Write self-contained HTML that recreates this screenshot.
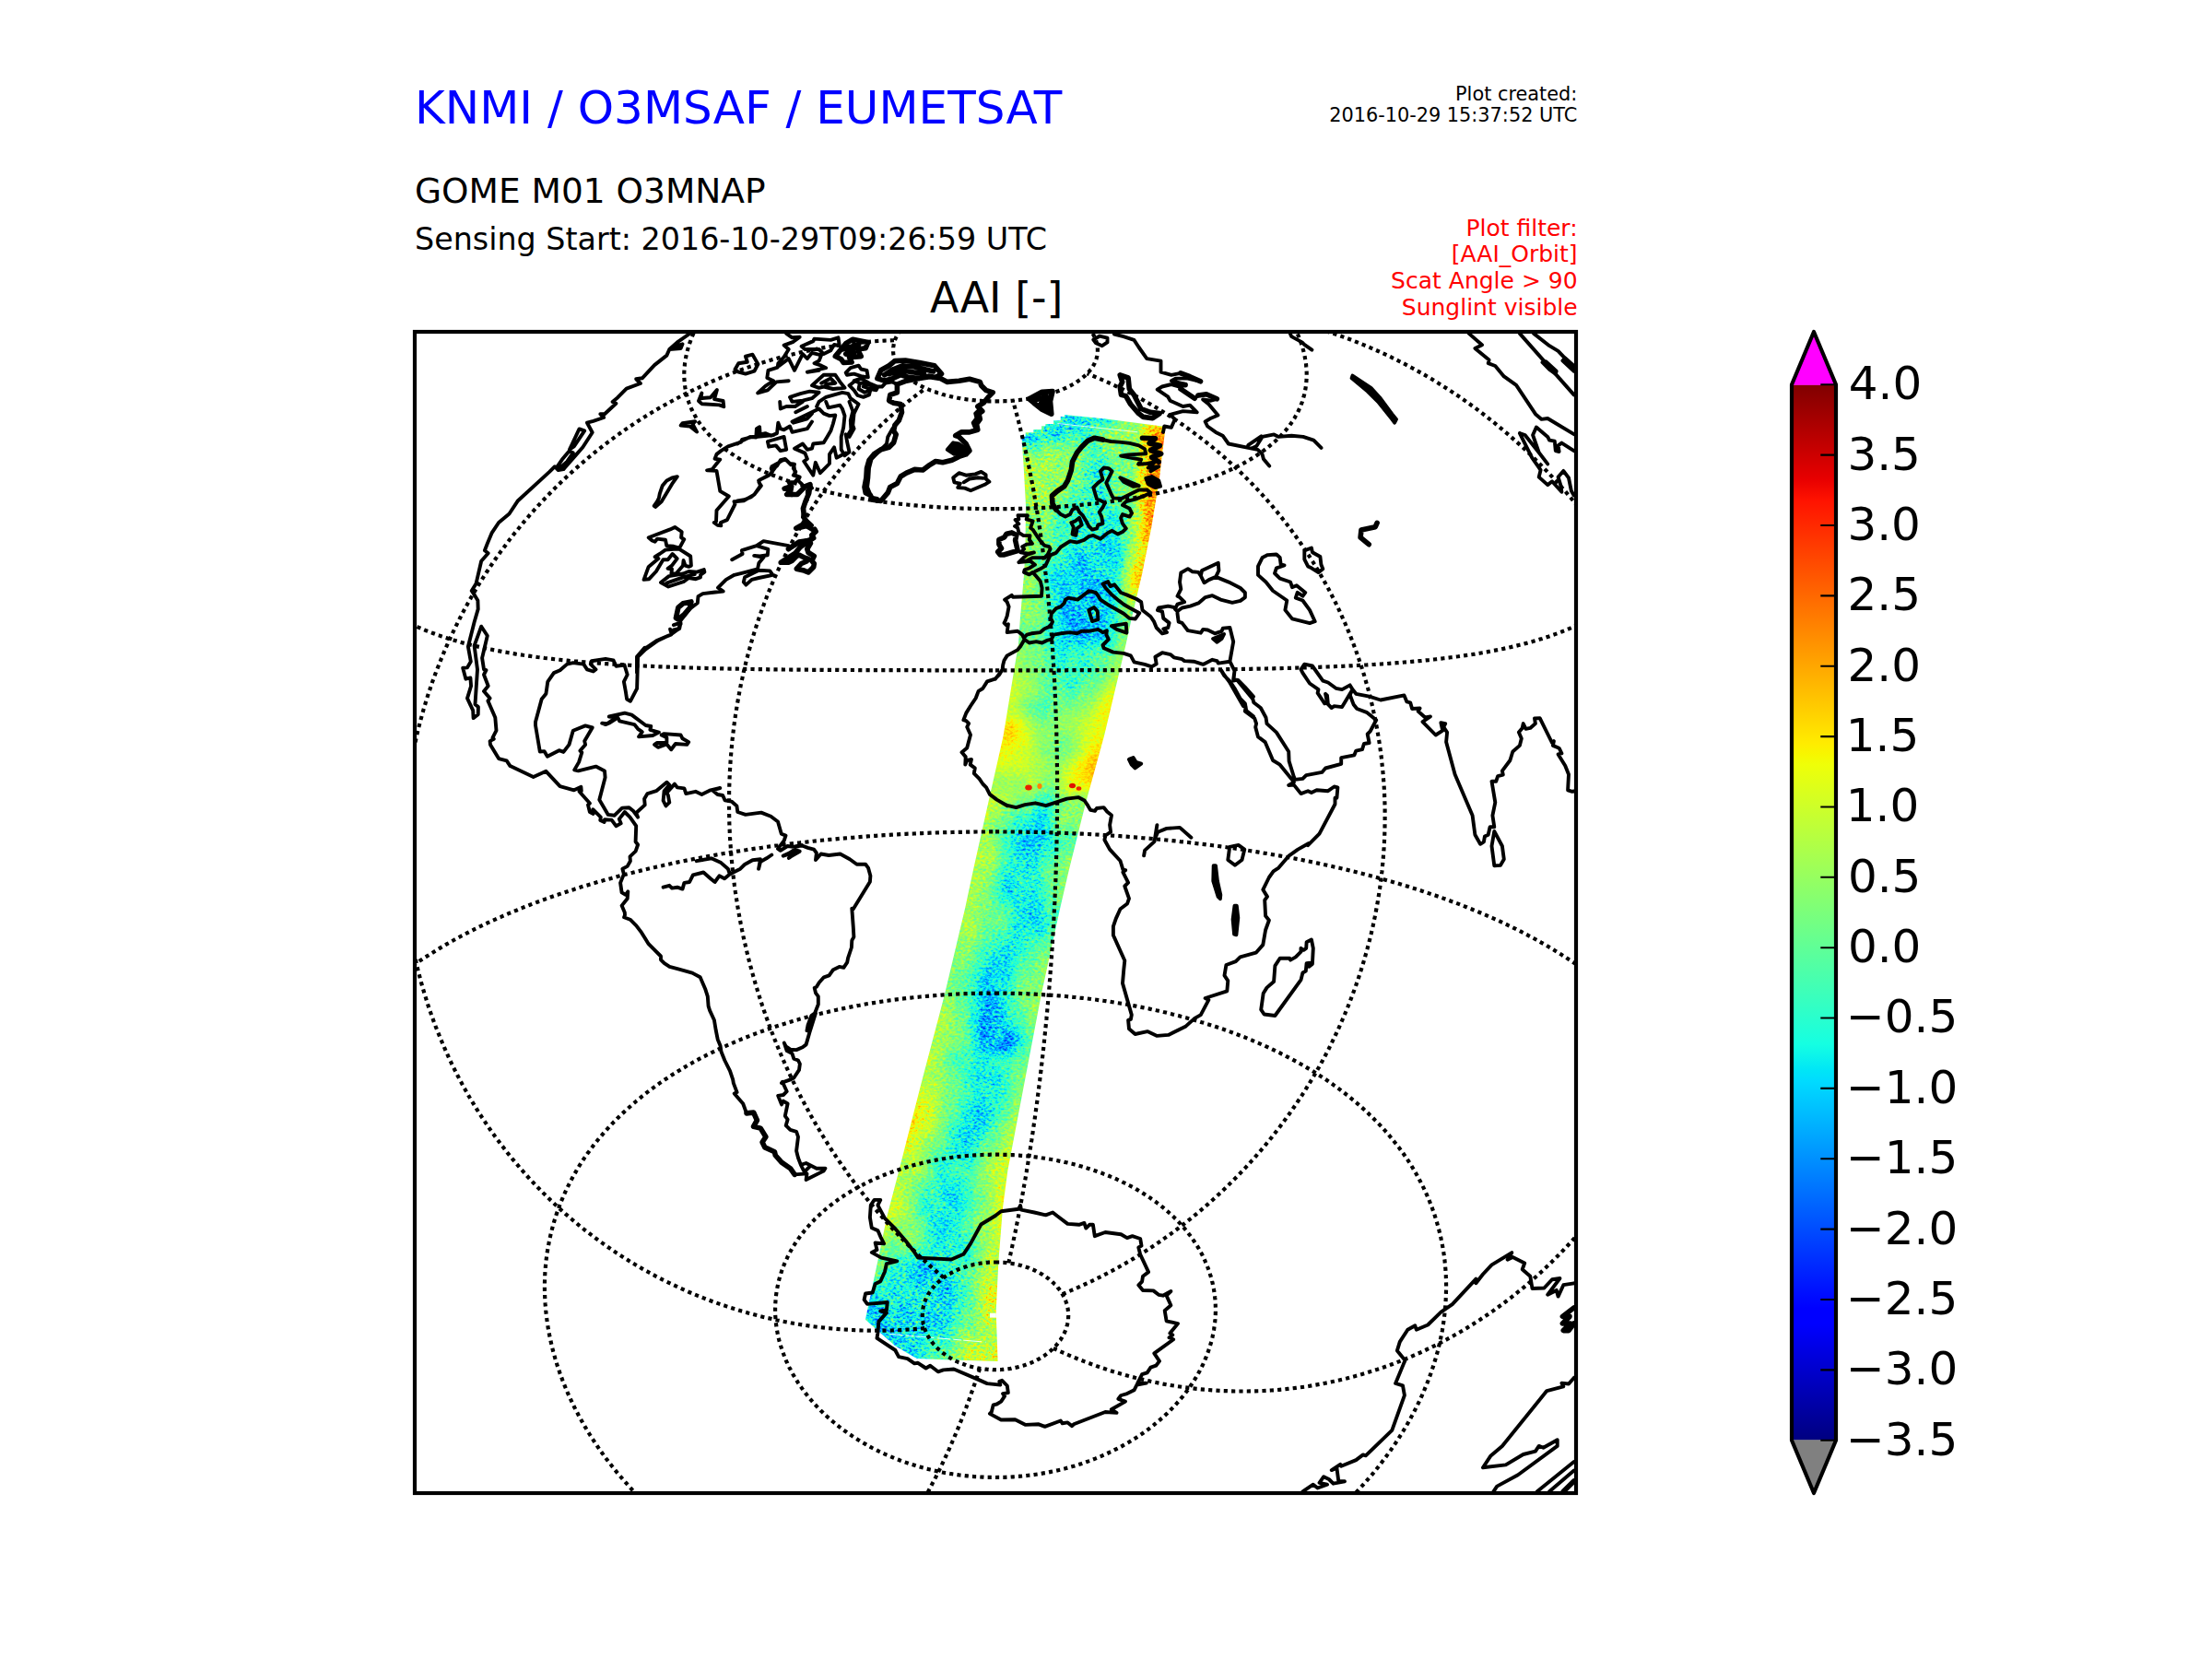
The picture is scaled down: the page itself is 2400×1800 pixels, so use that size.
<!DOCTYPE html>
<html lang="en"><head><meta charset="utf-8"><title>AAI GOME M01 O3MNAP</title>
<style>html,body{margin:0;padding:0;background:#fff}body{width:2400px;height:1800px;overflow:hidden}svg{display:block}text{font-family:"DejaVu Sans","Liberation Sans",sans-serif;fill:#000}.t5{font-size:20.83px}.t6{font-size:25px;fill:#f00}.t12{font-size:50px}.e{text-anchor:end}.g{fill:none;stroke:#000;stroke-width:4.17;stroke-dasharray:4.17 4.17}.c{fill:none;stroke:#000;stroke-width:3.9;stroke-linejoin:round;stroke-linecap:round}</style></head><body>
<svg width="2400" height="1800" viewBox="0 0 2400 1800">
<defs><clipPath id="ax"><rect x="450" y="360" width="1260" height="1260"/></clipPath>
<linearGradient id="jet" x1="0" y1="1" x2="0" y2="0"><stop offset="0" stop-color="#000080"/><stop offset="0.11" stop-color="#0000ff"/><stop offset="0.125" stop-color="#0000ff"/><stop offset="0.34" stop-color="#00dbff"/><stop offset="0.35" stop-color="#00e5f7"/><stop offset="0.375" stop-color="#15ffe2"/><stop offset="0.5" stop-color="#7bff7b"/><stop offset="0.64" stop-color="#efff08"/><stop offset="0.65" stop-color="#f7f600"/><stop offset="0.66" stop-color="#ffec00"/><stop offset="0.89" stop-color="#ff1300"/><stop offset="0.91" stop-color="#e80000"/><stop offset="1" stop-color="#800000"/></linearGradient>
</defs>
<rect width="2400" height="1800" fill="#fff"/>
<text x="450" y="133.5" class="t12" style="fill:#00f">KNMI / O3MSAF / EUMETSAT</text>
<text x="450" y="219.8" style="font-size:37.5px">GOME M01 O3MNAP</text>
<text x="450" y="270.6" style="font-size:33.33px">Sensing Start: 2016-10-29T09:26:59 UTC</text>
<text x="1711.3" y="108.5" class="t5 e">Plot created:</text>
<text x="1711.3" y="132.4" class="t5 e">2016-10-29 15:37:52 UTC</text>
<text x="1711.6" y="255.8" class="t6 e">Plot filter:</text>
<text x="1711.6" y="284.4" class="t6 e">[AAI_Orbit]</text>
<text x="1711.6" y="313.1" class="t6 e">Scat Angle &gt; 90</text>
<text x="1711.6" y="341.7" class="t6 e">Sunglint visible</text>
<text x="1081.3" y="338.8" style="font-size:45.83px;text-anchor:middle">AAI [-]</text>
<g clip-path="url(#ax)">
<defs><clipPath id="sw"><path d="M1108.4,473.6L1112.7,473.6L1112.7,469.3L1121.4,469.3L1121.4,466L1130.1,466L1130.1,462.2L1134.4,462.2L1134.4,460.1L1143.1,460.1L1143.1,456.3L1150.7,456.3L1150.7,451.9L1155.1,451.9L1155.1,450L1200,454.4L1264.6,463L1257.7,521.3L1249.3,571.9L1239.2,622.5L1227.3,673.2L1221.4,700L1215.2,726.2L1198,798.5L1178.1,870.8L1160,943.2L1150.3,985L1129.7,1079.5L1110.7,1178.9L1093.4,1270L1088,1310.6L1083.4,1368.5L1080.7,1422.7L1082.6,1477L1040,1475.8L994.8,1474.1L985,1468.5L970.9,1460L955,1446L938.9,1431.8L952.3,1368.5L962.3,1320L975.4,1270L998.6,1178.9L1024.8,1079.5L1047.2,985L1056.1,943.2L1072.3,870.8L1088.6,798.5L1100.4,726.2L1105,698.5L1106.7,673.2L1111.3,620L1112.5,590L1113,548.5L1110.6,505Z"/></clipPath><filter id="aai" filterUnits="userSpaceOnUse" x="900" y="420" width="400" height="1080" color-interpolation-filters="sRGB"><feGaussianBlur in="SourceGraphic" stdDeviation="3" result="b"/><feTurbulence type="fractalNoise" baseFrequency="0.3 0.42" numOctaves="2" seed="7" result="t"/><feColorMatrix in="t" type="matrix" values="1 0 0 0 0 1 0 0 0 0 1 0 0 0 0 0 0 0 0 1" result="nh"/><feTurbulence type="fractalNoise" baseFrequency="0.05 0.028" numOctaves="3" seed="11" result="t2"/><feColorMatrix in="t2" type="matrix" values="1 0 0 0 0 1 0 0 0 0 1 0 0 0 0 0 0 0 0 1" result="nl"/><feComposite in="nh" in2="nl" operator="arithmetic" k1="0" k2="0.72" k3="0.28" k4="0" result="n"/><feComposite in="b" in2="n" operator="arithmetic" k1="1" k2="0" k3="0" k4="0" result="p"/><feColorMatrix in="p" type="matrix" values="0 1.25 0 0 0 0 1.25 0 0 0 0 1.25 0 0 0 0 0 0 0 1" result="m1"/><feColorMatrix in="b" type="matrix" values="1 -0.625 0 0 0 1 -0.625 0 0 0 1 -0.625 0 0 0 0 0 0 0 1" result="m2"/><feComposite in="m1" in2="m2" operator="arithmetic" k1="0" k2="1" k3="1" k4="0" result="m"/><feComponentTransfer in="m"><feFuncR type="table" tableValues="0 0 0 0 0 0 0 0 0 0 0 0 0 0 0 0 0 0 0 0 0 0 0.054 0.108 0.161 0.215 0.269 0.323 0.376 0.43 0.484 0.538 0.591 0.645 0.699 0.753 0.806 0.86 0.914 0.968 1 1 1 1 1 1 1 1 1 1 1 1 1 1 0.955 0.879 0.803 0.727 0.652 0.576 0.5"/><feFuncG type="table" tableValues="0 0 0 0 0 0 0 0 0.033 0.1 0.167 0.233 0.3 0.367 0.433 0.5 0.567 0.633 0.7 0.767 0.833 0.9 0.967 1 1 1 1 1 1 1 1 1 1 1 1 1 1 1 1 0.963 0.901 0.84 0.778 0.716 0.654 0.593 0.531 0.469 0.407 0.346 0.284 0.222 0.16 0.099 0.037 0 0 0 0 0 0"/><feFuncB type="table" tableValues="0.5 0.576 0.652 0.727 0.803 0.879 0.955 1 1 1 1 1 1 1 1 1 1 1 1 1 1 0.968 0.914 0.86 0.806 0.753 0.699 0.645 0.591 0.538 0.484 0.43 0.376 0.323 0.269 0.215 0.161 0.108 0.054 0 0 0 0 0 0 0 0 0 0 0 0 0 0 0 0 0 0 0 0 0 0"/><feFuncA type="linear" slope="0" intercept="1"/></feComponentTransfer></filter></defs><g clip-path="url(#sw)"><g filter="url(#aai)"><rect x="900" y="420" width="400" height="1080" fill="#777700"/><path fill="#3a9000" d="M1075.9,1120h9.6v11h-9.6z"/><path fill="#3aa000" d="M906.8,1470h23.3v11h-23.3zM929.6,1470h13.3v11h-13.3zM942.3,1470h13.3v11h-13.3zM955.1,1470h13.3v11h-13.3z"/><path fill="#3c9000" d="M1078.1,1110h9.6v11h-9.6z"/><path fill="#3ca000" d="M909.2,1460h23.1v11h-23.1zM931.7,1460h13.1v11h-13.1z"/><path fill="#3d9000" d="M1069.2,1110h9.6v11h-9.6z"/><path fill="#3da000" d="M944.3,1460h13.1v11h-13.1z"/><path fill="#3ea000" d="M956.8,1460h13.1v11h-13.1z"/><path fill="#3f9000" d="M1180.2,650h10.9v11h-10.9zM1178.5,660h10.8v11h-10.8z"/><path fill="#3fa000" d="M911.6,1450h22.9v11h-22.9zM933.9,1450h12.9v11h-12.9z"/><path fill="#408000" d="M1168.3,660h10.8v11h-10.8z"/><path fill="#418000" d="M1169.9,650h10.9v11h-10.9zM1071.5,1100h9.5v11h-9.5zM1066.9,1120h9.6v11h-9.6z"/><path fill="#438000" d="M1181.9,640h11v11h-11zM1084.9,1120h9.6v11h-9.6z"/><path fill="#43a000" d="M946.2,1450h12.9v11h-12.9z"/><path fill="#448000" d="M1176.8,670h10.6v11h-10.6zM1080.3,1100h9.5v11h-9.5zM1073.7,1130h9.7v11h-9.7z"/><path fill="#44b000" d="M1082.5,440h24v11h-24zM1105.9,440h14v11h-14zM1119.3,440h14v11h-14zM1132.8,440h14v11h-14zM1146.2,440h14v11h-14zM1159.6,440h14v11h-14zM1083.5,450h23.8v11h-23.8zM1106.8,450h13.8v11h-13.8zM1084.6,460h23.7v11h-23.7zM1107.7,460h13.7v11h-13.7z"/><path fill="#458000" d="M1171.5,640h11v11h-11zM1166.7,670h10.6v11h-10.6z"/><path fill="#45a000" d="M967.8,1470h13.3v11h-13.3z"/><path fill="#46a000" d="M914,1440h22.7v11h-22.7zM936.1,1440h12.7v11h-12.7zM958.5,1450h12.9v11h-12.9z"/><path fill="#47a000" d="M1120,450h13.8v11h-13.8z"/><path fill="#488000" d="M1082.8,1130h9.7v11h-9.7z"/><path fill="#48a000" d="M969.3,1460h13.1v11h-13.1z"/><path fill="#499000" d="M948.2,1440h12.7v11h-12.7z"/><path fill="#4a8000" d="M1158.2,660h10.8v11h-10.8z"/><path fill="#4aa000" d="M1133.3,450h13.8v11h-13.8z"/><path fill="#4b8000" d="M1190.5,650h10.9v11h-10.9zM1188.6,660h10.8v11h-10.8zM1062.6,1100h9.5v11h-9.5z"/><path fill="#4c8000" d="M1173.1,630h11.1v11h-11.1zM1183.7,630h11.1v11h-11.1zM1159.6,650h10.9v11h-10.9zM1156.7,670h10.6v11h-10.6zM1073.7,1090h9.4v11h-9.4zM1064.6,1130h9.7v11h-9.7z"/><path fill="#4ca000" d="M1146.5,450h13.8v11h-13.8zM1120.7,460h13.7v11h-13.7z"/><path fill="#4d8000" d="M1186.8,670h10.6v11h-10.6zM1060.2,1110h9.6v11h-9.6z"/><path fill="#4d9000" d="M960.3,1440h12.7v11h-12.7z"/><path fill="#4da000" d="M1173,440h14v11h-14zM1159.8,450h13.8v11h-13.8z"/><path fill="#4e8000" d="M1192.3,640h11v11h-11zM1091.9,1130h9.7v11h-9.7z"/><path fill="#4e9000" d="M970.9,1450h12.9v11h-12.9z"/><path fill="#4f8000" d="M1161.1,640h11v11h-11zM1175.2,680h10.5v11h-10.5zM1094,1120h9.6v11h-9.6z"/><path fill="#4f9000" d="M1003.1,1390h11.9v11h-11.9z"/><path fill="#507000" d="M1087.1,1110h9.6v11h-9.6z"/><path fill="#508000" d="M1165.3,680h10.5v11h-10.5zM1064.9,1090h9.4v11h-9.4z"/><path fill="#509000" d="M1004.6,1380h11.7v11h-11.7zM1014.4,1390h11.9v11h-11.9zM1001.7,1400h12v11h-12zM987.2,1420h12.3v11h-12.3zM916.3,1430h22.5v11h-22.5zM938.2,1430h12.5v11h-12.5z"/><path fill="#519000" d="M1015.7,1380h11.7v11h-11.7zM988.7,1410h12.1v11h-12.1zM1000.2,1410h12.1v11h-12.1zM998.9,1420h12.3v11h-12.3zM950.1,1430h12.5v11h-12.5z"/><path fill="#527000" d="M1162.6,630h11.1v11h-11.1zM1155.4,680h10.5v11h-10.5zM1185.1,680h10.5v11h-10.5zM1117.1,900h9.3v11h-9.3zM1114.7,910h9.3v11h-9.3zM1082.6,1090h9.4v11h-9.4z"/><path fill="#528000" d="M1174.7,620h11.2v11h-11.2zM1185.4,620h11.2v11h-11.2z"/><path fill="#529000" d="M990.3,1400h12v11h-12zM962,1430h12.5v11h-12.5zM973.9,1430h12.5v11h-12.5zM985.9,1430h12.5v11h-12.5zM972.4,1440h12.7v11h-12.7z"/><path fill="#537000" d="M1056.2,1210h10.1v11h-10.1z"/><path fill="#539000" d="M991.8,1390h11.9v11h-11.9zM980.5,1470h13.3v11h-13.3z"/><path fill="#547000" d="M1194.2,630h11.1v11h-11.1zM1108.4,900h9.3v11h-9.3zM1106,910h9.3v11h-9.3zM1067.2,1080h9.4v11h-9.4zM1076,1080h9.4v11h-9.4zM1054,1220h10.2v11h-10.2z"/><path fill="#548000" d="M993.4,1380h11.7v11h-11.7z"/><path fill="#549000" d="M1013.1,1400h12v11h-12zM981.9,1460h13.1v11h-13.1z"/><path fill="#54a000" d="M1085.6,470h23.5v11h-23.5zM1108.5,470h13.5v11h-13.5z"/><path fill="#557000" d="M1164.1,620h11.2v11h-11.2zM1057.9,1120h9.6v11h-9.6zM1058.3,1200h10.1v11h-10.1zM1044.4,1220h10.2v11h-10.2z"/><path fill="#558000" d="M1176.1,610h11.4v11h-11.4zM1186.9,610h11.4v11h-11.4zM1006,1370h11.6v11h-11.6z"/><path fill="#559000" d="M975.5,1420h12.3v11h-12.3zM997.8,1430h12.5v11h-12.5z"/><path fill="#55a000" d="M1133.8,460h13.7v11h-13.7z"/><path fill="#567000" d="M1123.4,910h9.3v11h-9.3z"/><path fill="#569000" d="M1173,450h13.8v11h-13.8zM1011.8,1410h12.1v11h-12.1zM1010.6,1420h12.3v11h-12.3zM984.5,1440h12.7v11h-12.7z"/><path fill="#577000" d="M1148,660h10.8v11h-10.8zM1146.7,670h10.6v11h-10.6zM1196.8,670h10.6v11h-10.6zM1125.8,900h9.3v11h-9.3zM1042.2,1230h10.2v11h-10.2z"/><path fill="#578000" d="M995,1370h11.6v11h-11.6zM1017,1370h11.6v11h-11.6z"/><path fill="#579000" d="M918.7,1420h22.3v11h-22.3zM940.4,1420h12.3v11h-12.3zM983.2,1450h12.9v11h-12.9z"/><path fill="#587000" d="M1165.3,610h11.4v11h-11.4zM1196,620h11.2v11h-11.2zM1152.1,630h11.1v11h-11.1zM1149.4,650h10.9v11h-10.9zM1198.8,660h10.8v11h-10.8zM1145.5,680h10.5v11h-10.5zM1195,680h10.5v11h-10.5zM1056.1,1090h9.4v11h-9.4zM1046.6,1210h10.1v11h-10.1z"/><path fill="#588000" d="M1177.3,600h11.5v11h-11.5zM1188.2,600h11.5v11h-11.5z"/><path fill="#589000" d="M952.1,1420h12.3v11h-12.3zM963.8,1420h12.3v11h-12.3z"/><path fill="#597000" d="M1150.7,640h11v11h-11zM1200.7,650h10.9v11h-10.9zM1119.5,890h9.4v11h-9.4zM1112.4,920h9.3v11h-9.3zM1096.8,950h9.2v11h-9.2zM1103.2,960h9.2v11h-9.2zM1122.3,990h9.2v11h-9.2zM1120.1,1000h9.2v11h-9.2zM1069.5,1070h9.3v11h-9.3zM1078.3,1070h9.3v11h-9.3zM1058.4,1080h9.4v11h-9.4zM1053.7,1100h9.5v11h-9.5zM1051.8,1230h10.2v11h-10.2z"/><path fill="#598000" d="M1178.5,590h11.6v11h-11.6zM1026.8,1380h11.7v11h-11.7zM1025.7,1390h11.9v11h-11.9z"/><path fill="#599000" d="M977.1,1410h12.1v11h-12.1z"/><path fill="#5a7000" d="M1197.6,610h11.4v11h-11.4zM1153.4,620h11.2v11h-11.2zM1154.1,690h10.4v11h-10.4zM1163.9,690h10.4v11h-10.4zM1099.6,900h9.3v11h-9.3zM1099,940h9.3v11h-9.3zM1105.4,950h9.2v11h-9.2zM1094.6,960h9.2v11h-9.2z"/><path fill="#5a8000" d="M1189.5,590h11.6v11h-11.6zM920.9,1410h22.1v11h-22.1zM942.5,1410h12.1v11h-12.1zM1009.7,1430h12.5v11h-12.5z"/><path fill="#5b7000" d="M1202.7,640h11v11h-11zM1173.6,690h10.4v11h-10.4zM1183.4,690h10.4v11h-10.4zM1110.7,890h9.4v11h-9.4zM1097.3,910h9.3v11h-9.3zM1103.7,920h9.3v11h-9.3zM1107.6,940h9.3v11h-9.3zM1109.6,970h9.2v11h-9.2zM1113.7,990h9.2v11h-9.2zM1111.4,1000h9.2v11h-9.2zM1074.1,1050h9.3v11h-9.3zM1082.8,1050h9.3v11h-9.3zM1071.8,1060h9.3v11h-9.3zM1080.5,1060h9.3v11h-9.3zM1084.8,1080h9.4v11h-9.4zM1089.2,1100h9.5v11h-9.5zM1060.5,1190h10v11h-10zM1007.5,1360h11.5v11h-11.5z"/><path fill="#5b8000" d="M1166.4,600h11.5v11h-11.5z"/><path fill="#5b9000" d="M1146.9,460h13.7v11h-13.7z"/><path fill="#5c7000" d="M1121.1,920h9.3v11h-9.3zM1110,930h9.3v11h-9.3zM1111.8,960h9.2v11h-9.2zM1101,970h9.2v11h-9.2zM1124.5,980h9.2v11h-9.2zM1109.2,1010h9.2v11h-9.2zM1087.4,1030h9.3v11h-9.3zM1076.4,1040h9.3v11h-9.3zM1085.1,1040h9.3v11h-9.3zM1055.6,1130h9.7v11h-9.7zM1071.5,1140h9.7v11h-9.7zM1048.8,1200h10.1v11h-10.1zM1018.3,1360h11.5v11h-11.5z"/><path fill="#5c8000" d="M1179.6,580h11.8v11h-11.8zM978.8,1400h12v11h-12zM996.6,1440h12.7v11h-12.7z"/><path fill="#5d7000" d="M1199.1,600h11.5v11h-11.5zM1154.6,610h11.4v11h-11.4zM1144.3,690h10.4v11h-10.4zM1101.3,930h9.3v11h-9.3zM1115.9,980h9.2v11h-9.2zM1117.8,1010h9.2v11h-9.2zM1060.8,1070h9.3v11h-9.3zM1062.4,1140h9.7v11h-9.7zM1064.9,1170h9.9v11h-9.9zM1062.7,1180h10v11h-10zM1027.5,1300h10.8v11h-10.8zM1025.6,1310h10.9v11h-10.9z"/><path fill="#5d8000" d="M1190.8,580h11.8v11h-11.8zM1167.5,590h11.6v11h-11.6zM1024.5,1400h12v11h-12zM954,1410h12.1v11h-12.1z"/><path fill="#5d9000" d="M1186.4,440h14v11h-14zM1121.4,470h13.5v11h-13.5z"/><path fill="#5e7000" d="M1128.2,890h9.4v11h-9.4zM1088.1,950h9.2v11h-9.2zM1107.3,980h9.2v11h-9.2zM1100.6,1010h9.2v11h-9.2zM1089.6,1020h9.3v11h-9.3zM1098.3,1020h9.3v11h-9.3zM1078.7,1030h9.3v11h-9.3zM1067.8,1200h10.1v11h-10.1zM1040,1240h10.3v11h-10.3zM996.6,1360h11.5v11h-11.5z"/><path fill="#5e8000" d="M1028,1370h11.6v11h-11.6zM980.6,1390h11.9v11h-11.9zM923.2,1400h22v11h-22zM944.6,1400h12v11h-12zM1022.3,1420h12.3v11h-12.3z"/><path fill="#5f7000" d="M1200.6,590h11.6v11h-11.6zM1204.7,630h11.1v11h-11.1zM1193.2,690h10.4v11h-10.4zM1132.2,910h9.3v11h-9.3zM1118.7,930h9.3v11h-9.3zM1114.1,950h9.2v11h-9.2zM1118.2,970h9.2v11h-9.2zM1105.1,990h9.2v11h-9.2zM1102.8,1000h9.2v11h-9.2zM1096,1030h9.3v11h-9.3zM1065.4,1050h9.3v11h-9.3zM1063.1,1060h9.3v11h-9.3zM1051.3,1110h9.6v11h-9.6zM1080.6,1140h9.7v11h-9.7zM1067.1,1160h9.9v11h-9.9zM1074.2,1170h9.9v11h-9.9zM1065.7,1210h10.1v11h-10.1zM1019.4,1290h10.7v11h-10.7zM1029.5,1290h10.7v11h-10.7zM1017.3,1300h10.8v11h-10.8zM1015.3,1310h10.9v11h-10.9zM1024.1,1320h11.1v11h-11.1zM1019.8,1350h11.4v11h-11.4zM1030.6,1350h11.4v11h-11.4zM984,1370h11.6v11h-11.6z"/><path fill="#5f8000" d="M1180.7,570h11.9v11h-11.9zM1168.4,580h11.8v11h-11.8zM982.3,1380h11.7v11h-11.7zM965.6,1410h12.1v11h-12.1zM1023.3,1410h12.1v11h-12.1z"/><path fill="#606000" d="M1121.8,880h9.4v11h-9.4zM1116.3,940h9.3v11h-9.3zM1092.4,970h9.2v11h-9.2zM1107,1020h9.3v11h-9.3zM1067.7,1040h9.3v11h-9.3zM1051.1,1190h10v11h-10z"/><path fill="#607000" d="M1155.5,600h11.5v11h-11.5zM1090.3,940h9.3v11h-9.3zM1086,960h9.2v11h-9.2zM1087,1070h9.3v11h-9.3zM1032.5,1230h10.2v11h-10.2zM1022.6,1330h11.2v11h-11.2zM1021.2,1340h11.3v11h-11.3zM1031.9,1340h11.3v11h-11.3zM1029.2,1360h11.5v11h-11.5z"/><path fill="#608000" d="M1192,570h11.9v11h-11.9zM995.5,1450h12.9v11h-12.9zM994.4,1460h13.1v11h-13.1z"/><path fill="#609000" d="M1160,460h13.7v11h-13.7z"/><path fill="#616000" d="M1101.9,890h9.4v11h-9.4zM1081,1020h9.3v11h-9.3zM1093.8,1040h9.3v11h-9.3zM1076.3,1160h9.9v11h-9.9zM1055.5,1170h9.9v11h-9.9zM1072,1180h10v11h-10zM1069.9,1190h10v11h-10zM1049.7,1240h10.3v11h-10.3zM1021.4,1280h10.6v11h-10.6zM1031.4,1280h10.6v11h-10.6zM1013.6,1320h11.1v11h-11.1z"/><path fill="#617000" d="M1156.4,590h11.6v11h-11.6zM1142.8,620h11.2v11h-11.2zM1141.6,630h11.1v11h-11.1z"/><path fill="#618000" d="M956,1400h12v11h-12zM993.3,1470h13.3v11h-13.3z"/><path fill="#626000" d="M1091.9,1010h9.2v11h-9.2zM1091.5,1050h9.3v11h-9.3zM1089.3,1060h9.3v11h-9.3zM1057.8,1160h9.9v11h-9.9zM1053.3,1180h10v11h-10zM1034.8,1220h10.2v11h-10.2zM1063.6,1220h10.2v11h-10.2zM1037.7,1250h10.4v11h-10.4zM1033.2,1330h11.2v11h-11.2z"/><path fill="#627000" d="M1206.7,620h11.2v11h-11.2z"/><path fill="#628000" d="M1181.6,560h12.1v11h-12.1zM1169.3,570h11.9v11h-11.9zM1021.6,1430h12.5v11h-12.5zM1008.8,1440h12.7v11h-12.7z"/><path fill="#636000" d="M1140.3,640h11v11h-11zM1152.4,700h10.3v11h-10.3zM1134.6,900h9.3v11h-9.3zM1095,920h9.3v11h-9.3zM1120.4,960h9.2v11h-9.2zM1070,1030h9.3v11h-9.3zM1049.7,1080h9.4v11h-9.4zM1100.9,1130h9.7v11h-9.7zM1053.2,1140h9.7v11h-9.7zM1089.8,1140h9.7v11h-9.7zM1083.5,1170h9.9v11h-9.9zM1030.3,1240h10.3v11h-10.3zM1033.4,1270h10.5v11h-10.5zM1037.7,1300h10.8v11h-10.8zM1036,1310h10.9v11h-10.9zM1034.5,1320h11.1v11h-11.1z"/><path fill="#637000" d="M1202,580h11.8v11h-11.8zM1208.4,610h11.4v11h-11.4z"/><path fill="#638000" d="M1193.1,560h12.1v11h-12.1zM925.4,1390h21.9v11h-21.9zM946.7,1390h11.9v11h-11.9z"/><path fill="#646000" d="M1113.1,880h9.4v11h-9.4zM1130.6,880h9.4v11h-9.4zM1129.8,920h9.3v11h-9.3zM1126.8,970h9.2v11h-9.2zM1098.8,980h9.2v11h-9.2zM1130.9,990h9.2v11h-9.2zM1094.2,1000h9.2v11h-9.2zM1115.6,1020h9.3v11h-9.3zM1091.4,1090h9.4v11h-9.4zM1096,1110h9.6v11h-9.6zM1103,1120h9.6v11h-9.6zM1069.3,1150h9.8v11h-9.8zM1035.5,1260h10.4v11h-10.4zM1023.5,1270h10.5v11h-10.5zM1009.3,1290h10.7v11h-10.7zM1007.1,1300h10.8v11h-10.8zM1012.1,1330h11.2v11h-11.2z"/><path fill="#647000" d="M1157.3,580h11.8v11h-11.8zM1009,1350h11.4v11h-11.4z"/><path fill="#648000" d="M1182.5,550h12.2v11h-12.2zM967.4,1400h12v11h-12z"/><path fill="#649000" d="M1186.3,450h13.8v11h-13.8z"/><path fill="#656000" d="M1139.1,650h10.9v11h-10.9zM1135.6,680h10.5v11h-10.5zM1142.7,700h10.3v11h-10.3zM1162.1,700h10.3v11h-10.3zM1092.6,930h9.3v11h-9.3zM1052.1,1070h9.3v11h-9.3zM1060.1,1150h9.8v11h-9.8zM1085.6,1160h9.9v11h-9.9zM1028,1250h10.4v11h-10.4zM1025.7,1260h10.4v11h-10.4zM1039.6,1290h10.7v11h-10.7zM1005,1310h10.9v11h-10.9z"/><path fill="#657000" d="M1143.8,610h11.4v11h-11.4z"/><path fill="#658000" d="M1194.1,550h12.2v11h-12.2zM958,1390h11.9v11h-11.9z"/><path fill="#666000" d="M1096.5,990h9.2v11h-9.2zM1104.7,1030h9.3v11h-9.3zM1047.2,1090h9.4v11h-9.4zM1047.5,1250h10.4v11h-10.4zM1011.4,1280h10.6v11h-10.6z"/><path fill="#667000" d="M1210,600h11.5v11h-11.5zM985.7,1360h11.5v11h-11.5z"/><path fill="#668000" d="M1183.3,540h12.3v11h-12.3zM1170.2,560h12.1v11h-12.1z"/><path fill="#669000" d="M1134.3,470h13.5v11h-13.5z"/><path fill="#676000" d="M1137.9,660h10.8v11h-10.8zM1136.7,670h10.6v11h-10.6zM1134.6,690h10.4v11h-10.4zM1171.8,700h10.3v11h-10.3zM1124.2,870h9.4v11h-9.4zM1133,870h9.4v11h-9.4zM1090.9,900h9.3v11h-9.3zM1083.8,970h9.2v11h-9.2zM1133.1,980h9.2v11h-9.2zM1128.7,1000h9.2v11h-9.2zM1083.3,1010h9.2v11h-9.2zM1072.3,1020h9.3v11h-9.3zM1054.4,1060h9.3v11h-9.3zM1048.9,1120h9.6v11h-9.6zM1050.9,1150h9.8v11h-9.8zM1078.5,1150h9.8v11h-9.8zM1081.4,1180h10v11h-10zM1061.5,1230h10.2v11h-10.2zM1041.4,1280h10.6v11h-10.6zM1010.5,1340h11.3v11h-11.3z"/><path fill="#677000" d="M1158,570h11.9v11h-11.9zM1145.4,590h11.6v11h-11.6zM1144.6,600h11.5v11h-11.5z"/><path fill="#678000" d="M1183.8,530h12.5v11h-12.5zM969.3,1390h11.9v11h-11.9z"/><path fill="#686000" d="M1181.5,700h10.3v11h-10.3zM1127.3,930h9.3v11h-9.3zM1056.7,1050h9.3v11h-9.3zM1048.6,1160h9.9v11h-9.9zM1079.4,1190h10v11h-10zM1077.3,1200h10.1v11h-10.1zM1045.3,1260h10.4v11h-10.4zM1043.3,1270h10.5v11h-10.5zM1003.1,1320h11.1v11h-11.1zM1041.3,1350h11.4v11h-11.4z"/><path fill="#687000" d="M1203.3,570h11.9v11h-11.9zM973,1370h11.6v11h-11.6z"/><path fill="#688000" d="M1173,460h13.7v11h-13.7zM1195,540h12.3v11h-12.3zM1007.8,1450h12.9v11h-12.9z"/><path fill="#696000" d="M1206.8,670h10.6v11h-10.6zM1150.4,710h10.2v11h-10.2zM1158,720h10.2v11h-10.2zM1167.6,720h10.2v11h-10.2zM1156,730h10.1v11h-10.1zM1140.9,910h9.3v11h-9.3zM1044.1,1140h9.7v11h-9.7zM1037.1,1210h10.1v11h-10.1zM1013.6,1270h10.5v11h-10.5zM1042.6,1340h11.3v11h-11.3z"/><path fill="#697000" d="M1211.6,590h11.6v11h-11.6zM971.1,1380h11.7v11h-11.7z"/><path fill="#698000" d="M1184.4,520h12.7v11h-12.7zM1170.9,550h12.2v11h-12.2zM1020.9,1440h12.7v11h-12.7z"/><path fill="#6a6000" d="M1132.2,620h11.2v11h-11.2zM1131,630h11.1v11h-11.1zM1160.1,710h10.2v11h-10.2zM1148.5,720h10.2v11h-10.2zM1165.5,730h10.1v11h-10.1zM1104.3,880h9.4v11h-9.4zM1088.6,910h9.3v11h-9.3zM1122.7,950h9.2v11h-9.2zM1059,1040h9.3v11h-9.3zM1046.5,1130h9.7v11h-9.7zM1041.7,1150h9.8v11h-9.8zM1046.2,1170h9.9v11h-9.9zM998.2,1350h11.4v11h-11.4z"/><path fill="#6a7000" d="M1146.1,580h11.8v11h-11.8z"/><path fill="#6a8000" d="M1184.8,510h12.9v11h-12.9zM1171.5,540h12.3v11h-12.3z"/><path fill="#6b6000" d="M1208.9,660h10.8v11h-10.8zM1191.1,700h10.3v11h-10.3zM1140.8,710h10.2v11h-10.2zM1177.2,720h10.2v11h-10.2zM1125,940h9.3v11h-9.3zM1079.5,950h9.2v11h-9.2zM1085.6,1000h9.2v11h-9.2zM1126.5,1010h9.2v11h-9.2zM1093.5,1080h9.4v11h-9.4zM1087.7,1150h9.8v11h-9.8zM1075.2,1210h10.1v11h-10.1zM1022.9,1230h10.2v11h-10.2zM1020.6,1240h10.3v11h-10.3zM1018.2,1250h10.4v11h-10.4zM1015.9,1260h10.4v11h-10.4zM1001.5,1330h11.2v11h-11.2zM1040.1,1360h11.5v11h-11.5z"/><path fill="#6b7000" d="M1158.7,560h12.1v11h-12.1zM1204.6,560h12.1v11h-12.1zM960,1380h11.7v11h-11.7z"/><path fill="#6b8000" d="M1199.8,440h14v11h-14zM1147.2,470h13.5v11h-13.5zM1197.1,510h12.9v11h-12.9zM1171.9,530h12.5v11h-12.5zM1195.8,530h12.5v11h-12.5z"/><path fill="#6c6000" d="M1169.7,710h10.2v11h-10.2zM1146.5,730h10.1v11h-10.1zM1154,740h10v11h-10zM1093.2,890h9.4v11h-9.4zM1138.5,920h9.3v11h-9.3zM1077.3,960h9.2v11h-9.2zM1129.1,960h9.2v11h-9.2zM1090.2,980h9.2v11h-9.2zM1044.8,1100h9.5v11h-9.5z"/><path fill="#6c7000" d="M1038,1380h11.7v11h-11.7z"/><path fill="#6c8000" d="M1185.1,500h13v11h-13zM1196.5,520h12.7v11h-12.7z"/><path fill="#6d6000" d="M1133,610h11.4v11h-11.4zM1129.9,640h11v11h-11zM1133,700h10.3v11h-10.3zM1115.4,870h9.4v11h-9.4zM1137,890h9.4v11h-9.4zM1074.6,1010h9.2v11h-9.2zM1061.4,1030h9.3v11h-9.3zM1098.9,1140h9.7v11h-9.7zM1039.4,1200h10.1v11h-10.1z"/><path fill="#6d7000" d="M1213.2,580h11.8v11h-11.8zM1039,1370h11.6v11h-11.6zM927.7,1380h21.7v11h-21.7zM948.8,1380h11.7v11h-11.7zM1037,1390h11.9v11h-11.9zM1034,1420h12.3v11h-12.3zM1006.9,1460h13.1v11h-13.1z"/><path fill="#6d8000" d="M1197.6,500h13v11h-13zM1172.3,520h12.7v11h-12.7z"/><path fill="#6e6000" d="M1133.7,600h11.5v11h-11.5zM1204.9,680h10.5v11h-10.5zM1179.3,710h10.2v11h-10.2zM1138.9,720h10.2v11h-10.2zM1175.1,730h10.1v11h-10.1zM1144.6,740h10v11h-10zM1163.5,740h10v11h-10zM1143.3,900h9.3v11h-9.3zM1081.7,940h9.3v11h-9.3zM1113.4,1030h9.3v11h-9.3zM1043.3,1070h9.3v11h-9.3zM1043.9,1180h10v11h-10zM1025.2,1220h10.2v11h-10.2zM999.2,1290h10.7v11h-10.7zM996.9,1300h10.8v11h-10.8zM974.8,1360h11.5v11h-11.5z"/><path fill="#6e7000" d="M1205.7,550h12.2v11h-12.2zM1146.7,570h11.9v11h-11.9zM1134.4,590h11.6v11h-11.6zM1033.5,1430h12.5v11h-12.5z"/><path fill="#6f6000" d="M1186.8,720h10.2v11h-10.2zM1135.5,860h9.4v11h-9.4zM1087.9,990h9.2v11h-9.2zM1139.5,990h9.2v11h-9.2zM1148.1,990h19.2v11h-19.2zM1102.5,1040h9.3v11h-9.3zM1045.7,1060h9.3v11h-9.3zM1040.9,1080h9.4v11h-9.4zM1034.9,1140h9.7v11h-9.7zM1039.3,1160h9.9v11h-9.9zM1041.6,1190h10v11h-10zM1059.4,1240h10.3v11h-10.3zM1043.8,1330h11.2v11h-11.2zM999.9,1340h11.3v11h-11.3z"/><path fill="#6f7000" d="M1159.3,550h12.2v11h-12.2zM1035.9,1400h12v11h-12zM1034.9,1410h12.1v11h-12.1zM1006,1470h13.3v11h-13.3z"/><path fill="#6f8000" d="M1160.1,470h13.5v11h-13.5z"/><path fill="#705000" d="M1048,1050h9.3v11h-9.3zM1095.7,1070h9.3v11h-9.3z"/><path fill="#706000" d="M1126.7,860h9.4v11h-9.4zM1135.4,970h9.2v11h-9.2zM1073.2,1220h10.2v11h-10.2zM1001.5,1280h10.6v11h-10.6zM994.6,1310h10.9v11h-10.9z"/><path fill="#708000" d="M1199.5,450h13.8v11h-13.8zM1185.4,490h13.2v11h-13.2zM1198,490h13.2v11h-13.2z"/><path fill="#715000" d="M1128.8,650h10.9v11h-10.9zM1125.7,680h10.5v11h-10.5zM1124.8,690h10.4v11h-10.4zM1189,710h10.2v11h-10.2zM1137,730h10.1v11h-10.1zM1142.6,750h10v11h-10zM1152,750h10v11h-10zM1141.8,870h9.4v11h-9.4zM1149.6,910h9.3v11h-9.3zM1136,930h9.3v11h-9.3zM1063.7,1020h9.3v11h-9.3zM1124.3,1020h9.3v11h-9.3zM1098.1,1100h9.5v11h-9.5zM1042.3,1110h9.6v11h-9.6zM1105,1110h9.6v11h-9.6zM1032.5,1150h9.8v11h-9.8z"/><path fill="#716000" d="M961.9,1370h11.6v11h-11.6z"/><path fill="#717000" d="M1159.8,540h12.3v11h-12.3zM1134.9,580h11.8v11h-11.8zM1020.2,1450h12.9v11h-12.9z"/><path fill="#718000" d="M1172.5,510h12.9v11h-12.9z"/><path fill="#725000" d="M1211,650h10.9v11h-10.9zM1131.2,710h10.2v11h-10.2zM1131.4,760h9.9v11h-9.9zM1139.4,880h9.4v11h-9.4zM1075.2,970h9.2v11h-9.2zM1141.7,980h9.2v11h-9.2zM1150.3,980h19.2v11h-19.2zM1096.9,1150h9.8v11h-9.8zM1094.8,1160h9.9v11h-9.9zM1045,1320h11.1v11h-11.1z"/><path fill="#726000" d="M1052.1,1350h11.4v11h-11.4z"/><path fill="#727000" d="M1160,530h12.5v11h-12.5zM1206.8,540h12.3v11h-12.3zM1214.7,570h11.9v11h-11.9z"/><path fill="#728000" d="M1186.1,460h13.7v11h-13.7z"/><path fill="#735000" d="M1203,690h10.4v11h-10.4zM1135.1,740h10v11h-10zM1140.7,760h9.9v11h-9.9zM1095.5,880h9.4v11h-9.4zM1082.1,900h9.3v11h-9.3zM1077,1000h9.2v11h-9.2zM1050.4,1040h9.3v11h-9.3zM1100.2,1050h9.3v11h-9.3zM1098,1060h9.3v11h-9.3zM1092.8,1170h9.9v11h-9.9zM1057.2,1250h10.4v11h-10.4zM1047.9,1300h10.8v11h-10.8zM1046.3,1310h10.9v11h-10.9zM1053.2,1340h11.3v11h-11.3z"/><path fill="#736000" d="M987.4,1350h11.4v11h-11.4z"/><path fill="#737000" d="M1147.2,560h12.1v11h-12.1zM1033,1440h12.7v11h-12.7z"/><path fill="#738000" d="M1173,470h13.5v11h-13.5zM1185.7,480h13.3v11h-13.3z"/><path fill="#745000" d="M1184.6,730h10.1v11h-10.1zM1133.2,750h10v11h-10zM1152.1,900h9.3v11h-9.3zM1086.3,920h9.3v11h-9.3zM1131.3,950h9.2v11h-9.2zM1081.6,980h9.2v11h-9.2zM1137.3,1000h9.2v11h-9.2zM1145.9,1000h19.2v11h-19.2zM1038.4,1090h9.4v11h-9.4zM1037.4,1130h9.7v11h-9.7zM1036.9,1170h9.9v11h-9.9zM1049.7,1290h10.7v11h-10.7zM992.7,1320h11.1v11h-11.1z"/><path fill="#748000" d="M1172.7,500h13v11h-13z"/><path fill="#755000" d="M1127.7,660h10.8v11h-10.8zM1126.6,670h10.6v11h-10.6zM1161.4,750h10v11h-10zM1106.6,870h9.4v11h-9.4zM1147.2,920h9.3v11h-9.3zM1084,930h9.3v11h-9.3zM1100.2,1090h9.4v11h-9.4zM1039.9,1120h9.6v11h-9.6zM1071.1,1230h10.2v11h-10.2zM1055.1,1260h10.4v11h-10.4zM1003.8,1270h10.5v11h-10.5zM1051.4,1280h10.6v11h-10.6z"/><path fill="#758000" d="M1086.5,480h23.3v11h-23.3zM1109.2,480h13.3v11h-13.3zM1160.2,520h12.7v11h-12.7z"/><path fill="#765000" d="M1123.3,700h10.3v11h-10.3zM1129.3,720h10.2v11h-10.2zM1172.9,740h10v11h-10zM1129.5,770h9.9v11h-9.9zM1133.6,940h9.3v11h-9.3zM1052.7,1030h9.3v11h-9.3zM1025.8,1140h9.7v11h-9.7zM1090.8,1180h10v11h-10zM1027.6,1210h10.1v11h-10.1zM1053.2,1270h10.5v11h-10.5z"/><path fill="#766000" d="M1135.3,570h11.9v11h-11.9zM1051,1360h11.5v11h-11.5z"/><path fill="#767000" d="M1216,560h12.1v11h-12.1z"/><path fill="#768000" d="M1198.4,480h13.3v11h-13.3z"/><path fill="#775000" d="M1122,760h9.9v11h-9.9zM1084.4,890h9.4v11h-9.4zM1137.7,960h9.2v11h-9.2zM1066,1010h9.2v11h-9.2zM1037,1060h9.3v11h-9.3zM1110,1130h9.7v11h-9.7zM1119.1,1130h19.7v11h-19.7zM1108,1140h9.7v11h-9.7zM1117.2,1140h19.7v11h-19.7zM1006.1,1260h10.4v11h-10.4zM990.9,1330h11.2v11h-11.2z"/><path fill="#776000" d="M963.9,1360h11.5v11h-11.5z"/><path fill="#777000" d="M1213.3,440h14v11h-14zM1185.9,470h13.5v11h-13.5zM1172.9,480h13.3v11h-13.3zM1147.7,550h12.2v11h-12.2z"/><path fill="#785000" d="M1121.5,620h11.2v11h-11.2zM1138.8,770h9.9v11h-9.9zM1079.8,910h9.3v11h-9.3zM1079.3,990h9.2v11h-9.2zM1122.1,1030h9.3v11h-9.3zM1039.3,1050h9.3v11h-9.3zM1034.6,1070h9.3v11h-9.3zM1023.3,1150h9.8v11h-9.8zM1088.8,1190h10v11h-10zM1086.8,1200h10.1v11h-10.1z"/><path fill="#786000" d="M1122.8,600h11.5v11h-11.5zM1122.3,610h11.4v11h-11.4z"/><path fill="#787000" d="M1121.9,480h13.3v11h-13.3zM1172.8,490h13.2v11h-13.2zM1209.4,510h12.9v11h-12.9zM1207.7,530h12.5v11h-12.5zM1019.5,1460h13.1v11h-13.1z"/><path fill="#795000" d="M1120.5,630h11.1v11h-11.1zM1115.8,680h10.5v11h-10.5zM1127.5,730h10.1v11h-10.1zM1150,760h9.9v11h-9.9zM1148.2,810h9.6v11h-9.6zM1158.3,910h9.3v11h-9.3zM1167,910h19.3v11h-19.3zM1070.9,950h9.2v11h-9.2zM1068.7,960h9.2v11h-9.2zM1135.1,1010h9.2v11h-9.2zM1143.8,1010h19.2v11h-19.2zM1107,1100h9.5v11h-9.5zM1112,1120h9.6v11h-9.6zM1121,1120h19.6v11h-19.6zM1106.1,1150h9.8v11h-9.8zM1115.3,1150h19.8v11h-19.8zM1030,1160h9.9v11h-9.9zM1034.5,1180h10v11h-10zM1010.9,1240h10.3v11h-10.3zM1008.5,1250h10.4v11h-10.4zM989.1,1290h10.7v11h-10.7zM986.6,1300h10.8v11h-10.8zM989.2,1340h11.3v11h-11.3z"/><path fill="#797000" d="M1210,500h13v11h-13zM1160.3,510h12.9v11h-12.9z"/><path fill="#7a5000" d="M1119.5,640h11v11h-11zM1115,690h10.4v11h-10.4zM1200.8,700h10.3v11h-10.3zM1121.5,710h10.2v11h-10.2zM1141.7,800h9.7v11h-9.7zM1150.8,800h9.7v11h-9.7zM1139.2,810h9.6v11h-9.6zM1117.8,860h9.4v11h-9.4zM1144.3,860h9.4v11h-9.4zM1150.6,870h9.4v11h-9.4zM1144.7,930h9.3v11h-9.3zM1055,1020h9.3v11h-9.3zM1041.7,1040h9.3v11h-9.3zM1102.3,1080h9.4v11h-9.4zM1029.9,1200h10.1v11h-10.1zM1084.8,1210h10.1v11h-10.1zM1013.2,1230h10.2v11h-10.2z"/><path fill="#7a6000" d="M1123.3,590h11.6v11h-11.6zM929.9,1370h21.6v11h-21.6zM950.9,1370h11.6v11h-11.6zM1050,1370h11.6v11h-11.6z"/><path fill="#7a7000" d="M1160.2,480h13.3v11h-13.3zM1208.6,520h12.7v11h-12.7zM1217.3,550h12.2v11h-12.2zM1135.7,560h12.1v11h-12.1z"/><path fill="#7b5000" d="M1213.1,640h11v11h-11zM1118.5,650h10.9v11h-10.9zM1116.6,670h10.6v11h-10.6zM1216.9,670h10.6v11h-10.6zM1226.9,670h20.6v11h-20.6zM1120.2,770h9.9v11h-9.9zM1129.2,850h9.5v11h-9.5zM1138,850h9.5v11h-9.5zM1145.8,890h9.4v11h-9.4zM1160.8,900h9.3v11h-9.3zM1169.5,900h19.3v11h-19.3zM1111.2,1040h9.3v11h-9.3zM1032.1,1080h9.4v11h-9.4zM1109.1,1090h9.4v11h-9.4zM1032.2,1190h10v11h-10zM991.5,1280h10.6v11h-10.6zM1054.3,1330h11.2v11h-11.2zM976.6,1350h11.4v11h-11.4z"/><path fill="#7b7000" d="M1212.8,450h13.8v11h-13.8zM1199.2,460h13.7v11h-13.7zM1045.7,1420h12.3v11h-12.3zM1045.4,1430h12.5v11h-12.5zM1032.5,1450h12.9v11h-12.9z"/><path fill="#7c5000" d="M1117.6,660h10.8v11h-10.8zM1198.6,710h10.2v11h-10.2zM1196.3,720h10.2v11h-10.2zM1123.9,750h10v11h-10zM1086.7,880h9.4v11h-9.4zM1066.5,970h9.2v11h-9.2zM1144,970h9.2v11h-9.2zM1152.6,970h19.2v11h-19.2zM1073,980h9.2v11h-9.2zM1068.3,1000h9.2v11h-9.2zM1015.6,1220h10.2v11h-10.2zM1069.1,1240h10.3v11h-10.3zM984.3,1310h10.9v11h-10.9z"/><path fill="#7c6000" d="M1123.7,580h11.8v11h-11.8z"/><path fill="#7c7000" d="M1134.7,480h13.3v11h-13.3zM1147.4,480h13.3v11h-13.3zM1210.6,490h13.2v11h-13.2zM1160.3,500h13v11h-13zM1148,540h12.3v11h-12.3zM1018.7,1470h13.3v11h-13.3z"/><path fill="#7d5000" d="M1219.1,660h10.8v11h-10.8zM1229.2,660h20.8v11h-20.8zM1119.7,720h10.2v11h-10.2zM1125.7,740h10v11h-10zM1112.7,760h9.9v11h-9.9zM1097.8,870h9.4v11h-9.4zM1073,940h9.3v11h-9.3zM1140,950h9.2v11h-9.2zM1044,1030h9.3v11h-9.3zM1035.9,1100h9.5v11h-9.5zM965.9,1350h11.4v11h-11.4z"/><path fill="#7d7000" d="M1198.8,470h13.5v11h-13.5z"/><path fill="#7e3000" d="M1113.6,700h10.3v11h-10.3z"/><path fill="#7e5000" d="M1182.4,740h10v11h-10zM1170.8,750h10v11h-10zM1159.4,870h9.4v11h-9.4zM1073.4,900h9.3v11h-9.3zM1155.9,920h9.3v11h-9.3zM1164.5,920h19.3v11h-19.3zM1142.3,940h9.3v11h-9.3zM1132.9,1020h9.3v11h-9.3zM1141.6,1020h19.3v11h-19.3zM1119.8,1040h9.3v11h-9.3zM1009.5,1060h19.3v11h-19.3zM1028.2,1060h9.3v11h-9.3zM1111.1,1080h9.4v11h-9.4zM1114,1110h9.6v11h-9.6zM1122.9,1110h19.6v11h-19.6zM1028.3,1130h9.7v11h-9.7zM1104.1,1160h9.9v11h-9.9zM1113.4,1160h19.9v11h-19.9zM1082.8,1220h10.2v11h-10.2z"/><path fill="#7e6000" d="M1049.1,1380h11.7v11h-11.7z"/><path fill="#7e7000" d="M1160.2,490h13.2v11h-13.2zM1046.4,1410h12.1v11h-12.1zM1045.1,1440h12.7v11h-12.7z"/><path fill="#7f3000" d="M1159.3,760h9.9v11h-9.9zM1148,770h9.9v11h-9.9zM1136.8,780h9.8v11h-9.8z"/><path fill="#7f5000" d="M1148.2,880h9.4v11h-9.4zM1075.6,890h9.4v11h-9.4zM1154.5,890h9.4v11h-9.4zM1057.4,1010h9.2v11h-9.2zM1104.5,1070h9.3v11h-9.3zM1027.6,1170h9.9v11h-9.9zM934.3,1350h21.4v11h-21.4zM955.1,1350h11.4v11h-11.4z"/><path fill="#7f6000" d="M1124,570h11.9v11h-11.9z"/><path fill="#7f7000" d="M1218.5,540h12.3v11h-12.3zM1136.1,550h12.2v11h-12.2zM1048.2,1390h11.9v11h-11.9z"/><path fill="#803000" d="M1194.1,730h10.1v11h-10.1z"/><path fill="#805000" d="M1070.7,990h9.2v11h-9.2zM1046.4,1020h9.3v11h-9.3zM1011.9,1050h19.3v11h-19.3zM1030.6,1050h9.3v11h-9.3zM1113.2,1070h9.3v11h-9.3zM1029.5,1090h9.4v11h-9.4zM1018,1210h10.1v11h-10.1zM1067,1250h10.4v11h-10.4zM993.9,1270h10.5v11h-10.5zM982.2,1320h11.1v11h-11.1zM1055.5,1320h11.1v11h-11.1z"/><path fill="#806000" d="M932.1,1360h21.5v11h-21.5zM953,1360h11.5v11h-11.5z"/><path fill="#807000" d="M1211.2,480h13.3v11h-13.3zM1148,530h12.5v11h-12.5zM1047.3,1400h12v11h-12z"/><path fill="#813000" d="M1111,770h9.9v11h-9.9zM1127.6,780h9.8v11h-9.8zM1145.7,820h9.6v11h-9.6zM1109,860h9.4v11h-9.4z"/><path fill="#815000" d="M1086.6,670h20.6v11h-20.6zM1106.6,670h10.6v11h-10.6zM1086,680h20.5v11h-20.5zM1105.9,680h10.5v11h-10.5zM1071.1,910h9.3v11h-9.3zM1130.7,1030h9.3v11h-9.3zM1139.4,1030h19.3v11h-19.3zM1128.5,1040h9.3v11h-9.3zM1137.2,1040h19.3v11h-19.3zM1108.9,1050h9.3v11h-9.3zM1117.6,1050h9.3v11h-9.3zM1126.3,1050h9.3v11h-9.3zM1135,1050h19.3v11h-19.3zM1106.7,1060h9.3v11h-9.3zM1115.4,1060h9.3v11h-9.3zM1124.1,1060h9.3v11h-9.3zM1132.9,1060h19.3v11h-19.3zM1007.1,1070h19.3v11h-19.3zM1025.9,1070h9.3v11h-9.3zM1121.9,1070h9.3v11h-9.3zM1130.7,1070h19.3v11h-19.3zM1119.9,1080h9.4v11h-9.4zM1128.6,1080h19.4v11h-19.4zM1117.9,1090h9.4v11h-9.4zM1126.7,1090h19.4v11h-19.4zM1115.9,1100h9.5v11h-9.5zM1124.8,1100h19.5v11h-19.5zM978.5,1340h11.3v11h-11.3z"/><path fill="#817000" d="M1124.3,560h12.1v11h-12.1z"/><path fill="#823000" d="M1111.9,710h10.2v11h-10.2zM1118,730h10.1v11h-10.1zM1144,790h9.7v11h-9.7zM1132.6,800h9.7v11h-9.7zM1136.7,820h9.6v11h-9.6zM1131.7,840h9.5v11h-9.5zM1140.6,840h9.5v11h-9.5z"/><path fill="#825000" d="M1014.3,1040h19.3v11h-19.3zM1033,1040h9.3v11h-9.3zM1033.4,1110h9.6v11h-9.6zM1030.8,1120h9.6v11h-9.6zM1025.2,1180h10v11h-10zM1020.4,1200h10.1v11h-10.1zM1080.8,1230h10.2v11h-10.2zM1064.9,1260h10.4v11h-10.4zM1056.6,1310h10.9v11h-10.9zM980.3,1330h11.2v11h-11.2zM1062.9,1350h11.4v11h-11.4z"/><path fill="#827000" d="M1226.7,440h14v11h-14zM1148,520h12.7v11h-12.7z"/><path fill="#833000" d="M1134.9,790h9.7v11h-9.7zM1157.3,810h9.6v11h-9.6z"/><path fill="#835000" d="M1087.3,660h20.8v11h-20.8zM1107.4,660h10.8v11h-10.8zM1214.8,680h10.5v11h-10.5zM1224.7,680h20.5v11h-20.5zM1085.5,690h20.4v11h-20.4zM1105.2,690h10.4v11h-10.4zM1168.2,870h9.4v11h-9.4zM1177,870h19.4v11h-19.4zM1157,880h9.4v11h-9.4zM1077.6,920h9.3v11h-9.3zM1153.4,930h9.3v11h-9.3zM1162,930h19.3v11h-19.3zM1146.3,960h9.2v11h-9.2zM1154.9,960h19.2v11h-19.2zM1059.7,1000h9.2v11h-9.2zM1048.7,1010h9.2v11h-9.2zM1020.8,1160h9.9v11h-9.9zM1102.1,1170h9.9v11h-9.9zM1111.4,1170h19.9v11h-19.9zM1022.8,1190h10v11h-10zM996.3,1260h10.4v11h-10.4zM1063.1,1270h10.5v11h-10.5zM1061.4,1280h10.6v11h-10.6zM1059.8,1290h10.7v11h-10.7zM1058.1,1300h10.8v11h-10.8zM967.8,1340h11.3v11h-11.3zM1063.9,1340h11.3v11h-11.3z"/><path fill="#836000" d="M1091,600h21.5v11h-21.5zM1111.9,600h11.5v11h-11.5zM1090.7,610h21.4v11h-21.4zM1111.5,610h11.4v11h-11.4z"/><path fill="#837000" d="M1148,510h12.9v11h-12.9zM1032,1460h13.1v11h-13.1z"/><path fill="#843000" d="M1146,780h9.8v11h-9.8zM1159.9,800h9.7v11h-9.7zM1134.2,830h9.6v11h-9.6zM1143.1,830h9.6v11h-9.6zM1153.2,860h9.4v11h-9.4z"/><path fill="#845000" d="M1077.9,880h9.4v11h-9.4zM1163.3,890h9.4v11h-9.4zM1172,890h19.4v11h-19.4zM1062.2,950h9.2v11h-9.2zM1060.1,960h9.2v11h-9.2zM1064.4,980h9.2v11h-9.2zM1016.7,1030h19.3v11h-19.3zM1035.3,1030h9.3v11h-9.3zM1016.7,1140h9.7v11h-9.7zM936.5,1340h21.3v11h-21.3zM957.1,1340h11.3v11h-11.3z"/><path fill="#846000" d="M1061.9,1360h11.5v11h-11.5z"/><path fill="#847000" d="M1212.3,460h13.7v11h-13.7zM1147.7,490h13.2v11h-13.2zM1147.9,500h13v11h-13zM1124.5,550h12.2v11h-12.2zM1044.8,1450h12.9v11h-12.9z"/><path fill="#853000" d="M1114.5,750h10v11h-10zM1153.1,790h9.7v11h-9.7zM1130.1,810h9.6v11h-9.6zM1100.1,860h9.4v11h-9.4z"/><path fill="#855000" d="M1215.2,630h11.1v11h-11.1zM1089,870h9.4v11h-9.4zM1075.3,930h9.3v11h-9.3zM1057.9,970h9.2v11h-9.2zM1019.1,1020h19.3v11h-19.3zM1037.7,1020h9.3v11h-9.3zM1014.1,1150h9.8v11h-9.8zM998.7,1250h10.4v11h-10.4zM981.5,1280h10.6v11h-10.6zM979,1290h10.7v11h-10.7z"/><path fill="#857000" d="M1136.3,540h12.3v11h-12.3z"/><path fill="#863000" d="M1084.2,700h20.3v11h-20.3zM1103.9,700h10.3v11h-10.3zM1110.2,720h10.2v11h-10.2zM1180.2,750h10v11h-10zM1168.7,760h9.9v11h-9.9zM1157.3,770h9.9v11h-9.9z"/><path fill="#865000" d="M1090.2,620h21.2v11h-21.2zM1110.9,620h11.2v11h-11.2zM1088,650h20.9v11h-20.9zM1108.3,650h10.9v11h-10.9zM1165.8,880h9.4v11h-9.4zM1174.5,880h19.4v11h-19.4zM1064.4,940h9.3v11h-9.3zM1150.9,940h9.3v11h-9.3zM1159.6,940h19.3v11h-19.3zM1148.6,950h9.2v11h-9.2zM1157.3,950h19.2v11h-19.2zM1062,990h9.2v11h-9.2zM1051.1,1000h9.2v11h-9.2zM1100.2,1180h10v11h-10zM1109.5,1180h20v11h-20z"/><path fill="#866000" d="M1091.3,590h21.6v11h-21.6zM1112.3,590h11.6v11h-11.6z"/><path fill="#867000" d="M1226,450h13.8v11h-13.8zM1211.7,470h13.5v11h-13.5z"/><path fill="#873000" d="M1116.2,740h10v11h-10zM1125.7,790h9.7v11h-9.7z"/><path fill="#875000" d="M1055.8,980h9.2v11h-9.2zM1053.4,990h9.2v11h-9.2zM1021.4,1010h19.2v11h-19.2zM1040.1,1010h9.2v11h-9.2zM1027,1100h9.5v11h-9.5zM1001.2,1240h10.3v11h-10.3zM1078.8,1240h10.3v11h-10.3z"/><path fill="#876000" d="M1220.9,600h11.5v11h-11.5zM1061.1,1370h11.6v11h-11.6z"/><path fill="#877000" d="M1087.3,490h23.2v11h-23.2zM1109.9,490h13.2v11h-13.2zM1222.4,500h13v11h-13zM1221.6,510h12.9v11h-12.9z"/><path fill="#883000" d="M1210.5,700h10.3v11h-10.3zM1220.2,700h20.3v11h-20.3zM1208.2,710h10.2v11h-10.2zM1217.9,710h20.2v11h-20.2zM1205.9,720h10.2v11h-10.2zM1215.5,720h20.2v11h-20.2zM1103.4,760h9.9v11h-9.9zM1093.6,850h9.5v11h-9.5zM1162,860h9.4v11h-9.4z"/><path fill="#885000" d="M1089.5,630h21.1v11h-21.1zM1110,630h11.1v11h-11.1zM1088.7,640h21v11h-21zM1109.1,640h11v11h-11zM1212.7,690h10.4v11h-10.4zM1222.5,690h20.4v11h-20.4zM1048.1,890h19.4v11h-19.4zM1066.9,890h9.4v11h-9.4zM1045.9,900h19.3v11h-19.3zM1064.6,900h9.3v11h-9.3zM1026.2,990h19.2v11h-19.2zM1044.8,990h9.2v11h-9.2zM1023.8,1000h19.2v11h-19.2zM1042.5,1000h9.2v11h-9.2zM1004.6,1080h19.4v11h-19.4zM1023.4,1080h9.4v11h-9.4zM1019.2,1130h9.7v11h-9.7zM1098.2,1190h10v11h-10zM1107.6,1190h20v11h-20zM1096.3,1200h10.1v11h-10.1zM1105.7,1200h20.1v11h-20.1zM976.4,1300h10.8v11h-10.8zM1064.9,1330h11.2v11h-11.2z"/><path fill="#886000" d="M1091.3,570h21.9v11h-21.9zM1112.7,570h11.9v11h-11.9zM1091.4,580h21.8v11h-21.8zM1112.6,580h11.8v11h-11.8zM1219.2,610h11.4v11h-11.4z"/><path fill="#887000" d="M1122.5,490h13.2v11h-13.2zM1219.6,530h12.5v11h-12.5zM1124.6,540h12.3v11h-12.3zM1091.3,550h22.2v11h-22.2zM1112.9,550h12.2v11h-12.2zM1091.3,560h22.1v11h-22.1zM1112.8,560h12.1v11h-12.1zM1057.4,1420h12.3v11h-12.3zM1057.3,1430h12.5v11h-12.5zM1057.2,1440h12.7v11h-12.7zM1031.5,1470h13.3v11h-13.3z"/><path fill="#893000" d="M1191.8,740h10v11h-10zM1118.4,780h9.8v11h-9.8zM1155.2,780h9.8v11h-9.8zM1123.5,800h9.7v11h-9.7zM1120.3,850h9.5v11h-9.5zM1091.3,860h9.4v11h-9.4z"/><path fill="#895000" d="M1011.5,1160h9.9v11h-9.9zM1018.3,1170h9.9v11h-9.9zM1094.3,1210h10.1v11h-10.1zM1103.8,1210h20.1v11h-20.1zM1003.6,1230h10.2v11h-10.2zM1076.7,1250h10.4v11h-10.4zM984,1270h10.5v11h-10.5zM969.8,1330h11.2v11h-11.2z"/><path fill="#896000" d="M1222.6,590h11.6v11h-11.6zM1060.3,1380h11.7v11h-11.7z"/><path fill="#897000" d="M1135.1,490h13.2v11h-13.2z"/><path fill="#8a3000" d="M1082.6,710h20.2v11h-20.2zM1102.3,710h10.2v11h-10.2zM1084.7,850h9.5v11h-9.5z"/><path fill="#8a5000" d="M1217.3,620h11.2v11h-11.2zM1028.6,980h19.2v11h-19.2zM1047.2,980h9.2v11h-9.2zM1024.4,1110h9.6v11h-9.6zM1021.8,1120h9.6v11h-9.6zM1008.5,1210h10.1v11h-10.1zM1006,1220h10.2v11h-10.2zM973.9,1310h10.9v11h-10.9z"/><path fill="#8a7000" d="M1240.1,440h14v11h-14zM1223.2,490h13.2v11h-13.2zM1220.7,520h12.7v11h-12.7zM1091.1,540h22.3v11h-22.3zM1112.8,540h12.3v11h-12.3z"/><path fill="#8b3000" d="M1108.5,730h10.1v11h-10.1zM1127.7,820h9.6v11h-9.6zM1102.5,850h9.5v11h-9.5zM1170.9,860h9.4v11h-9.4zM1179.7,860h19.4v11h-19.4z"/><path fill="#8b5000" d="M1221.3,650h10.9v11h-10.9zM1231.6,650h20.9v11h-20.9zM1043.7,910h19.3v11h-19.3zM1062.4,910h9.3v11h-9.3zM1068.9,920h9.3v11h-9.3zM1015.8,1180h10v11h-10zM1010.9,1200h10.1v11h-10.1zM986.5,1260h10.4v11h-10.4zM1074.7,1260h10.4v11h-10.4zM971.7,1320h11.1v11h-11.1z"/><path fill="#8b7000" d="M1123,500h13v11h-13zM1135.4,500h13v11h-13zM1059.5,1390h11.9v11h-11.9zM1058,1410h12.1v11h-12.1z"/><path fill="#8c3000" d="M1203.6,730h10.1v11h-10.1zM1213.1,730h20.1v11h-20.1zM1166.5,770h9.9v11h-9.9zM1154.7,820h9.6v11h-9.6zM1059.2,840h19.5v11h-19.5zM1078.1,840h9.5v11h-9.5zM1057,850h19.5v11h-19.5zM1075.9,850h9.5v11h-9.5z"/><path fill="#8c5000" d="M1050.3,880h19.4v11h-19.4zM1069.1,880h9.4v11h-9.4zM1066.6,930h9.3v11h-9.3zM1013.4,1190h10v11h-10zM1073,1270h10.5v11h-10.5zM1065.9,1320h11.1v11h-11.1z"/><path fill="#8c6000" d="M1224.3,580h11.8v11h-11.8z"/><path fill="#8c7000" d="M1088.2,500h23v11h-23zM1110.6,500h13v11h-13zM1135.7,510h12.9v11h-12.9zM1136.1,530h12.5v11h-12.5zM1058.8,1400h12v11h-12z"/><path fill="#8d3000" d="M1178,760h9.9v11h-9.9zM1121.1,810h9.6v11h-9.6zM1087,840h9.5v11h-9.5zM1146.9,850h9.5v11h-9.5z"/><path fill="#8d5000" d="M1080.2,870h9.4v11h-9.4zM1030.7,970h19.2v11h-19.2zM1049.3,970h9.2v11h-9.2zM1001.9,1090h19.4v11h-19.4zM1020.7,1090h9.4v11h-9.4zM1008.9,1170h9.9v11h-9.9zM1092.4,1220h10.2v11h-10.2zM1101.9,1220h20.2v11h-20.2zM1071.4,1280h10.6v11h-10.6z"/><path fill="#8d7000" d="M1223.9,480h13.3v11h-13.3zM1057.1,1450h12.9v11h-12.9z"/><path fill="#8e3000" d="M1105.1,750h10v11h-10zM1101.7,770h9.9v11h-9.9zM1162.3,790h9.7v11h-9.7zM1168.9,800h9.7v11h-9.7zM1166.3,810h9.6v11h-9.6zM1125.2,830h9.6v11h-9.6zM1096,840h9.5v11h-9.5z"/><path fill="#8e5000" d="M989,1250h10.4v11h-10.4zM1069.9,1290h10.7v11h-10.7zM1067,1310h10.9v11h-10.9z"/><path fill="#8e7000" d="M1225.3,460h13.7v11h-13.7zM1123.4,510h12.9v11h-12.9zM1135.9,520h12.7v11h-12.7zM1124.2,530h12.5v11h-12.5zM1044.5,1460h13.1v11h-13.1z"/><path fill="#8f3000" d="M1081,720h20.2v11h-20.2zM1100.6,720h10.2v11h-10.2zM1106.8,740h10v11h-10zM1122.7,840h9.5v11h-9.5zM1111.4,850h9.5v11h-9.5zM1082.4,860h9.4v11h-9.4z"/><path fill="#8f5000" d="M1034.9,950h19.2v11h-19.2zM1053.6,950h9.2v11h-9.2zM1032.8,960h19.2v11h-19.2zM1051.5,960h9.2v11h-9.2zM1006.4,1180h10v11h-10zM1090.4,1230h10.2v11h-10.2zM1100,1230h20.2v11h-20.2zM951.5,1280h20.6v11h-20.6zM971.5,1280h10.6v11h-10.6zM1068.3,1300h10.8v11h-10.8z"/><path fill="#903000" d="M1164.4,780h9.8v11h-9.8zM1116.6,790h9.7v11h-9.7zM1114.4,800h9.7v11h-9.7z"/><path fill="#905000" d="M1037.1,940h19.3v11h-19.3zM1055.7,940h9.3v11h-9.3zM999.2,1100h19.5v11h-19.5zM1018.1,1100h9.5v11h-9.5zM983,1160h19.9v11h-19.9zM1002.3,1160h9.9v11h-9.9zM980.3,1170h19.9v11h-19.9zM999.6,1170h9.9v11h-9.9zM938.6,1330h21.2v11h-21.2zM959.2,1330h11.2v11h-11.2z"/><path fill="#907000" d="M1224.6,470h13.5v11h-13.5zM1088.9,510h22.9v11h-22.9zM1111.2,510h12.9v11h-12.9zM1123.8,520h12.7v11h-12.7zM1090.3,530h22.5v11h-22.5zM1112.3,530h12.5v11h-12.5z"/><path fill="#913000" d="M1189.6,750h10v11h-10zM1104.9,840h9.5v11h-9.5z"/><path fill="#915000" d="M985.7,1150h19.8v11h-19.8zM1004.9,1150h9.8v11h-9.8zM991.5,1240h10.3v11h-10.3zM1088.4,1240h10.3v11h-10.3zM1098.1,1240h20.3v11h-20.3zM954.2,1270h20.5v11h-20.5zM974.1,1270h10.5v11h-10.5zM948.7,1290h20.7v11h-20.7zM968.8,1290h10.7v11h-10.7z"/><path fill="#917000" d="M1239.3,450h13.8v11h-13.8zM1089.6,520h22.7v11h-22.7zM1111.7,520h12.7v11h-12.7z"/><path fill="#923000" d="M1175.8,770h9.9v11h-9.9zM1109.2,780h9.8v11h-9.8zM1118.7,820h9.6v11h-9.6zM1152.1,830h9.6v11h-9.6z"/><path fill="#925000" d="M1041.5,920h19.3v11h-19.3zM1060.2,920h9.3v11h-9.3zM996.5,1110h19.6v11h-19.6zM1015.4,1110h9.6v11h-9.6zM993.8,1120h19.6v11h-19.6zM1012.8,1120h9.6v11h-9.6zM991.1,1130h19.7v11h-19.7zM1010.2,1130h9.7v11h-9.7zM988.4,1140h19.7v11h-19.7zM1007.5,1140h9.7v11h-9.7zM1073.7,1350h11.4v11h-11.4zM1084.5,1350h21.4v11h-21.4z"/><path fill="#926000" d="M1226,570h11.9v11h-11.9zM1072.8,1360h11.5v11h-11.5zM1083.7,1360h21.5v11h-21.5z"/><path fill="#927000" d="M1253.5,440h14v11h-14zM1266.9,440h24v11h-24z"/><path fill="#933000" d="M1112,810h9.6v11h-9.6z"/><path fill="#935000" d="M1003.9,1190h10v11h-10zM994,1230h10.2v11h-10.2zM1086.5,1250h10.4v11h-10.4zM1096.2,1250h20.4v11h-20.4zM1074.6,1340h11.3v11h-11.3zM1085.3,1340h21.3v11h-21.3z"/><path fill="#936000" d="M1072.1,1370h11.6v11h-11.6zM1083.1,1370h21.6v11h-21.6z"/><path fill="#937000" d="M1069.3,1440h12.7v11h-12.7zM1081.4,1440h22.7v11h-22.7zM1044.2,1470h13.3v11h-13.3z"/><path fill="#943000" d="M1079.5,730h20.1v11h-20.1zM1099,730h10.1v11h-10.1zM1074.7,760h19.9v11h-19.9zM1094.1,760h9.9v11h-9.9z"/><path fill="#945000" d="M1039.3,930h19.3v11h-19.3zM1057.9,930h9.3v11h-9.3zM977.7,1180h20v11h-20zM997,1180h10v11h-10zM956.9,1260h20.4v11h-20.4zM976.7,1260h10.4v11h-10.4zM1075.5,1330h11.2v11h-11.2zM1086.1,1330h21.2v11h-21.2z"/><path fill="#947000" d="M1069.2,1430h12.5v11h-12.5zM1081.1,1430h22.5v11h-22.5z"/><path fill="#953000" d="M1201.3,740h10v11h-10zM1210.7,740h20v11h-20zM1061.4,830h19.6v11h-19.6zM1080.4,830h9.6v11h-9.6zM1116.2,830h9.6v11h-9.6zM1149.5,840h9.5v11h-9.5zM1054.8,860h19.4v11h-19.4zM1073.6,860h9.4v11h-9.4z"/><path fill="#955000" d="M1052.6,870h19.4v11h-19.4zM1071.4,870h9.4v11h-9.4zM1084.5,1260h10.4v11h-10.4zM1094.3,1260h20.4v11h-20.4z"/><path fill="#956000" d="M1071.4,1380h11.7v11h-11.7zM1082.6,1380h21.7v11h-21.7z"/><path fill="#957000" d="M1069.4,1450h12.9v11h-12.9zM1081.8,1450h22.9v11h-22.9zM1057,1460h13.1v11h-13.1z"/><path fill="#963000" d="M1171.4,790h9.7v11h-9.7zM1113.8,840h9.5v11h-9.5z"/><path fill="#965000" d="M996.5,1220h10.2v11h-10.2zM1082.8,1270h10.5v11h-10.5zM1092.7,1270h20.5v11h-20.5zM946,1300h20.8v11h-20.8zM966.2,1300h10.8v11h-10.8zM940.8,1320h21.1v11h-21.1zM961.3,1320h11.1v11h-11.1z"/><path fill="#967000" d="M1227.5,560h12.1v11h-12.1zM1070.8,1390h11.9v11h-11.9zM1082.1,1390h21.9v11h-21.9zM1069.1,1420h12.3v11h-12.3zM1080.8,1420h22.3v11h-22.3z"/><path fill="#973000" d="M1077.9,740h20v11h-20zM1097.3,740h10v11h-10zM1076.3,750h20v11h-20zM1095.7,750h10v11h-10zM1187.3,760h9.9v11h-9.9zM1173.6,780h9.8v11h-9.8zM1163.7,820h9.6v11h-9.6zM1089.3,830h9.6v11h-9.6z"/><path fill="#975000" d="M959.5,1250h20.4v11h-20.4zM979.2,1250h10.4v11h-10.4zM1076.4,1320h11.1v11h-11.1zM1086.9,1320h21.1v11h-21.1z"/><path fill="#983000" d="M1105.3,800h9.7v11h-9.7zM1109.6,820h9.6v11h-9.6zM1107.3,830h9.6v11h-9.6z"/><path fill="#985000" d="M1001.4,1200h10.1v11h-10.1zM1081.4,1280h10.6v11h-10.6zM1091.4,1280h20.6v11h-20.6zM943.3,1310h20.9v11h-20.9zM963.6,1310h10.9v11h-10.9z"/><path fill="#987000" d="M1070.2,1400h12v11h-12zM1081.6,1400h22v11h-22zM1069.5,1410h12.1v11h-12.1zM1081.1,1410h22.1v11h-22.1z"/><path fill="#993000" d="M1103,810h9.6v11h-9.6z"/><path fill="#995000" d="M998.9,1210h10.1v11h-10.1z"/><path fill="#997000" d="M1228.9,550h12.2v11h-12.2zM1057,1470h13.3v11h-13.3z"/><path fill="#9a3000" d="M1073.2,770h19.9v11h-19.9zM1092.4,770h9.9v11h-9.9zM1185.1,770h9.9v11h-9.9zM1107.4,790h9.7v11h-9.7zM1098.3,830h9.6v11h-9.6z"/><path fill="#9a5000" d="M1223.5,640h11v11h-11zM1233.9,640h21v11h-21zM1080,1290h10.7v11h-10.7zM1090.1,1290h20.7v11h-20.7zM1077.3,1310h10.9v11h-10.9zM1087.7,1310h20.9v11h-20.9z"/><path fill="#9b3000" d="M1199,750h10v11h-10zM1208.3,750h20v11h-20zM1178,800h9.7v11h-9.7z"/><path fill="#9b5000" d="M975.1,1190h20v11h-20zM994.5,1190h10v11h-10zM962.1,1240h20.3v11h-20.3zM981.8,1240h10.3v11h-10.3zM1078.5,1300h10.8v11h-10.8zM1088.7,1300h20.8v11h-20.8z"/><path fill="#9c3000" d="M1182.8,780h9.8v11h-9.8zM1180.6,790h9.7v11h-9.7zM1063.6,820h19.6v11h-19.6zM1082.6,820h9.6v11h-9.6zM1091.6,820h9.6v11h-9.6z"/><path fill="#9c7000" d="M1252.5,450h13.8v11h-13.8zM1265.7,450h23.8v11h-23.8zM1069.6,1460h13.1v11h-13.1zM1082.1,1460h23.1v11h-23.1z"/><path fill="#9d3000" d="M1093.9,810h9.6v11h-9.6zM1100.6,820h9.6v11h-9.6zM1155.8,850h9.5v11h-9.5z"/><path fill="#9e3000" d="M1175.4,810h9.6v11h-9.6z"/><path fill="#9e5000" d="M964.7,1230h20.2v11h-20.2zM984.3,1230h10.2v11h-10.2z"/><path fill="#9e7000" d="M1230.3,540h12.3v11h-12.3z"/><path fill="#9f3000" d="M1100,780h9.8v11h-9.8zM1096.2,800h9.7v11h-9.7zM1161.1,830h9.6v11h-9.6zM1164.7,850h9.5v11h-9.5z"/><path fill="#9f7000" d="M1238.4,460h13.7v11h-13.7z"/><path fill="#a03000" d="M1196.6,760h9.9v11h-9.9zM1206,760h19.9v11h-19.9zM1173.6,850h9.5v11h-9.5zM1182.4,850h19.5v11h-19.5z"/><path fill="#a07000" d="M1069.7,1470h13.3v11h-13.3zM1082.4,1470h23.3v11h-23.3z"/><path fill="#a13000" d="M1192,780h9.8v11h-9.8zM1201.2,780h19.8v11h-19.8zM1065.8,810h19.6v11h-19.6zM1084.9,810h9.6v11h-9.6z"/><path fill="#a23000" d="M1194.3,770h9.9v11h-9.9zM1203.6,770h19.9v11h-19.9zM1189.7,790h9.7v11h-9.7zM1198.8,790h19.7v11h-19.7z"/><path fill="#a25000" d="M967.3,1220h20.2v11h-20.2zM986.9,1220h10.2v11h-10.2z"/><path fill="#a37000" d="M1235.7,490h13.2v11h-13.2zM1234.8,500h13v11h-13z"/><path fill="#a47000" d="M1236.6,480h13.3v11h-13.3zM1233.9,510h12.9v11h-12.9zM1231.6,530h12.5v11h-12.5z"/><path fill="#a53000" d="M1098.3,790h9.7v11h-9.7z"/><path fill="#a55000" d="M972.5,1200h20.1v11h-20.1zM992,1200h10.1v11h-10.1z"/><path fill="#a57000" d="M1237.5,470h13.5v11h-13.5z"/><path fill="#a63000" d="M1158.4,840h9.5v11h-9.5z"/><path fill="#a67000" d="M1232.9,520h12.7v11h-12.7z"/><path fill="#a73000" d="M1068,800h19.7v11h-19.7zM1087.1,800h9.7v11h-9.7zM1187.1,800h9.7v11h-9.7zM1196.2,800h19.7v11h-19.7zM1172.7,820h9.6v11h-9.6z"/><path fill="#a75000" d="M969.9,1210h20.1v11h-20.1zM989.4,1210h10.1v11h-10.1z"/><path fill="#a96000" d="M1233.7,590h11.6v11h-11.6zM1244.7,590h21.6v11h-21.6zM1231.8,600h11.5v11h-11.5zM1242.7,600h21.5v11h-21.5z"/><path fill="#aa3000" d="M1167.4,840h9.5v11h-9.5z"/><path fill="#ab3000" d="M1071.6,780h19.8v11h-19.8zM1090.8,780h9.8v11h-9.8zM1170,830h9.6v11h-9.6z"/><path fill="#ab5000" d="M1225.7,630h11.1v11h-11.1zM1236.3,630h21.1v11h-21.1z"/><path fill="#ac6000" d="M1235.5,580h11.8v11h-11.8zM1246.7,580h21.8v11h-21.8zM1229.9,610h11.4v11h-11.4zM1240.7,610h21.4v11h-21.4z"/><path fill="#ae3000" d="M1184.4,810h9.6v11h-9.6zM1193.5,810h19.6v11h-19.6zM1176.3,840h9.5v11h-9.5zM1185.2,840h19.5v11h-19.5z"/><path fill="#b03000" d="M1070,790h19.7v11h-19.7zM1089.2,790h9.7v11h-9.7z"/><path fill="#b07000" d="M1251.5,460h13.7v11h-13.7zM1264.6,460h23.7v11h-23.7z"/><path fill="#b15000" d="M1228,620h11.2v11h-11.2zM1238.6,620h21.2v11h-21.2z"/><path fill="#b16000" d="M1237.3,570h11.9v11h-11.9zM1248.7,570h21.9v11h-21.9z"/><path fill="#b57000" d="M1239,560h12.1v11h-12.1zM1250.4,560h22.1v11h-22.1z"/><path fill="#b63000" d="M1181.7,820h9.6v11h-9.6zM1190.7,820h19.6v11h-19.6z"/><path fill="#b73000" d="M1179,830h9.6v11h-9.6zM1188,830h19.6v11h-19.6z"/><path fill="#b97000" d="M1240.5,550h12.2v11h-12.2zM1252.1,550h22.2v11h-22.2z"/><path fill="#bb7000" d="M1250.4,470h13.5v11h-13.5zM1263.4,470h23.5v11h-23.5zM1249.4,480h13.3v11h-13.3zM1262.1,480h23.3v11h-23.3z"/><path fill="#bc7000" d="M1248.3,490h13.2v11h-13.2zM1260.9,490h23.2v11h-23.2zM1242,540h12.3v11h-12.3zM1253.8,540h22.3v11h-22.3z"/><path fill="#c07000" d="M1247.3,500h13v11h-13zM1259.7,500h23v11h-23zM1243.5,530h12.5v11h-12.5zM1255.4,530h22.5v11h-22.5z"/><path fill="#c17000" d="M1246.2,510h12.9v11h-12.9zM1258.5,510h22.9v11h-22.9zM1245,520h12.7v11h-12.7zM1257.1,520h22.7v11h-22.7z"/></g><path d="M1147.5,459.5L1234.3,468.8" stroke="#fff" stroke-width="0.8" fill="none"/><path d="M965.5,1447.5L1069.7,1456.2" stroke="#fff" stroke-width="0.9" stroke-dasharray="14 3 9 2 20 4" fill="none"/><rect x="1074" y="1424.7" width="9" height="4.9" fill="#fff"/><ellipse cx="1116" cy="854.5" rx="3.8" ry="3" fill="#e82000"/><ellipse cx="1128" cy="853" rx="2.6" ry="3" fill="#ff8400"/><ellipse cx="1163.5" cy="852.5" rx="3.5" ry="2.8" fill="#e01000"/><ellipse cx="1170.5" cy="855.5" rx="2.8" ry="2.2" fill="#ee2a00"/></g>
<path class="c" d="M749.1,361.5L734.8,371.4L726.3,379L723.4,385.6L710.1,396.1L696.8,410.3L690.2,411.3L694.9,416L679.7,421.7L670.3,431.2L664.6,435.9L668.4,437.8L656,449.2L651.3,449.2L655.1,453L643.7,456.8L637,458.7L642.7,469.2L632.3,485.3L624.7,493.9L611.4,509.1L605.7,510L601.9,506.2L596.2,511.9L562,543.2L552.5,557.5L541.1,567L533.5,578.4L528.8,589.7L525.9,597.3L529.7,600.2L522.2,608.7L516.5,633.4L511.7,641L515.5,646.7L518.4,651.5L518.7,660.9L514.6,675M726.3,379L738.6,378L740.5,373.3L730.1,376.1M628.5,465.4L634.2,467.3L622.8,484.4L618,487.6L620.9,481.5ZM617.5,489.5L621.8,491.4L615.2,500.9L608,507.2L604.7,506.2L609.9,498.6ZM797.5,400.8L801.3,394.2L810.8,392.7L808.9,386.6L816.5,384.7L822.5,395.1L818.4,402.7L808.9,405.6L801.3,403.7ZM761.4,426.5L760.4,432.2L770.9,431.2L777.9,423L775.1,433.1L784.6,435L785.3,441.3L780.4,439.4L761.4,438.2L758,435ZM738.6,461.6L740.5,459.1L754.2,457.2L751.5,460.1L756.1,468.6L748.5,462.5ZM839.2,472L822.2,473.9L822.5,464.1L821.2,473.9L816.5,473.9L805.1,476.8L804.1,479.6L789.9,484.4L782.3,489.1L777.5,492.9L775.6,497.7L781.3,498.6L776.6,504.3L772.8,509.1L767.1,510.4L777.5,510.9L781.3,532.8L790.8,538.5L777.5,553.7L777,566L774.7,567L778.5,569.8L782.3,570.4L781.9,567L788.9,564.1L797.5,547L796.5,544.2L807,543.2L818.4,536.6L825,527.1L823.1,521.4L835.4,514.7L841.1,507.2L837.3,506.2L845.9,501.5L848.7,499.6L852.5,498.6L858.2,504.3L861.1,503.4L863,515.7L867.7,517.6L865.8,521.4L870,525.2M734.8,517.2L729.1,518.5L723.4,521.4L718.7,527.1L715.8,535.6L714.9,540.4L713,544.2L709.7,548.9L711.1,549.9L717.7,544.2L723.4,534.7L729.1,525.2ZM853.2,361.9L859.5,366.3L867.7,365.7L860.8,370.8L850.6,374.6L855.7,379L850.6,387.2L844.3,394.2L843.7,398.6L833.5,401.8L832.3,410L839.2,413.2L830.4,418.9L822.2,426.5L832.9,423.3L842.4,414.4L855.7,413.2M845.6,396.7L855.7,389.1L862,401.8L867.1,391.6L870.9,384.1L875.9,389.1L881,382.8L891.1,385.3L888.6,391.6L883.5,394.2L891.1,396.7L896.2,399.2L875.9,403.7L888.6,401.8M869.6,375.8L882.3,370.1L883.5,367.6L901.3,368.9L909.5,366.3L910.8,375.2L905.1,373.9L901.3,380.3L893.7,384.1L888.6,379L873.4,379ZM917.7,404.3L922.8,399.2L931.6,396.7L934.2,400.5L940.5,401.8L941.8,409.4L934.2,408.1L926.6,405.6L919,406.8ZM921.5,418.2L927.8,413.2L932.9,415.7L931.6,422L938,425.8L944.3,423.3L943,428.4L936.7,430.9L930.4,429L926.6,423.3ZM926.6,413.2L934.2,410.6L943,415.7L951.9,419.5L957,419.5L960.8,415.7L968.4,414.4L973.4,417M934.2,415.7L941.8,417L951.9,420.8L950.6,423.3L944.3,422L936.7,419.5M968.4,465.1L963.3,473.9L962,481.5L953.2,490.4L945.6,498L943,508.1L942.4,518.2L941.1,528.4L945.6,539.7L951.9,541M1058.2,465.1L1055.7,458.7L1059.5,453.7L1058.2,448.6L1062,444.8M881,418.2L893.7,406.8L906.3,406.8L911.4,414.4L916.5,420.8L903.8,422L893.7,419.5L888.6,420.8ZM891.1,415.7L901.3,410.6L906.3,415.7L896.2,417M857,430.9L868.4,427.1L878.5,424.6L888.6,425.8L881,432.2L870.9,434.7L859.5,435.9ZM846.2,435.9L846.8,443.5L853.2,441L862.7,441L870.9,435.9M886.1,441L888.6,435.9L896.2,430.9L913.9,425.8L920.3,427.1L922.8,432.2L931.6,438.5L926.6,448.6L925.3,461.3L926.6,465.1L921.5,473.9L917.7,471.4L919,479L921.5,490.4L916.5,494.2L912.7,487.8L912.7,473.9L915.2,463.8L916.5,451.1L913.9,443.5L911.4,439.7L898.7,442.3L896.2,435.9M921.5,435.9L925.3,446.1L922.8,456.2L923.4,466.3L919.6,472.7M863.3,447.3L875.9,441M859.5,457.5L888.6,443.5L893.7,448.6L900,451.1L906.3,450.5L903.8,460L901.3,467.6L897.5,473.9L893.7,480.3L882.3,481.5L881,486.6L875.9,487.8L870.9,481.5L862,486.6L873.4,491.6L875.9,498L872.2,500.5L882.3,515.7L884.8,501.8L889.9,513.2L900,503L900,492.9L905.1,485.3L907.6,496.7L917.7,491.6M860.8,458.7L875.9,454.3L881,448.6M800,481.5L806.3,477.7L813.9,473.9L820.3,474.6L820.9,465.1L824.1,463.2L824.7,471.4L830.4,470.1L836.7,472.7L843,470.1L844.3,458.7L846.8,465.1L850.6,466.3L857,462.5L859.5,468.9L875.9,465.1L881,457.5M832.9,479L850.6,473.9L853.2,487.8L846.8,489.1L841.8,483.4L834.2,484.7ZM800,543.5L807.6,542.3L815.2,539.1L819,535.9L825.9,527.1L823.4,523.3L824.1,520.8L834.2,515.7L838,511.9L836.7,508.1L843,505.6L846.8,499.2L851.9,498L857,503L862,503.7L860.8,508.1L863.3,511.9L860.8,515.7L867.1,517.6L862,523.3L855.7,523.3L858.2,528.4L851.9,530.3L855.7,533.4L853.2,536.6L859.5,537.2L865.8,535.3L870.9,530.9L874.7,527.1L878.5,525.8L881,529.6L875.9,532.2L875.9,542.3L872.2,548.6L872.2,554.9L870.9,561.3L875.9,565.1L881,570M1034.2,518.2L1040.5,513.2L1048.1,515.7L1058.2,514.4L1064.6,511.9L1069.6,515.1L1069.6,519.5L1073.4,522.7L1068.4,525.8L1060.8,529L1053.2,532.2L1046.8,529.6L1039.2,529L1041.8,524.6L1035.4,523.3ZM1045.6,523.3L1051.9,519.5L1060.8,518.2L1067.1,518.9M703.7,583.3L727.1,574.4L732.2,571.9L739.7,577L739.1,583.3L742.3,585.2L737.2,594.7L730.9,592.8L723.3,592.2L722,585.8L713.2,584.6L710.6,587.7L707.5,586.5ZM722,596.6L715.7,601L710.6,604.2L714.4,606.1L703.7,614.9L698.6,628.9L704.3,628.2L711.9,620L719.5,607.3L724.6,607.3L729.6,601L734.7,606.1L729,613.7L724.6,616.8L729,617.5L728.4,622.5L733.4,622.5L741,613.7L741.6,608L743.5,613.7L747.3,614.9L749.9,613.7L749.2,603.5L737.2,595.9L730.9,595.9ZM717,632L725.8,625.1L741,622.5L747.3,620L756.2,620.6L763.8,618.1L764.4,620.6L760,623.8L760,626.3L754.9,628.2L747.3,627L742.3,630.8L725.2,636.5ZM723.3,632.7L741,626.3L753.7,623.2M691,730L691,712.4L699.2,702.9L701.8,702.3L713.2,694.7L728.4,688.4L730.9,683.3L737.2,682L738.5,673.2L748.6,660.5L756.8,654.2L757.5,647.2L762.5,644.1L773.9,642.8L784.7,641.5L779,637.7L787.8,628.9L796.7,623.8L806.8,621.3L822,617.5M730.9,678.2L738.5,675.7L737.2,682L728.4,687.1L727.1,682.7M806.8,631.4L809.4,634.6L815.7,628.9L823.3,627L838.5,623.8L835.3,619.4L823.3,618.7L808.1,626.3ZM822,617.5L823.3,611.1L828.4,604.8L818.2,602.9L824.6,603.5L832.8,602.3L833.4,595.9L820.8,592.2L804.9,597.2L805.6,601L794.2,607.3M820.8,592.2L828.4,587.1L855.6,592.2L856.2,595.9L867.6,588.4L880.3,584.6M514.6,675L507.9,701.6L510.8,717.7L507,724.4L502.2,724.7L505.4,736.7L510.4,735.4L511.1,744.3L507,757.6L513.2,770.9L513.6,779.1L518.7,775.3L518.9,767.1L515.5,764.2L518,726.3L514.6,700.6L522.2,679.7L528.8,689.8L523.1,713.9L525,726.3L527.5,727.2L525,732L529.7,744.3L525,750L531.6,757.6L529.4,760.4L537.3,778.5L538.5,792.7L534.5,800.3L535.8,801.8L531.6,804.1L532,807.9L541.1,823.1L549.7,825.4L553.5,831.1L578.7,843L592.4,836.8L607.6,853.1L622.8,857.3L630.4,853.9L630.8,858.2L628.5,858.8L639.9,871.5L638,873.4L639.9,881L643.7,882.9L643.3,878.2L651.8,886.7L651.3,889.9L655.6,892L656,889.2L663.6,889.6L668.4,896.2L673.7,893.4L671.8,888.6L677.8,881L683.5,886.7L690.2,896.2L689.6,913.3L692.1,916.5L689.6,923.7L683.5,929.4L683.9,934.2L680.7,939.9L675.4,942.7L676.9,948.4L673.1,957.9L674.6,968.4L678.8,970.8L681.3,967.4L680.7,975L674.6,982.6L677.8,990M738.6,676.9L735.8,682.6L728.2,688.3L713.9,694.9L700.6,704.4L692.1,712.6L691.1,747.2L683.9,760.8L680.1,758.5L678.8,750L676.9,739.6L680.7,732L677.5,721.5L668.4,722.8L665.5,716.4L657,714.9L641.8,717.2L640.8,720.6L646.5,726.3L643.7,728.5L637,726.3L633.2,720.6L621.8,719.1L615.2,720.6L607.6,727.2L600.9,730.1L594.3,739.6L592.4,752.8L587.7,758.5L581,783.2L581,787L585.8,815.5L590.5,815.1L593.9,820.8L606.6,814.2L611.4,815.9L617.5,807.9L621.8,792.7L635.1,787.4L642.7,789.5L634.2,804.1L635.1,807.9L629.4,814.6L631.3,816.5L628.1,826.9L623.2,835.4L627.5,836.4L646.5,831.6L656,836.4L656.6,843.6L650.3,867.7L659.8,883.9L666.5,884.8L675,876.6L682.6,876.3L687.3,880.1L692.1,886.7L690.2,882L699.7,873.4L699.1,866.8L702.5,861.1L712,858.2L723.4,848.7L726.3,851.6L720.6,858.2L719.6,868.7L722.5,874.4L726.3,870.6L724.9,863L723.4,860.1L732,850.6L734.8,854.4L742.4,855.4L744.3,861.1L754.7,858.8L761.4,862L770.9,857.3L781.3,855L772.8,857.3L778.5,862L784.2,863L786.5,868.3L793.7,869.6L799.4,874.4L800.3,881L808.9,883.9L825.9,881.6L836.4,885.8L844,891.5L847.8,904.7L852.5,906.6L850.6,912.3L844,920.9L846.8,922.8L854.4,918L863,919L870,917.1M653.2,784.7L658.9,785.1L668.4,778.5L660.8,777.5L677.8,773.7L685.4,775.6L700.6,787L706.3,788L705.4,791.8L714.9,794.6L708.2,798L693,799.4L696.8,794.2L692.1,790.8L688.3,786.1L672.2,782.3L670.3,778.5L661.7,784.2L657,786.1ZM717.7,797.5L720.6,796.1L738.6,797.5L740.5,801.3L747.2,805.1L745.3,807.9L732.9,807L728.2,813.2L723.4,807.5L713.9,810.8L710.1,807.9L713,806L723.4,806L723.4,800.3ZM755.7,934.2L771.8,931.3L782.3,936.1L789.9,942.7L791.8,948.4L786.1,953.2L780.4,950.3L775.6,957L770.9,953.2L763.3,946.5L751.9,949.4L748.1,957L742.4,957.9L740.5,964.6L734.8,962.7L729.1,963.6L726.3,960.8L719.6,962.7M791.8,948.4L803.2,942.7L807.9,938L816.5,933.2L825,932.3L823.1,942.7L825,935.1L831.6,931.3L837.3,927.5M849.7,928.5L856.3,925.6L862,921.8L867.7,923.7L856.3,930.4M863,918.5L868.9,917L876.5,919.8L883.1,921.7L885.9,925.5L885,933.1L890.7,926.5L899.2,928L911.6,926.5L922,932.2L929.6,937.8L939.1,937.8L942,941.6L944.4,950.2L943.9,956.8L925.8,986.3L924.3,985.7L925.8,1006.2L926.4,1016.6L924.3,1020.4L923.9,1028L920.1,1039.4L919.2,1044.2L915.4,1049.9L910.6,1048.9L904,1052.2L899.6,1058.4L893.9,1060.3L888.8,1066L885.9,1070.8L883.7,1071.7L885,1077.4L887.8,1081.2L887.8,1089.7L884.1,1099.2L880.3,1102.1L876.5,1112.5L875.5,1118.2L881.2,1108.7L885,1099.2L878.4,1120.1L874.6,1133.4L870.8,1136.3L864.1,1139.1L857.5,1138.7L852.7,1135.3L850.8,1131.5L853.7,1140.1L859.4,1142.9L861.3,1148.6L866,1150.5L867.9,1154.3L867,1160.9L861.3,1169.5L857.5,1171.4L849.9,1174.2L848,1175M849.9,928.7L857.5,926.1L863.2,924.2L859.4,928.4L855.9,931M677.8,990.1L678,992.9L677.1,995.2L683.7,997.7L690.4,1004.3L696.1,1011.9L703.7,1024.2L709.4,1029.9L717,1037.5L717,1041.3L720.8,1045.1L726.5,1048.9L735.9,1051.4L751.1,1055.6L759.7,1060.3L765.4,1073.6L767.8,1081.2L768.6,1091.6L770.1,1096.4L774.9,1106.8L776.8,1118.2L778.7,1127.7L781.5,1134.4L782.5,1141L786.3,1150.5L792,1161.9L795.2,1171.4L795.8,1175M795.8,1175.1L799.6,1185.1L796.7,1186.5L806.2,1197.5L810,1207.9M862.2,1274.4L875.5,1273.4L874.6,1280.1L893.5,1270.6L895.4,1267.7L885.9,1267.7L874.6,1262L868.9,1263.9L866,1256.3L864.1,1248.7L866,1233.5L864.1,1227.8L857.5,1225.9L852.7,1221.2L854.6,1214.6L851.8,1210.8L854.6,1197.5L849.9,1194.6L848,1198.4L844.2,1188.9L849.9,1188L853.7,1184.2L848.9,1173.7L848,1175.1M868.9,1263.9L872.7,1271.5L878.4,1265.8M951.5,1301.9L948.6,1301.9L944.8,1307.6L943.9,1320.9L945.8,1332.3L952.4,1335.1L955.3,1341.8L959.1,1349.4L949.6,1348.4L951.5,1356L945.8,1358.9L956.2,1364.6L973.3,1368.4L961.9,1371.2L960,1379.7L955.3,1390.2L949.6,1393L946.7,1402.5L939.1,1403.5L937.6,1410.1L941,1414.9L962.8,1413L961.9,1421.5L955.3,1422.5L961.9,1424.4L953.4,1433.9L952.4,1446.2L951.5,1451.9L971.4,1465M951.5,1301.9L955.3,1301.9L952.4,1307.6L960,1321.8L971.4,1333.2L982.8,1346.5L992.3,1358.9L996.1,1364.6L1032.2,1366.5L1045.4,1360.8L1053,1349.4L1064.4,1328.5L1080,1319M1079.9,1319L1086.2,1314.2L1105.2,1311.7L1107.1,1307.9L1108,1312.7L1122.3,1315.5L1134.6,1318.4L1142.2,1315.5L1147,1319.3L1158.4,1327.9L1170.7,1328.8L1176.4,1326.9L1178.3,1332.6L1182.1,1328.8L1185.9,1328.8L1187.8,1341.2L1199.2,1337L1216.3,1339.3L1222.9,1343.1L1228.6,1341.2L1237.2,1344L1238.5,1351.6L1235.3,1353.5L1237.2,1361.1L1246.1,1380.1L1240,1384.8L1239.1,1390.5L1235.3,1394.3L1240,1400L1251.4,1400.4L1257.1,1404.8L1261.8,1405.7L1270.4,1401L1265.6,1405.7L1270.4,1416.2L1263.7,1421.9L1265.6,1433.3L1278,1436.1L1269.4,1446.6L1272.3,1448.5L1268.5,1451.3L1273.2,1453.2L1252.3,1468.4L1258,1476.9L1254.2,1481.7L1248.5,1483.6L1244.7,1489.3L1239.1,1491.2L1234.3,1500.7L1243.8,1500.7L1233.4,1502.6L1230.5,1508.3L1222.9,1512.1L1216.3,1514L1213.4,1517.8L1221,1520.6L1205.8,1529.2L1211.5,1532.9L1199.2,1532L1165,1545.3L1163.1,1547.2L1158.4,1543.4L1152.7,1544.3L1150.8,1541.5L1133.7,1547.8L1127,1545.3L1112.8,1545.9L1101.4,1540.2L1086.2,1540.5L1073.9,1533.9L1075.8,1532L1077.7,1524.4L1081.5,1523.5L1086.2,1520.6L1090,1514.9L1088.1,1512.1L1093.8,1511.1L1092.8,1503.5L1087.2,1497.8L1084.3,1498.8L1085.3,1502.6L1071,1501.1L1061.5,1496.9L1034.9,1485.5L1023.5,1486.4L1017.8,1488.3L1009.3,1481.7L1004.6,1484.5L996,1478.8L992.2,1479.4L984.6,1474.1L975.1,1472.2L971.3,1465M1105.3,610.1L1118,608.9L1123,612.7L1116.7,616.5L1111.6,618.4L1111,620.9L1116.7,623.4L1120.5,620.9L1124.3,625.3L1128.7,630.4L1130.6,638L1130,646.8L1099,647.8L1097.7,645.8L1090.1,650.6L1092.7,653.2L1094.6,658.2L1092.7,668.4L1090.8,673.4L1089.5,675.9L1092,678.5L1093.9,677.2L1092.7,686.1L1104.1,684.8L1109.1,688.6L1111.6,693.7L1107.2,701.3L1104.1,705.1L1092.7,711.4L1089.5,716.5L1088.2,721.5L1087.6,726.6L1083.8,731.6L1080,736.7M1111,691.8L1114.2,688.6L1119.2,687.3L1128.7,686.1L1133.2,682.3L1137.6,680.4L1140.8,677.2L1142,674.7L1140.1,670.9L1140.8,665.8L1145.8,660.1L1150.9,658.2L1154.7,654.4L1155.9,650.6L1159.1,648.7L1162.9,649.4L1169.2,650.6L1180,642.4L1181.3,641.1L1188.9,643L1191.4,646.2L1193.9,650.6L1201.5,655.7L1210.4,660.8L1219.2,665.8L1225.6,670.9L1231.9,671.5L1236.3,665.2L1225.6,659.5L1219.2,655.7L1214.2,651.9L1206.6,645.6L1199.6,638L1196.5,633.5L1202.2,631L1204.7,636.1L1209.1,634.2L1216.1,643L1223,645.6L1233.2,650L1238.2,653.2L1239.5,662L1248.4,669L1252.2,674.7L1254.7,681L1261,687.3L1266.1,686.1L1262.3,682.3L1267.3,681L1268.6,675.9L1262.3,670.9L1261,663.3L1255.9,662L1257.2,659.5L1267.3,657.6L1273.7,658.9L1277.5,663.3M1205.9,679.1L1221.8,676.6L1222.4,686.7L1211.6,682.9ZM1181.3,662L1187,658.9L1190.8,663.3L1191.4,672.2L1185.1,674.1ZM1111.6,693.7L1116.7,697.5L1124.3,696.2L1130.6,697.5L1135.7,694.9L1140.8,693.7L1143.3,688.6L1150.9,687.3L1161,686.1L1168.6,687.3L1173.7,684.8L1181.3,684.8L1191.4,682.9L1196.5,686.1L1200.9,684.2L1200.3,688.6L1202.8,693.7L1196.5,700L1197.7,703.2L1207.8,707.6L1219.2,708.9L1226.8,711.4L1230.6,718.4L1242,720.9L1249.6,723.4L1254.7,720.3L1253.4,712.7L1261,708.2L1269.9,710.1L1273.7,713.3L1282.5,715.2L1285.1,717.1L1295.2,717.7L1305.3,720.9L1315.4,715.8L1320.5,717.1L1321.8,719.6L1334.4,717.7L1338.2,696.2L1334.4,681L1326.8,681.6L1325.6,684.8L1318,687.3L1310.4,683.5L1305.3,682.9L1302.8,686.7L1288.9,684.2L1282.5,675.9L1278.7,674.7L1277.5,665.8L1277.5,663.3M1281.3,621.5L1288.9,617.1L1293.9,620.3L1300.3,620.9L1302.8,624.7L1304.1,619L1321.8,610.8L1322.4,619L1319.2,625.9L1333.2,631.6L1345.8,638L1350.9,643L1350.9,648.1L1345.8,651.9L1337,653.8L1324.3,650.6L1315.4,646.2L1307.8,648.1L1300.3,654.4L1291.4,657.6L1282.5,659.5L1277.5,663.3L1274.9,660.8L1277.5,655.7L1285.1,653.2L1280,648.1L1277.5,646.8L1281.3,639.2L1280,631.6ZM1302.8,624.7L1306.6,632.3L1311.6,629.1L1319.2,625.9M1334.4,717.7L1339.5,727.8L1338.2,737.3L1343.3,738L1350.9,745.6L1360,755.7M1324.9,727.2L1328.1,732.9L1334.4,739.2L1339.5,746.8L1345.8,758.2L1350.9,763.3L1352.2,770.9L1360,777.2M1196.5,477.1L1205.3,479L1214.2,479.6L1225.6,480.9L1235.7,483.4L1242,487.2L1243.3,492.3L1233.2,492.9L1224.3,493.5L1216.1,494.6L1230.6,497.3L1238.2,498.6L1235.1,503.7L1244.6,503L1253.4,501.1L1245.8,507.5L1257.2,506.2L1248.4,511.3M1145.8,553L1150.9,558.1L1155.9,560.6L1161,558.1L1163.5,553L1168.6,550.5L1171.1,555.6L1174.9,559.4L1178.7,565.7L1181.3,570.8L1185.1,574.6L1190.1,573.3L1191.4,569.5L1196.5,568.2L1195.2,560.6L1192.7,555.6L1196.5,550.5L1199,545.4L1193.9,542.9L1190.1,541.6L1186.3,529L1191.4,523.9L1196.5,520.1L1193.9,511.3L1197.7,507.5L1202.8,508.1L1206.6,511.3L1200.3,523.9L1205.3,535.3L1207.8,540.4L1216.7,541L1228.1,535.3L1235.7,531.5L1244.6,531.5L1248.4,534.7L1242,537.8L1231.9,541.6L1221.8,544.2L1218,548L1225.6,551.8L1228.1,556.8L1225.6,560.6L1218,558.1L1216.1,561.9L1218,568.2L1221.8,573.3L1218,577.1L1212.9,579.6L1206.6,575.8L1201.5,578.4L1193.9,584.7L1186.3,580.9L1181.3,582.2L1176.2,585.9L1168.6,588.5L1161,587.2L1150.9,593.5L1145.8,599.9L1139.5,602.4L1134.4,613.8L1128.1,617.6L1123,620M1166.1,565.7L1171.1,561.9L1173.7,569.5L1168.6,573.3L1167.3,580.9L1163.5,579.6L1164.8,572L1162.3,567ZM1104.5,559.2L1114.9,559.2L1113.7,563.4L1120.6,565.3L1118.1,572.8L1120.6,574.7L1125.7,582.3L1130.1,588.7L1133.3,591.8L1138.4,593.1L1139.6,595.6L1136.5,602L1133.3,605.1L1120.6,605.1L1114.3,608.3L1105.4,610.2L1110.5,605.1L1114.3,602L1121.9,599.4L1115.6,600.7L1107.3,599.4L1111.1,595.6L1109.2,593.1L1113.7,590.6L1120,589.9L1116.8,585.5L1117.5,581.1L1110.5,581.1L1105.4,577.9L1104.2,572.8L1101,570.9L1105.4,568.4L1101.6,564L1105.4,563.4ZM1088.2,725.2L1084.4,731.8L1079.6,736.6L1071.1,739.4L1066.3,747L1061.6,749.9L1058.7,757.5L1053,766L1048.3,773.6L1045.4,781.2L1048.3,782.2L1051.1,785L1049.2,788.8L1053,797.3L1049.2,811.6L1043.5,816.3L1047.7,821.1L1047.3,829.6L1049.2,824.9L1054,823.9L1052.7,829.6L1057.8,833.4L1056.8,839.1L1062.5,844.8L1066.3,850.5L1070.1,854.3L1073.9,861.9L1081.5,867.6L1092.9,874.2M1092.8,873.8L1102.5,876.1L1112,873.2L1123.4,871.3L1134.8,874.2L1146.2,870.4L1157.6,866.6L1169.9,865.1L1176.6,868.5L1180.4,874.2L1183.2,878.9L1188,879.9L1189.9,877L1197.5,876.1L1201.3,880.8L1206,884.6L1204.1,895.1L1205.1,902.7L1199.4,906.5L1198.4,911.2L1204.1,921.6L1215.5,934L1218.4,943.5L1221.2,944.1L1218.4,946.3L1224.1,957.7L1220.3,961.5L1225,974.8L1223.1,980.5L1215.5,986.2L1210.8,996.6L1207.9,1005.2L1207.9,1014.7L1220.3,1042.2L1219.3,1051.7L1218,1066.9L1227.8,1101.1L1226.9,1105.8L1224.1,1106.8L1225,1116.3L1231.6,1122L1244.9,1119.1L1255.4,1123.9L1267.7,1122.9L1286.7,1113.4L1296.2,1104.9L1302.8,1101.1L1311.4,1084.9L1307.6,1083L1331.3,1075.4L1332.3,1064.1L1328.5,1058.4L1330.4,1047L1340.8,1043.2L1345.6,1038.4L1362.7,1033.7L1370.3,1025.1L1373.1,1009L1376.9,998.5L1373.1,993.8L1372.2,976.7L1375,972.9L1370.3,965.3L1376.9,952L1381.6,945.4L1387.3,941.6L1398.7,928.3L1408.2,921.6L1420,915M1334.2,918.8L1343.7,916.9L1350.3,921.6L1347.5,933L1339.9,938.7L1332.3,933ZM1241.1,928.3L1242.1,922.6L1252.5,913.1L1255.4,895.1M1252.5,911.2L1256.3,902.7L1265.8,898.9L1280.1,897.9L1292.4,908.7M1325.1,727.2L1328,732L1333.7,739.6L1348.9,766.1L1351.7,767.1L1350.8,771.8L1361.2,779.4L1363.1,785.1L1362.2,788.9L1365,799.4L1372.6,805.1L1381.1,825L1388.7,829.7L1401.1,844.9L1403.9,848.7L1398.2,852L1403.9,851.6L1411.5,861.1L1419.1,858.2L1422.9,860.1L1428.6,857.3L1440.9,858.2L1447.6,853.5L1451.4,854.4L1450.4,865.8L1448.5,865.8L1448.5,872.5L1431.5,904.7L1419.1,917.1M1339.4,728.2L1338.4,738.6L1342.2,737.7L1359.3,758.5L1360.3,762.3L1367.8,768L1373.5,778.5L1374.5,785.1L1384.9,794.6L1398.2,815.5L1398.6,825.9L1403.9,843L1404.9,845.9L1413.4,844.9L1417.2,841.1L1434.3,837.9L1438.1,833.5L1455.2,828.8L1455.2,822.2L1469.4,819.3L1471.3,814.6L1478,813.2L1479.9,807L1485.6,806L1483.7,796.5L1486.5,793.7L1493.2,781.3L1482.7,772.8L1472.3,769L1468.5,764.2L1464.7,753.8L1467.5,748.1L1464.7,743.4L1456.1,748.1L1449.5,746.8L1440.9,740.5L1435.3,738.6L1423.9,722.5L1415.3,720.6L1411.5,726.3L1413.4,730.1L1421,741.5L1430.5,748.1L1429.6,751.9L1437.2,763.3L1440,762.3L1438.1,752.8L1440,754.7L1440.9,764.2L1444.7,768L1447.6,766.1L1456.1,767.1L1467.5,748.1L1471.3,752.8L1485.6,755.7L1497.9,759.5L1523.5,754.4L1526.4,761.4L1530.2,762.3L1532.1,769L1540.6,768.4L1538.7,771.8L1546.3,778.5L1552,777.5L1543.5,783.2L1557.7,797.5L1565.3,792.7L1563.4,784.2L1568.2,785.1L1566.3,788.9L1570.1,794.6L1569.1,805.1L1578.6,840.2L1597.6,884.8L1600.4,905.7L1606.1,915.8L1609.9,913.3L1610.9,907.6L1614.7,905.7L1616.6,897.2L1621.3,897.2L1619.4,884.8L1622.3,870.6L1618.5,847.8L1623.2,847.8L1625.1,842.1L1630.8,840.6L1629.9,836.4L1638.4,825L1641.3,815.5L1648.9,808.9L1650.8,801.3L1647.9,794.6L1651.7,789.9L1652.7,785.1L1655.5,790.8L1660.3,789.9L1665.9,785.1L1665,779.4L1670.7,779.1L1684,806L1685.9,804.1L1684.9,808.9L1691.6,811.7L1694.4,817.4L1690.6,818.4L1698.2,830.7L1702,840.2L1701.1,857.3L1705.8,858.8L1710,858.2M1621.3,901.9L1629.9,918L1631.8,932.3L1628,938.9L1621.3,939.3L1618.5,918ZM1415.3,597.3L1422.9,594.5L1423.9,599.2L1432.4,604L1433.4,612.5L1435.3,617.3L1430.5,621.1L1422.9,616.3L1419.1,614.4L1415.3,606.8ZM1365,614.4L1369.7,604.9L1375.4,602.1L1384.9,601.5L1388.7,604.9L1389.7,612.5L1393.5,613.5L1384.9,616.3L1383,622L1388.7,627.7L1400.1,631.5L1402,637.2L1406.8,635.3L1416.3,642.9L1413.4,646.7L1407.7,642.9L1405.8,648.6L1413.4,651.5L1421,661.9L1426.7,674.2L1421,676.1L1402,671.4L1394.4,661.9L1396.3,651.5L1381.1,641L1373.5,631.5L1365,623.9ZM1593.8,361.9L1608,374.2L1600.4,378L1615.6,390.4L1614.7,394.2L1622.3,397L1631.8,408.4L1645.1,417.9L1665.9,449.2L1672.6,454.9L1679.2,454L1707.7,471.1M1648.9,361.9L1707.7,428.4M1664.1,361.9L1681.1,375.2L1690.6,380.9L1707.7,398.9M1648.9,470.1L1654.6,472L1669.7,491L1663.1,472L1666.9,463.5L1679.2,473.9L1681.1,477.7L1686.8,478.7L1687.8,489.1L1691.6,490.1L1690.6,483.4L1694.4,480.6L1707.7,489.1M1648.9,470.1L1662.2,496.7L1671.6,510L1669.7,517.6L1679.2,526.1L1684,522.3L1694.4,533.7L1693.5,527.1L1690.6,517.6L1696.3,510.9L1702,518.5L1704.9,532.8L1707.7,537.5M1669.7,491L1679.2,503.4M1422.9,1019.4L1417.6,1022.3L1417.2,1028.9L1414.4,1030.8L1411.5,1028.9L1411.5,1032.7L1405.8,1038.4L1400.1,1041.6L1399.2,1039.7L1388.7,1039.7L1383.4,1047.9L1382.1,1065L1374.5,1071.6L1370.7,1077.7L1368.2,1095.4L1371.6,1100.5L1383.4,1102L1411.5,1063.1L1413.4,1055.5L1416.8,1053.6L1417.6,1045.1L1421,1044.7L1420.1,1048.9L1423.9,1046L1424.8,1028.9ZM1413.4,1618.3L1424.8,1610.7L1429.6,1614.5L1440,1610.7L1431.5,1608.8L1436.2,1602.2L1441.9,1605L1446.6,1609.7L1459,1607.3L1452.3,1606.9L1450.4,1592.7L1444.7,1595.1L1454.2,1588.9L1455.2,1590.8L1471.3,1584.1L1478.9,1578.4L1481.8,1579.4L1510.3,1551.8L1523.9,1513.9L1522,1503.4L1514.1,1500.9L1524.5,1475.9L1515.9,1465.4L1518.8,1455.9L1527.3,1442.7L1535.3,1438.3L1536.8,1442.7L1549.2,1437.5L1563.4,1423.7L1575.8,1415.1L1601.4,1387.6L1601.4,1392.3L1609,1382.5L1618.5,1372.4L1640.3,1359.1L1635.6,1366.7L1641.3,1363.9L1654.2,1370.5L1651.7,1377.2L1660.3,1384.7L1662.5,1398L1675.4,1397.5L1684,1388.2L1692.5,1387L1679.2,1404.7L1688.7,1399.9L1690.6,1406.6L1696.3,1394.2L1707.7,1392.3M1707.7,1494.9L1702,1501.5L1694.4,1500.6L1696.3,1504.4L1678.3,1509.1L1629.9,1568.9L1617.5,1579.4L1609,1592.3L1633.7,1589.4L1652.7,1578L1665.9,1574.6L1669.7,1568.9L1674.5,1570.8L1689.7,1562.3L1689.7,1568.9L1647,1600.3L1624.2,1612.6L1620.4,1618.3M1667.8,1618.3L1707.7,1586M1681.1,1618.3L1707.7,1595.5M1208.9,362.5L1219,365.1L1230.4,368.9L1235.4,376.5L1244.3,389.1L1259.5,391.6L1259.5,403.7L1270.9,406.8L1281,404.9L1291.1,408.7L1302.5,413.8L1288.6,410.6L1275.9,410.6L1270.9,413.2L1286.1,417L1279.7,419.5L1270.9,417L1260.8,419.5L1255.7,422.7L1267.1,430.3L1269.6,434.7L1283.5,441L1291.1,439.7L1298.7,447.3L1283.5,446.1L1269.6,449.9L1274.7,454.9L1270.9,463.8L1263.3,462.5L1262,468.9M1281,422L1296.2,432.2L1300,429L1308.9,427.7L1320.3,432.8L1313.9,434.7L1305.1,433.4L1311.4,438.5L1321.5,450.5L1313.9,453.7L1307.6,457.5L1310.1,462.5L1319,468.9L1326.6,472.7L1332.9,481.5L1358.2,486.6L1363.3,484.1L1369.6,473.9L1382.3,471.4L1387.3,473.9L1401.3,472.7L1413.9,473.9L1425.3,477.7L1433.5,485.9M1358.2,486.6L1364.6,487.8L1369.6,492.9L1370.9,498L1377.2,505.6M1354.4,482.8L1368.4,473.3M1400,362.5L1401.3,365.1L1412.7,371.4L1415.2,373.9L1423.4,379.6M1186.3,368.5L1192.9,364.7L1201.5,366.6L1201.5,371.4L1195.8,375.2L1189.1,372.3Z"/><path class="c" style="fill:#000" d="M1027.8,487.8L1034.2,480.3L1040.5,481.5L1048.1,486.6L1045.6,491.6L1035.4,492.9ZM1316.1,693L1328.1,688L1325.6,693L1320.5,696.8ZM1243.3,518.9L1249.6,517L1257.2,521.4L1259.1,527.7L1253.4,529L1245.8,525.2ZM1215.4,518.2L1225.6,522.7L1235.7,527.1L1229.4,527.7L1219.2,522.7ZM1224.9,823.9L1229.6,822L1232.5,826.8L1238.2,828.7L1231.5,833.4L1227.7,829.6ZM1316.7,939.1L1319,939.1L1320.9,955.8L1324.3,971L1323.9,975.2L1321.6,972.9L1316.3,955.8ZM1339.5,982.8L1341.8,982.8L1343.3,995.7L1341.4,1014.3L1339.1,1013.7L1337.6,997.6ZM1467.5,407.5L1487.5,420.8L1497,431.2L1510.3,449.2L1515,454.9L1513.1,458.7L1510.3,454.9L1495.1,435.9L1483.7,424.6L1466.6,410.3ZM1673.5,393.2L1677.3,392.3L1688.7,402.7L1687.8,405.6L1681.1,400.8ZM1695.4,391.3L1698.2,388.5L1707.7,397L1707.7,402.7Z"/><path class="c" style="stroke-width:5.6" d="M906.3,386.6L917.7,372.7L925.3,368.2L941.8,371.4L939.2,377.7L930.4,379L934.2,386.6L921.5,387.8L924.1,392.9L915.2,393.5L912.7,389.7ZM913.9,379L931.6,373.9L927.8,377.7L917.7,384.1L926.6,383.4M955.7,401.8L964.6,396.7L970.9,391.6L982.3,391L997.5,393.5L1013.9,396.7L1021.5,405.6L1015.2,409.4L1007.6,408.1L997.5,410.6L986.1,409.4L977.2,406.8L968.4,410.6L959.5,413.2L951.9,410.6ZM959.5,406.8L969.6,400.5L979.7,396.7L992.4,398L1002.5,400.5L1012.7,403M964.6,405.6L977.2,401.8L989.9,403.7L1002.5,405.6M973.4,417L973.4,425.8L965.8,428.4L964.6,434.7L969.6,437.2L977.2,438.5L978.5,447.3L975.3,456.2L970.9,461.3L969.6,467.6L972.2,471.4L969.6,480.3L964.6,485.3L955.7,487.8L948.1,492.9L943,499.2L940.5,508.1L939.9,518.2L938,528.4L939.2,534.7L944.3,537.2L946.8,542.3L955.7,543.5L963.3,534.7L965.8,528.4L973.4,524.6L977.2,517L983.5,513.2L992.4,509.4L1001.3,510L1008.9,504.3L1015.2,500.5L1022.8,501.8L1032.9,499.2L1040.5,495.4L1048.1,492.9L1051.9,489.1L1048.1,481.5L1040.5,473.9L1036.7,472.7L1043,468.9L1051.9,468.9L1060.8,466.3L1059.5,460L1063.3,454.9L1062,448.6L1065.8,446.1L1060.8,441L1067.1,437.2L1072.2,430.9L1077.2,425.8L1069.6,423.3L1064.6,418.2L1063.3,414.4L1051.9,411.3L1040.5,413.2L1027.8,414.4L1020.3,410.6L1008.9,408.7L997.5,410.6L983.5,413.2ZM741,654.8L749.9,652.9L748.6,659.2L742.3,666.8L735.9,671.9L733.4,670.6L735.9,659.2ZM851.1,530.1L858.7,527.6L857.5,533.9L853.7,536.5L865.1,536.5L873.9,527.6L879,525.7L877.7,535.2L873.9,544.1L871.4,551.6L872.7,561.8L875.2,566.8L863.8,573.2L875.2,570.6L884.1,575.7L880.3,584.6M810,1207.9L817.6,1207L821.4,1215.5L817.6,1222.2L825.2,1224.1L830.9,1233.5L827.1,1239.2L829.9,1244.9L840.4,1249.7L841.3,1253.5L848,1261.1L857.5,1267.7L862.2,1274.4M1145.8,553L1142,546.7L1141.4,537.8L1147.1,532.8L1154.7,527.7L1158.5,521.4L1162.3,510L1163.5,501.1L1168.6,491L1173.7,484.7L1180,478.4L1187.6,475.2L1196.5,477.1M1239.5,475.2L1253.4,475.8L1247.1,480.9L1258.5,483.4L1248.4,488.5L1259.7,492.3L1249.6,496.1L1257.2,501.1M1116.7,432.8L1130.6,425.2L1142,424.6L1139.5,435.3L1140.8,449.2L1130.6,444.2L1121.8,437.2ZM1123,434.1L1135.7,430.3L1137,442.9L1129.4,437.8L1135.7,435.3M1083.9,585.5L1089.6,583L1092.2,579.2L1097.8,577.9L1102.9,580.4L1101.6,586.1L1104.2,597.5L1089,602L1085.2,602L1082.7,598.8L1086.5,595L1083.9,590.6ZM1494.1,567.3L1492.2,571.7L1477,574.9L1476.1,583.1L1485.2,590.7M1707.7,1418.9L1695.4,1428.4L1703,1428.4L1695.4,1436L1703.9,1436L1696.3,1443.6L1702,1443.6L1707.7,1436M1696.3,1618.3L1707.7,1606.9M883.9,574.2L885.2,576.7L880.8,580.5L882.7,583.7L878.9,586.2L866.8,588.1L858,593.8L855.4,595.7M847.2,610.3L852.9,606.5L863,600.1L868.1,593.8L872.5,590.6L879.5,589.4L875.7,595.7L877,599.5L883.3,603.3L880.8,608.4L883.3,611.5L882.7,615.3L877,621L872.5,619.1L864.3,617.2L869.4,611.5L875.1,609L877,606.5L873.2,605.2L866.8,602L863.7,603.9L859.2,608.4L855.4,610.3ZM1215.2,406.8L1224.1,410L1225.3,422L1230.4,428.4L1234.2,435.9L1238,443.5L1248.1,447.3L1258.2,448.6L1250.6,453.7L1240.5,452.4L1235.4,448.6L1226.6,438.5L1221.5,429.6L1216.5,428.4L1215.2,419.5L1217.7,414.4ZM1281,404.9L1291.1,408.7L1302.5,413.8M1275.9,417L1286.1,417.6M1300,429L1308.9,427.7L1320.3,432.8M1281,422L1296.2,432.2"/>
<path class="g" d="M1080,1369.5L1080.6,1369.5L1081.3,1369.5L1081.9,1369.5L1082.5,1369.5L1083.2,1369.5L1083.8,1369.5L1084.4,1369.5L1085.1,1369.6L1085.7,1369.6L1086.3,1369.6L1087,1369.7L1087.6,1369.7L1088.2,1369.8L1088.9,1369.8L1089.5,1369.9L1090.1,1369.9L1090.8,1370L1091.4,1370L1092,1370.1L1092.6,1370.2L1093.3,1370.3L1093.9,1370.3L1094.5,1370.4L1095.1,1370.5L1095.8,1370.6L1096.4,1370.7L1097,1370.8L1097.6,1370.9L1098.2,1371L1098.9,1371.1L1099.5,1371.2L1100.1,1371.3L1100.7,1371.4L1101.3,1371.6L1101.9,1371.7L1102.6,1371.8L1103.2,1371.9L1103.8,1372.1L1104.4,1372.2L1105,1372.4L1105.6,1372.5L1106.2,1372.7L1106.8,1372.8L1107.4,1373L1108,1373.1L1108.6,1373.3L1109.2,1373.5L1109.8,1373.6L1110.4,1373.8L1110.9,1374L1111.5,1374.2L1112.1,1374.3L1112.7,1374.5L1113.3,1374.7L1113.9,1374.9L1114.4,1375.1L1115,1375.3L1115.6,1375.5L1116.2,1375.7L1116.7,1376L1117.3,1376.2L1117.9,1376.4L1118.4,1376.6L1119,1376.8L1119.5,1377.1L1120.1,1377.3L1120.6,1377.5L1121.2,1377.8L1121.7,1378L1122.3,1378.3L1122.8,1378.5L1123.4,1378.8L1123.9,1379L1124.4,1379.3L1125,1379.5L1125.5,1379.8L1126,1380.1L1126.6,1380.4L1127.1,1380.6L1127.6,1380.9L1128.1,1381.2L1128.6,1381.5L1129.1,1381.8L1129.6,1382.1L1130.1,1382.3L1130.6,1382.6L1131.1,1382.9L1131.6,1383.3L1132.1,1383.6L1132.6,1383.9L1133.1,1384.2L1133.6,1384.5L1134,1384.8L1134.5,1385.1L1135,1385.5L1135.4,1385.8L1135.9,1386.1L1136.4,1386.5L1136.8,1386.8L1137.3,1387.1L1137.7,1387.5L1138.2,1387.8L1138.6,1388.2L1139,1388.5L1139.5,1388.9L1139.9,1389.2L1140.3,1389.6L1140.8,1390L1141.2,1390.3L1141.6,1390.7L1142,1391.1L1142.4,1391.4L1142.8,1391.8L1143.2,1392.2L1143.6,1392.6L1144,1393L1144.4,1393.4L1144.8,1393.7L1145.1,1394.1L1145.5,1394.5L1145.9,1394.9L1146.2,1395.3L1146.6,1395.7L1146.9,1396.1L1147.3,1396.5L1147.6,1397L1148,1397.4L1148.3,1397.8L1148.7,1398.2L1149,1398.6L1149.3,1399L1149.6,1399.5L1149.9,1399.9L1150.2,1400.3L1150.6,1400.8L1150.8,1401.2L1151.1,1401.6L1151.4,1402.1L1151.7,1402.5L1152,1402.9L1152.3,1403.4L1152.5,1403.8L1152.8,1404.3L1153.1,1404.7L1153.3,1405.2L1153.6,1405.6L1153.8,1406.1L1154.1,1406.6L1154.3,1407L1154.5,1407.5L1154.7,1407.9L1155,1408.4L1155.2,1408.9L1155.4,1409.3L1155.6,1409.8L1155.8,1410.3L1156,1410.8L1156.2,1411.2L1156.4,1411.7L1156.5,1412.2L1156.7,1412.7L1156.9,1413.2L1157,1413.6L1157.2,1414.1L1157.3,1414.6L1157.5,1415.1L1157.6,1415.6L1157.7,1416.1L1157.9,1416.6L1158,1417.1L1158.1,1417.6L1158.2,1418L1158.3,1418.5L1158.4,1419L1158.5,1419.5L1158.6,1420L1158.7,1420.5L1158.7,1421L1158.8,1421.5L1158.9,1422L1158.9,1422.6L1159,1423.1L1159,1423.6L1159.1,1424.1L1159.1,1424.6L1159.1,1425.1L1159.1,1425.6L1159.2,1426.1L1159.2,1426.6L1159.2,1427.1L1159.2,1427.6L1159.2,1428.1L1159.1,1428.7L1159.1,1429.2L1159.1,1429.7L1159.1,1430.2L1159,1430.7L1159,1431.2L1158.9,1431.7L1158.9,1432.2L1158.8,1432.8L1158.7,1433.3L1158.6,1433.8L1158.6,1434.3L1158.5,1434.8L1158.4,1435.3L1158.3,1435.8L1158.2,1436.4L1158.1,1436.9L1157.9,1437.4L1157.8,1437.9L1157.7,1438.4L1157.5,1438.9L1157.4,1439.4L1157.2,1439.9L1157.1,1440.5L1156.9,1441L1156.7,1441.5L1156.6,1442L1156.4,1442.5L1156.2,1443L1156,1443.5L1155.8,1444L1155.6,1444.5L1155.4,1445L1155.2,1445.5L1154.9,1446L1154.7,1446.5L1154.5,1447L1154.2,1447.5L1154,1448L1153.7,1448.5L1153.4,1449L1153.2,1449.5L1152.9,1450L1152.6,1450.5L1152.3,1451L1152,1451.5L1151.7,1451.9L1151.4,1452.4L1151.1,1452.9L1150.8,1453.4L1150.5,1453.9L1150.1,1454.3L1149.8,1454.8L1149.4,1455.3L1149.1,1455.8L1148.7,1456.2L1148.4,1456.7L1148,1457.2L1147.6,1457.6L1147.3,1458.1L1146.9,1458.6L1146.5,1459L1146.1,1459.5L1145.7,1459.9L1145.3,1460.4L1144.9,1460.8L1144.4,1461.3L1144,1461.7L1143.6,1462.1L1143.1,1462.6L1142.7,1463L1142.3,1463.4L1141.8,1463.9L1141.3,1464.3L1140.9,1464.7L1140.4,1465.1L1139.9,1465.6L1139.5,1466L1139,1466.4L1138.5,1466.8L1138,1467.2L1137.5,1467.6L1137,1468L1136.5,1468.4L1135.9,1468.8L1135.4,1469.2L1134.9,1469.6L1134.3,1469.9L1133.8,1470.3L1133.3,1470.7L1132.7,1471.1L1132.2,1471.4L1131.6,1471.8L1131,1472.2L1130.5,1472.5L1129.9,1472.9L1129.3,1473.2L1128.7,1473.6L1128.2,1473.9L1127.6,1474.2L1127,1474.6L1126.4,1474.9L1125.8,1475.2L1125.2,1475.5L1124.5,1475.9L1123.9,1476.2L1123.3,1476.5L1122.7,1476.8L1122.1,1477.1L1121.4,1477.4L1120.8,1477.7L1120.1,1478L1119.5,1478.2L1118.9,1478.5L1118.2,1478.8L1117.5,1479.1L1116.9,1479.3L1116.2,1479.6L1115.6,1479.8L1114.9,1480.1L1114.2,1480.3L1113.5,1480.6L1112.9,1480.8L1112.2,1481L1111.5,1481.3L1110.8,1481.5L1110.1,1481.7L1109.4,1481.9L1108.7,1482.1L1108,1482.3L1107.3,1482.5L1106.6,1482.7L1105.9,1482.9L1105.2,1483.1L1104.5,1483.3L1103.8,1483.5L1103,1483.6L1102.3,1483.8L1101.6,1483.9L1100.9,1484.1L1100.1,1484.2L1099.4,1484.4L1098.7,1484.5L1097.9,1484.6L1097.2,1484.8L1096.5,1484.9L1095.7,1485L1095,1485.1L1094.3,1485.2L1093.5,1485.3L1092.8,1485.4L1092,1485.5L1091.3,1485.6L1090.5,1485.7L1089.8,1485.7L1089,1485.8L1088.3,1485.9L1087.5,1485.9L1086.8,1486L1086,1486L1085.3,1486.1L1084.5,1486.1L1083.8,1486.1L1083,1486.2L1082.3,1486.2L1081.5,1486.2L1080.8,1486.2L1080,1486.2L1079.2,1486.2L1078.5,1486.2L1077.7,1486.2L1077,1486.2L1076.2,1486.1L1075.5,1486.1L1074.7,1486.1L1074,1486L1073.2,1486L1072.5,1485.9L1071.7,1485.9L1071,1485.8L1070.2,1485.7L1069.5,1485.7L1068.7,1485.6L1068,1485.5L1067.2,1485.4L1066.5,1485.3L1065.7,1485.2L1065,1485.1L1064.3,1485L1063.5,1484.9L1062.8,1484.8L1062.1,1484.6L1061.3,1484.5L1060.6,1484.4L1059.9,1484.2L1059.1,1484.1L1058.4,1483.9L1057.7,1483.8L1057,1483.6L1056.2,1483.5L1055.5,1483.3L1054.8,1483.1L1054.1,1482.9L1053.4,1482.7L1052.7,1482.5L1052,1482.3L1051.3,1482.1L1050.6,1481.9L1049.9,1481.7L1049.2,1481.5L1048.5,1481.3L1047.8,1481L1047.1,1480.8L1046.5,1480.6L1045.8,1480.3L1045.1,1480.1L1044.4,1479.8L1043.8,1479.6L1043.1,1479.3L1042.5,1479.1L1041.8,1478.8L1041.1,1478.5L1040.5,1478.2L1039.9,1478L1039.2,1477.7L1038.6,1477.4L1037.9,1477.1L1037.3,1476.8L1036.7,1476.5L1036.1,1476.2L1035.5,1475.9L1034.8,1475.5L1034.2,1475.2L1033.6,1474.9L1033,1474.6L1032.4,1474.2L1031.8,1473.9L1031.3,1473.6L1030.7,1473.2L1030.1,1472.9L1029.5,1472.5L1029,1472.2L1028.4,1471.8L1027.8,1471.4L1027.3,1471.1L1026.7,1470.7L1026.2,1470.3L1025.7,1469.9L1025.1,1469.6L1024.6,1469.2L1024.1,1468.8L1023.5,1468.4L1023,1468L1022.5,1467.6L1022,1467.2L1021.5,1466.8L1021,1466.4L1020.5,1466L1020.1,1465.6L1019.6,1465.1L1019.1,1464.7L1018.7,1464.3L1018.2,1463.9L1017.7,1463.4L1017.3,1463L1016.9,1462.6L1016.4,1462.1L1016,1461.7L1015.6,1461.3L1015.1,1460.8L1014.7,1460.4L1014.3,1459.9L1013.9,1459.5L1013.5,1459L1013.1,1458.6L1012.7,1458.1L1012.4,1457.6L1012,1457.2L1011.6,1456.7L1011.3,1456.2L1010.9,1455.8L1010.6,1455.3L1010.2,1454.8L1009.9,1454.3L1009.5,1453.9L1009.2,1453.4L1008.9,1452.9L1008.6,1452.4L1008.3,1451.9L1008,1451.5L1007.7,1451L1007.4,1450.5L1007.1,1450L1006.8,1449.5L1006.6,1449L1006.3,1448.5L1006,1448L1005.8,1447.5L1005.5,1447L1005.3,1446.5L1005.1,1446L1004.8,1445.5L1004.6,1445L1004.4,1444.5L1004.2,1444L1004,1443.5L1003.8,1443L1003.6,1442.5L1003.4,1442L1003.3,1441.5L1003.1,1441L1002.9,1440.5L1002.8,1439.9L1002.6,1439.4L1002.5,1438.9L1002.3,1438.4L1002.2,1437.9L1002.1,1437.4L1001.9,1436.9L1001.8,1436.4L1001.7,1435.8L1001.6,1435.3L1001.5,1434.8L1001.4,1434.3L1001.4,1433.8L1001.3,1433.3L1001.2,1432.8L1001.1,1432.2L1001.1,1431.7L1001,1431.2L1001,1430.7L1000.9,1430.2L1000.9,1429.7L1000.9,1429.2L1000.9,1428.7L1000.8,1428.1L1000.8,1427.6L1000.8,1427.1L1000.8,1426.6L1000.8,1426.1L1000.9,1425.6L1000.9,1425.1L1000.9,1424.6L1000.9,1424.1L1001,1423.6L1001,1423.1L1001.1,1422.6L1001.1,1422L1001.2,1421.5L1001.3,1421L1001.3,1420.5L1001.4,1420L1001.5,1419.5L1001.6,1419L1001.7,1418.5L1001.8,1418L1001.9,1417.6L1002,1417.1L1002.1,1416.6L1002.3,1416.1L1002.4,1415.6L1002.5,1415.1L1002.7,1414.6L1002.8,1414.1L1003,1413.6L1003.1,1413.2L1003.3,1412.7L1003.5,1412.2L1003.6,1411.7L1003.8,1411.2L1004,1410.8L1004.2,1410.3L1004.4,1409.8L1004.6,1409.3L1004.8,1408.9L1005,1408.4L1005.3,1407.9L1005.5,1407.5L1005.7,1407L1005.9,1406.6L1006.2,1406.1L1006.4,1405.6L1006.7,1405.2L1006.9,1404.7L1007.2,1404.3L1007.5,1403.8L1007.7,1403.4L1008,1402.9L1008.3,1402.5L1008.6,1402.1L1008.9,1401.6L1009.2,1401.2L1009.4,1400.8L1009.8,1400.3L1010.1,1399.9L1010.4,1399.5L1010.7,1399L1011,1398.6L1011.3,1398.2L1011.7,1397.8L1012,1397.4L1012.4,1397L1012.7,1396.5L1013.1,1396.1L1013.4,1395.7L1013.8,1395.3L1014.1,1394.9L1014.5,1394.5L1014.9,1394.1L1015.2,1393.7L1015.6,1393.4L1016,1393L1016.4,1392.6L1016.8,1392.2L1017.2,1391.8L1017.6,1391.4L1018,1391.1L1018.4,1390.7L1018.8,1390.3L1019.2,1390L1019.7,1389.6L1020.1,1389.2L1020.5,1388.9L1021,1388.5L1021.4,1388.2L1021.8,1387.8L1022.3,1387.5L1022.7,1387.1L1023.2,1386.8L1023.6,1386.5L1024.1,1386.1L1024.6,1385.8L1025,1385.5L1025.5,1385.1L1026,1384.8L1026.4,1384.5L1026.9,1384.2L1027.4,1383.9L1027.9,1383.6L1028.4,1383.3L1028.9,1382.9L1029.4,1382.6L1029.9,1382.3L1030.4,1382.1L1030.9,1381.8L1031.4,1381.5L1031.9,1381.2L1032.4,1380.9L1032.9,1380.6L1033.4,1380.4L1034,1380.1L1034.5,1379.8L1035,1379.5L1035.6,1379.3L1036.1,1379L1036.6,1378.8L1037.2,1378.5L1037.7,1378.3L1038.3,1378L1038.8,1377.8L1039.4,1377.5L1039.9,1377.3L1040.5,1377.1L1041,1376.8L1041.6,1376.6L1042.1,1376.4L1042.7,1376.2L1043.3,1376L1043.8,1375.7L1044.4,1375.5L1045,1375.3L1045.6,1375.1L1046.1,1374.9L1046.7,1374.7L1047.3,1374.5L1047.9,1374.3L1048.5,1374.2L1049.1,1374L1049.6,1373.8L1050.2,1373.6L1050.8,1373.5L1051.4,1373.3L1052,1373.1L1052.6,1373L1053.2,1372.8L1053.8,1372.7L1054.4,1372.5L1055,1372.4L1055.6,1372.2L1056.2,1372.1L1056.8,1371.9L1057.4,1371.8L1058.1,1371.7L1058.7,1371.6L1059.3,1371.4L1059.9,1371.3L1060.5,1371.2L1061.1,1371.1L1061.8,1371L1062.4,1370.9L1063,1370.8L1063.6,1370.7L1064.2,1370.6L1064.9,1370.5L1065.5,1370.4L1066.1,1370.3L1066.7,1370.3L1067.4,1370.2L1068,1370.1L1068.6,1370L1069.2,1370L1069.9,1369.9L1070.5,1369.9L1071.1,1369.8L1071.8,1369.8L1072.4,1369.7L1073,1369.7L1073.7,1369.6L1074.3,1369.6L1074.9,1369.6L1075.6,1369.5L1076.2,1369.5L1076.8,1369.5L1077.5,1369.5L1078.1,1369.5L1078.7,1369.5L1079.4,1369.5L1080,1369.5M1080,1252.7L1081.6,1252.7L1083.2,1252.7L1084.9,1252.7L1086.5,1252.8L1088.1,1252.8L1089.7,1252.8L1091.3,1252.9L1093,1252.9L1094.6,1253L1096.2,1253.1L1097.8,1253.1L1099.4,1253.2L1101.1,1253.3L1102.7,1253.4L1104.3,1253.5L1105.9,1253.6L1107.5,1253.8L1109.1,1253.9L1110.7,1254L1112.3,1254.2L1114,1254.3L1115.6,1254.5L1117.2,1254.7L1118.8,1254.8L1120.4,1255L1122,1255.2L1123.6,1255.4L1125.2,1255.6L1126.8,1255.8L1128.4,1256L1130,1256.3L1131.6,1256.5L1133.2,1256.7L1134.8,1257L1136.3,1257.2L1137.9,1257.5L1139.5,1257.8L1141.1,1258L1142.7,1258.3L1144.3,1258.6L1145.8,1258.9L1147.4,1259.2L1149,1259.6L1150.5,1259.9L1152.1,1260.2L1153.7,1260.5L1155.2,1260.9L1156.8,1261.2L1158.4,1261.6L1159.9,1262L1161.5,1262.4L1163,1262.7L1164.5,1263.1L1166.1,1263.5L1167.6,1263.9L1169.2,1264.3L1170.7,1264.8L1172.2,1265.2L1173.7,1265.6L1175.3,1266.1L1176.8,1266.5L1178.3,1267L1179.8,1267.5L1181.3,1267.9L1182.8,1268.4L1184.3,1268.9L1185.8,1269.4L1187.3,1269.9L1188.8,1270.4L1190.3,1270.9L1191.8,1271.5L1193.3,1272L1194.7,1272.5L1196.2,1273.1L1197.7,1273.7L1199.1,1274.2L1200.6,1274.8L1202,1275.4L1203.5,1276L1204.9,1276.6L1206.3,1277.2L1207.8,1277.8L1209.2,1278.4L1210.6,1279L1212,1279.7L1213.4,1280.3L1214.9,1281L1216.3,1281.6L1217.6,1282.3L1219,1283L1220.4,1283.7L1221.8,1284.4L1223.2,1285.1L1224.5,1285.8L1225.9,1286.5L1227.3,1287.2L1228.6,1287.9L1230,1288.7L1231.3,1289.4L1232.6,1290.2L1233.9,1290.9L1235.3,1291.7L1236.6,1292.5L1237.9,1293.3L1239.2,1294.1L1240.5,1294.9L1241.8,1295.7L1243,1296.5L1244.3,1297.3L1245.6,1298.2L1246.8,1299L1248.1,1299.8L1249.3,1300.7L1250.6,1301.6L1251.8,1302.4L1253,1303.3L1254.2,1304.2L1255.4,1305.1L1256.6,1306L1257.8,1306.9L1259,1307.8L1260.2,1308.8L1261.3,1309.7L1262.5,1310.7L1263.6,1311.6L1264.8,1312.6L1265.9,1313.5L1267,1314.5L1268.1,1315.5L1269.2,1316.5L1270.3,1317.5L1271.4,1318.5L1272.5,1319.5L1273.6,1320.5L1274.6,1321.6L1275.7,1322.6L1276.7,1323.7L1277.7,1324.7L1278.8,1325.8L1279.8,1326.9L1280.8,1327.9L1281.8,1329L1282.7,1330.1L1283.7,1331.2L1284.7,1332.3L1285.6,1333.5L1286.6,1334.6L1287.5,1335.7L1288.4,1336.9L1289.3,1338L1290.2,1339.2L1291.1,1340.3L1292,1341.5L1292.8,1342.7L1293.7,1343.9L1294.5,1345.1L1295.3,1346.3L1296.1,1347.5L1296.9,1348.7L1297.7,1349.9L1298.5,1351.2L1299.3,1352.4L1300,1353.7L1300.8,1354.9L1301.5,1356.2L1302.2,1357.5L1302.9,1358.8L1303.6,1360L1304.3,1361.3L1304.9,1362.6L1305.6,1363.9L1306.2,1365.3L1306.8,1366.6L1307.4,1367.9L1308,1369.3L1308.6,1370.6L1309.2,1372L1309.7,1373.3L1310.2,1374.7L1310.8,1376.1L1311.3,1377.5L1311.8,1378.8L1312.2,1380.2L1312.7,1381.6L1313.1,1383.1L1313.6,1384.5L1314,1385.9L1314.4,1387.3L1314.8,1388.8L1315.1,1390.2L1315.5,1391.6L1315.8,1393.1L1316.1,1394.6L1316.4,1396L1316.7,1397.5L1317,1399L1317.2,1400.5L1317.5,1402L1317.7,1403.5L1317.9,1405L1318.1,1406.5L1318.2,1408L1318.4,1409.5L1318.5,1411L1318.6,1412.6L1318.7,1414.1L1318.8,1415.7L1318.8,1417.2L1318.9,1418.8L1318.9,1420.3L1318.9,1421.9L1318.9,1423.4L1318.8,1425L1318.8,1426.6L1318.7,1428.2L1318.6,1429.8L1318.5,1431.4L1318.3,1433L1318.2,1434.5L1318,1436.2L1317.8,1437.8L1317.6,1439.4L1317.3,1441L1317.1,1442.6L1316.8,1444.2L1316.5,1445.8L1316.2,1447.5L1315.8,1449.1L1315.5,1450.7L1315.1,1452.4L1314.7,1454L1314.3,1455.6L1313.8,1457.3L1313.3,1458.9L1312.8,1460.6L1312.3,1462.2L1311.8,1463.8L1311.2,1465.5L1310.7,1467.1L1310,1468.8L1309.4,1470.4L1308.8,1472.1L1308.1,1473.7L1307.4,1475.4L1306.7,1477.1L1305.9,1478.7L1305.2,1480.4L1304.4,1482L1303.6,1483.7L1302.7,1485.3L1301.9,1487L1301,1488.6L1300.1,1490.2L1299.2,1491.9L1298.2,1493.5L1297.2,1495.2L1296.2,1496.8L1295.2,1498.4L1294.2,1500.1L1293.1,1501.7L1292,1503.3L1290.9,1504.9L1289.7,1506.6L1288.6,1508.2L1287.4,1509.8L1286.2,1511.4L1284.9,1513L1283.7,1514.6L1282.4,1516.2L1281.1,1517.7L1279.7,1519.3L1278.4,1520.9L1277,1522.4L1275.6,1524L1274.1,1525.6L1272.7,1527.1L1271.2,1528.6L1269.7,1530.2L1268.1,1531.7L1266.6,1533.2L1265,1534.7L1263.4,1536.2L1261.8,1537.7L1260.1,1539.1L1258.4,1540.6L1256.7,1542.1L1255,1543.5L1253.3,1544.9L1251.5,1546.4L1249.7,1547.8L1247.9,1549.2L1246.1,1550.6L1244.2,1552L1242.3,1553.3L1240.4,1554.7L1238.5,1556L1236.5,1557.3L1234.6,1558.6L1232.6,1559.9L1230.5,1561.2L1228.5,1562.5L1226.4,1563.8L1224.4,1565L1222.3,1566.2L1220.1,1567.4L1218,1568.6L1215.8,1569.8L1213.6,1571L1211.4,1572.1L1209.2,1573.2L1207,1574.4L1204.7,1575.4L1202.4,1576.5L1200.1,1577.6L1197.8,1578.6L1195.5,1579.6L1193.1,1580.6L1190.7,1581.6L1188.3,1582.6L1185.9,1583.5L1183.5,1584.5L1181.1,1585.4L1178.6,1586.2L1176.1,1587.1L1173.7,1588L1171.2,1588.8L1168.6,1589.6L1166.1,1590.4L1163.6,1591.1L1161,1591.8L1158.4,1592.6L1155.8,1593.3L1153.2,1593.9L1150.6,1594.6L1148,1595.2L1145.4,1595.8L1142.7,1596.4L1140.1,1596.9L1137.4,1597.5L1134.8,1598L1132.1,1598.4L1129.4,1598.9L1126.7,1599.3L1124,1599.7L1121.3,1600.1L1118.6,1600.5L1115.8,1600.8L1113.1,1601.1L1110.4,1601.4L1107.6,1601.7L1104.9,1601.9L1102.1,1602.2L1099.4,1602.3L1096.6,1602.5L1093.8,1602.6L1091.1,1602.8L1088.3,1602.8L1085.5,1602.9L1082.8,1602.9L1080,1603L1077.2,1602.9L1074.5,1602.9L1071.7,1602.8L1068.9,1602.8L1066.2,1602.6L1063.4,1602.5L1060.6,1602.3L1057.9,1602.2L1055.1,1601.9L1052.4,1601.7L1049.6,1601.4L1046.9,1601.1L1044.2,1600.8L1041.4,1600.5L1038.7,1600.1L1036,1599.7L1033.3,1599.3L1030.6,1598.9L1027.9,1598.4L1025.2,1598L1022.6,1597.5L1019.9,1596.9L1017.3,1596.4L1014.6,1595.8L1012,1595.2L1009.4,1594.6L1006.8,1593.9L1004.2,1593.3L1001.6,1592.6L999,1591.8L996.4,1591.1L993.9,1590.4L991.4,1589.6L988.8,1588.8L986.3,1588L983.9,1587.1L981.4,1586.2L978.9,1585.4L976.5,1584.5L974.1,1583.5L971.7,1582.6L969.3,1581.6L966.9,1580.6L964.5,1579.6L962.2,1578.6L959.9,1577.6L957.6,1576.5L955.3,1575.4L953,1574.4L950.8,1573.2L948.6,1572.1L946.4,1571L944.2,1569.8L942,1568.6L939.9,1567.4L937.7,1566.2L935.6,1565L933.6,1563.8L931.5,1562.5L929.5,1561.2L927.4,1559.9L925.4,1558.6L923.5,1557.3L921.5,1556L919.6,1554.7L917.7,1553.3L915.8,1552L913.9,1550.6L912.1,1549.2L910.3,1547.8L908.5,1546.4L906.7,1544.9L905,1543.5L903.3,1542.1L901.6,1540.6L899.9,1539.1L898.2,1537.7L896.6,1536.2L895,1534.7L893.4,1533.2L891.9,1531.7L890.3,1530.2L888.8,1528.6L887.3,1527.1L885.9,1525.6L884.4,1524L883,1522.4L881.6,1520.9L880.3,1519.3L878.9,1517.7L877.6,1516.2L876.3,1514.6L875.1,1513L873.8,1511.4L872.6,1509.8L871.4,1508.2L870.3,1506.6L869.1,1504.9L868,1503.3L866.9,1501.7L865.8,1500.1L864.8,1498.4L863.8,1496.8L862.8,1495.2L861.8,1493.5L860.8,1491.9L859.9,1490.2L859,1488.6L858.1,1487L857.3,1485.3L856.4,1483.7L855.6,1482L854.8,1480.4L854.1,1478.7L853.3,1477.1L852.6,1475.4L851.9,1473.7L851.2,1472.1L850.6,1470.4L850,1468.8L849.3,1467.1L848.8,1465.5L848.2,1463.8L847.7,1462.2L847.2,1460.6L846.7,1458.9L846.2,1457.3L845.7,1455.6L845.3,1454L844.9,1452.4L844.5,1450.7L844.2,1449.1L843.8,1447.5L843.5,1445.8L843.2,1444.2L842.9,1442.6L842.7,1441L842.4,1439.4L842.2,1437.8L842,1436.2L841.8,1434.5L841.7,1433L841.5,1431.4L841.4,1429.8L841.3,1428.2L841.2,1426.6L841.2,1425L841.1,1423.4L841.1,1421.9L841.1,1420.3L841.1,1418.8L841.2,1417.2L841.2,1415.7L841.3,1414.1L841.4,1412.6L841.5,1411L841.6,1409.5L841.8,1408L841.9,1406.5L842.1,1405L842.3,1403.5L842.5,1402L842.8,1400.5L843,1399L843.3,1397.5L843.6,1396L843.9,1394.6L844.2,1393.1L844.5,1391.6L844.9,1390.2L845.2,1388.8L845.6,1387.3L846,1385.9L846.4,1384.5L846.9,1383.1L847.3,1381.6L847.8,1380.2L848.2,1378.8L848.7,1377.5L849.2,1376.1L849.8,1374.7L850.3,1373.3L850.8,1372L851.4,1370.6L852,1369.3L852.6,1367.9L853.2,1366.6L853.8,1365.3L854.4,1363.9L855.1,1362.6L855.7,1361.3L856.4,1360L857.1,1358.8L857.8,1357.5L858.5,1356.2L859.2,1354.9L860,1353.7L860.7,1352.4L861.5,1351.2L862.3,1349.9L863.1,1348.7L863.9,1347.5L864.7,1346.3L865.5,1345.1L866.3,1343.9L867.2,1342.7L868,1341.5L868.9,1340.3L869.8,1339.2L870.7,1338L871.6,1336.9L872.5,1335.7L873.4,1334.6L874.4,1333.5L875.3,1332.3L876.3,1331.2L877.3,1330.1L878.2,1329L879.2,1327.9L880.2,1326.9L881.2,1325.8L882.3,1324.7L883.3,1323.7L884.3,1322.6L885.4,1321.6L886.4,1320.5L887.5,1319.5L888.6,1318.5L889.7,1317.5L890.8,1316.5L891.9,1315.5L893,1314.5L894.1,1313.5L895.2,1312.6L896.4,1311.6L897.5,1310.7L898.7,1309.7L899.8,1308.8L901,1307.8L902.2,1306.9L903.4,1306L904.6,1305.1L905.8,1304.2L907,1303.3L908.2,1302.4L909.4,1301.6L910.7,1300.7L911.9,1299.8L913.2,1299L914.4,1298.2L915.7,1297.3L917,1296.5L918.2,1295.7L919.5,1294.9L920.8,1294.1L922.1,1293.3L923.4,1292.5L924.7,1291.7L926.1,1290.9L927.4,1290.2L928.7,1289.4L930,1288.7L931.4,1287.9L932.7,1287.2L934.1,1286.5L935.5,1285.8L936.8,1285.1L938.2,1284.4L939.6,1283.7L941,1283L942.4,1282.3L943.7,1281.6L945.1,1281L946.6,1280.3L948,1279.7L949.4,1279L950.8,1278.4L952.2,1277.8L953.7,1277.2L955.1,1276.6L956.5,1276L958,1275.4L959.4,1274.8L960.9,1274.2L962.3,1273.7L963.8,1273.1L965.3,1272.5L966.7,1272L968.2,1271.5L969.7,1270.9L971.2,1270.4L972.7,1269.9L974.2,1269.4L975.7,1268.9L977.2,1268.4L978.7,1267.9L980.2,1267.5L981.7,1267L983.2,1266.5L984.7,1266.1L986.3,1265.6L987.8,1265.2L989.3,1264.8L990.8,1264.3L992.4,1263.9L993.9,1263.5L995.5,1263.1L997,1262.7L998.5,1262.4L1000.1,1262L1001.6,1261.6L1003.2,1261.2L1004.8,1260.9L1006.3,1260.5L1007.9,1260.2L1009.5,1259.9L1011,1259.6L1012.6,1259.2L1014.2,1258.9L1015.7,1258.6L1017.3,1258.3L1018.9,1258L1020.5,1257.8L1022.1,1257.5L1023.7,1257.2L1025.2,1257L1026.8,1256.7L1028.4,1256.5L1030,1256.3L1031.6,1256L1033.2,1255.8L1034.8,1255.6L1036.4,1255.4L1038,1255.2L1039.6,1255L1041.2,1254.8L1042.8,1254.7L1044.4,1254.5L1046,1254.3L1047.7,1254.2L1049.3,1254L1050.9,1253.9L1052.5,1253.8L1054.1,1253.6L1055.7,1253.5L1057.3,1253.4L1058.9,1253.3L1060.6,1253.2L1062.2,1253.1L1063.8,1253.1L1065.4,1253L1067,1252.9L1068.7,1252.9L1070.3,1252.8L1071.9,1252.8L1073.5,1252.8L1075.1,1252.7L1076.8,1252.7L1078.4,1252.7L1080,1252.7M1080,1077.6L1082.6,1077.6L1085.1,1077.6L1087.7,1077.6L1090.2,1077.6L1092.8,1077.7L1095.3,1077.7L1097.9,1077.8L1100.5,1077.8L1103,1077.9L1105.6,1077.9L1108.1,1078L1110.7,1078.1L1113.2,1078.2L1115.8,1078.3L1118.3,1078.4L1120.9,1078.5L1123.4,1078.7L1126,1078.8L1128.5,1079L1131.1,1079.1L1133.6,1079.3L1136.2,1079.4L1138.7,1079.6L1141.3,1079.8L1143.8,1080L1146.4,1080.2L1148.9,1080.4L1151.5,1080.6L1154,1080.8L1156.6,1081L1159.1,1081.3L1161.7,1081.5L1164.2,1081.8L1166.7,1082L1169.3,1082.3L1171.8,1082.6L1174.4,1082.8L1176.9,1083.1L1179.4,1083.4L1182,1083.7L1184.5,1084.1L1187,1084.4L1189.6,1084.7L1192.1,1085.1L1194.6,1085.4L1197.1,1085.8L1199.7,1086.1L1202.2,1086.5L1204.7,1086.9L1207.2,1087.3L1209.7,1087.7L1212.3,1088.1L1214.8,1088.5L1217.3,1088.9L1219.8,1089.3L1222.3,1089.8L1224.8,1090.2L1227.3,1090.7L1229.8,1091.1L1232.3,1091.6L1234.8,1092.1L1237.3,1092.6L1239.8,1093.1L1242.3,1093.6L1244.8,1094.1L1247.3,1094.6L1249.8,1095.2L1252.3,1095.7L1254.8,1096.3L1257.2,1096.8L1259.7,1097.4L1262.2,1098L1264.7,1098.5L1267.1,1099.1L1269.6,1099.7L1272.1,1100.4L1274.5,1101L1277,1101.6L1279.5,1102.2L1281.9,1102.9L1284.4,1103.6L1286.8,1104.2L1289.3,1104.9L1291.7,1105.6L1294.1,1106.3L1296.6,1107L1299,1107.7L1301.4,1108.4L1303.9,1109.2L1306.3,1109.9L1308.7,1110.7L1311.1,1111.4L1313.5,1112.2L1316,1113L1318.4,1113.8L1320.8,1114.6L1323.2,1115.4L1325.6,1116.2L1328,1117L1330.3,1117.9L1332.7,1118.7L1335.1,1119.6L1337.5,1120.5L1339.9,1121.4L1342.2,1122.3L1344.6,1123.2L1346.9,1124.1L1349.3,1125L1351.7,1125.9L1354,1126.9L1356.3,1127.8L1358.7,1128.8L1361,1129.8L1363.3,1130.8L1365.7,1131.8L1368,1132.8L1370.3,1133.8L1372.6,1134.9L1374.9,1135.9L1377.2,1137L1379.5,1138L1381.8,1139.1L1384,1140.2L1386.3,1141.3L1388.6,1142.4L1390.8,1143.6L1393.1,1144.7L1395.3,1145.9L1397.6,1147L1399.8,1148.2L1402.1,1149.4L1404.3,1150.6L1406.5,1151.8L1408.7,1153L1410.9,1154.3L1413.1,1155.5L1415.3,1156.8L1417.5,1158.1L1419.7,1159.4L1421.8,1160.7L1424,1162L1426.1,1163.3L1428.3,1164.7L1430.4,1166L1432.6,1167.4L1434.7,1168.8L1436.8,1170.2L1438.9,1171.6L1441,1173L1443.1,1174.4L1445.2,1175.9L1447.2,1177.4L1449.3,1178.9L1451.4,1180.4L1453.4,1181.9L1455.4,1183.4L1457.5,1184.9L1459.5,1186.5L1461.5,1188.1L1463.5,1189.6L1465.5,1191.3L1467.4,1192.9L1469.4,1194.5L1471.3,1196.2L1473.3,1197.8L1475.2,1199.5L1477.1,1201.2L1479,1202.9L1480.9,1204.6L1482.8,1206.4L1484.7,1208.1L1486.5,1209.9L1488.4,1211.7L1490.2,1213.5L1492,1215.4L1493.9,1217.2L1495.7,1219.1L1497.4,1220.9L1499.2,1222.8L1501,1224.8L1502.7,1226.7L1504.4,1228.6L1506.1,1230.6L1507.8,1232.6L1509.5,1234.6L1511.2,1236.6L1512.8,1238.7L1514.4,1240.7L1516.1,1242.8L1517.7,1244.9L1519.2,1247L1520.8,1249.2L1522.4,1251.3L1523.9,1253.5L1525.4,1255.7L1526.9,1257.9L1528.4,1260.2L1529.8,1262.4L1531.3,1264.7L1532.7,1267L1534.1,1269.3L1535.4,1271.7L1536.8,1274L1538.1,1276.4L1539.4,1278.8L1540.7,1281.2L1542,1283.7L1543.2,1286.1L1544.5,1288.6L1545.7,1291.1L1546.8,1293.7L1548,1296.2L1549.1,1298.8L1550.2,1301.4L1551.3,1304L1552.3,1306.7L1553.4,1309.4L1554.4,1312.1L1555.3,1314.8L1556.3,1317.5L1557.2,1320.3L1558.1,1323.1L1558.9,1325.9L1559.7,1328.7L1560.5,1331.6L1561.3,1334.5L1562,1337.4L1562.7,1340.3L1563.4,1343.3L1564,1346.3L1564.6,1349.3L1565.2,1352.3L1565.7,1355.4L1566.2,1358.4L1566.7,1361.5L1567.1,1364.7L1567.5,1367.8L1567.8,1371L1568.1,1374.2L1568.4,1377.5L1568.6,1380.7L1568.8,1384L1568.9,1387.3L1569,1390.7L1569.1,1394L1569.1,1397.4L1569,1400.8L1568.9,1404.3L1568.8,1407.7L1568.6,1411.2L1568.4,1414.7L1568.1,1418.3L1567.8,1421.8L1567.4,1425.4L1567,1429.1L1566.5,1432.7L1566,1436.4L1565.4,1440.1L1564.8,1443.8L1564.1,1447.5L1563.3,1451.3L1562.5,1455.1L1561.6,1458.9L1560.7,1462.7L1559.7,1466.6L1558.6,1470.5L1557.5,1474.4L1556.3,1478.3L1555.1,1482.3L1553.7,1486.2L1552.4,1490.2L1550.9,1494.2L1549.4,1498.3L1547.8,1502.3L1546.1,1506.4L1544.4,1510.5L1542.6,1514.6L1540.7,1518.7L1538.7,1522.9L1536.7,1527L1534.5,1531.2L1532.3,1535.4L1530,1539.6L1527.7,1543.8L1525.2,1548.1L1522.7,1552.3L1520.1,1556.5L1517.4,1560.8L1514.6,1565.1L1511.7,1569.3L1508.8,1573.6L1505.7,1577.9L1502.6,1582.2L1499.3,1586.5L1496,1590.8L1492.6,1595.1L1489.1,1599.4L1485.4,1603.6L1481.7,1607.9L1477.9,1612.2L1474,1616.5L1470,1620.7L1465.9,1625L1461.7,1629.2L1457.4,1633.4L1453,1637.6L1448.5,1641.8L1443.9,1646L1439.1,1650.1L1434.3,1654.2L1429.4,1658.3L1424.4,1662.4M735.6,1662.4L730.6,1658.3L725.7,1654.2L720.9,1650.1L716.1,1646L711.5,1641.8L707,1637.6L702.6,1633.4L698.3,1629.2L694.1,1625L690,1620.7L686,1616.5L682.1,1612.2L678.3,1607.9L674.6,1603.6L670.9,1599.4L667.4,1595.1L664,1590.8L660.7,1586.5L657.4,1582.2L654.3,1577.9L651.2,1573.6L648.3,1569.3L645.4,1565.1L642.6,1560.8L639.9,1556.5L637.3,1552.3L634.8,1548.1L632.3,1543.8L630,1539.6L627.7,1535.4L625.5,1531.2L623.3,1527L621.3,1522.9L619.3,1518.7L617.4,1514.6L615.6,1510.5L613.9,1506.4L612.2,1502.3L610.6,1498.3L609.1,1494.2L607.6,1490.2L606.3,1486.2L604.9,1482.3L603.7,1478.3L602.5,1474.4L601.4,1470.5L600.3,1466.6L599.3,1462.7L598.4,1458.9L597.5,1455.1L596.7,1451.3L595.9,1447.5L595.2,1443.8L594.6,1440.1L594,1436.4L593.5,1432.7L593,1429.1L592.6,1425.4L592.2,1421.8L591.9,1418.3L591.6,1414.7L591.4,1411.2L591.2,1407.7L591.1,1404.3L591,1400.8L590.9,1397.4L590.9,1394L591,1390.7L591.1,1387.3L591.2,1384L591.4,1380.7L591.6,1377.5L591.9,1374.2L592.2,1371L592.5,1367.8L592.9,1364.7L593.3,1361.5L593.8,1358.4L594.3,1355.4L594.8,1352.3L595.4,1349.3L596,1346.3L596.6,1343.3L597.3,1340.3L598,1337.4L598.7,1334.5L599.5,1331.6L600.3,1328.7L601.1,1325.9L601.9,1323.1L602.8,1320.3L603.7,1317.5L604.7,1314.8L605.6,1312.1L606.6,1309.4L607.7,1306.7L608.7,1304L609.8,1301.4L610.9,1298.8L612,1296.2L613.2,1293.7L614.3,1291.1L615.5,1288.6L616.8,1286.1L618,1283.7L619.3,1281.2L620.6,1278.8L621.9,1276.4L623.2,1274L624.6,1271.7L625.9,1269.3L627.3,1267L628.7,1264.7L630.2,1262.4L631.6,1260.2L633.1,1257.9L634.6,1255.7L636.1,1253.5L637.6,1251.3L639.2,1249.2L640.8,1247L642.3,1244.9L643.9,1242.8L645.6,1240.7L647.2,1238.7L648.8,1236.6L650.5,1234.6L652.2,1232.6L653.9,1230.6L655.6,1228.6L657.3,1226.7L659,1224.8L660.8,1222.8L662.6,1220.9L664.3,1219.1L666.1,1217.2L668,1215.4L669.8,1213.5L671.6,1211.7L673.5,1209.9L675.3,1208.1L677.2,1206.4L679.1,1204.6L681,1202.9L682.9,1201.2L684.8,1199.5L686.7,1197.8L688.7,1196.2L690.6,1194.5L692.6,1192.9L694.5,1191.3L696.5,1189.6L698.5,1188.1L700.5,1186.5L702.5,1184.9L704.6,1183.4L706.6,1181.9L708.6,1180.4L710.7,1178.9L712.8,1177.4L714.8,1175.9L716.9,1174.4L719,1173L721.1,1171.6L723.2,1170.2L725.3,1168.8L727.4,1167.4L729.6,1166L731.7,1164.7L733.9,1163.3L736,1162L738.2,1160.7L740.3,1159.4L742.5,1158.1L744.7,1156.8L746.9,1155.5L749.1,1154.3L751.3,1153L753.5,1151.8L755.7,1150.6L757.9,1149.4L760.2,1148.2L762.4,1147L764.7,1145.9L766.9,1144.7L769.2,1143.6L771.4,1142.4L773.7,1141.3L776,1140.2L778.2,1139.1L780.5,1138L782.8,1137L785.1,1135.9L787.4,1134.9L789.7,1133.8L792,1132.8L794.3,1131.8L796.7,1130.8L799,1129.8L801.3,1128.8L803.7,1127.8L806,1126.9L808.3,1125.9L810.7,1125L813.1,1124.1L815.4,1123.2L817.8,1122.3L820.1,1121.4L822.5,1120.5L824.9,1119.6L827.3,1118.7L829.7,1117.9L832,1117L834.4,1116.2L836.8,1115.4L839.2,1114.6L841.6,1113.8L844,1113L846.5,1112.2L848.9,1111.4L851.3,1110.7L853.7,1109.9L856.1,1109.2L858.6,1108.4L861,1107.7L863.4,1107L865.9,1106.3L868.3,1105.6L870.7,1104.9L873.2,1104.2L875.6,1103.6L878.1,1102.9L880.5,1102.2L883,1101.6L885.5,1101L887.9,1100.4L890.4,1099.7L892.9,1099.1L895.3,1098.5L897.8,1098L900.3,1097.4L902.8,1096.8L905.2,1096.3L907.7,1095.7L910.2,1095.2L912.7,1094.6L915.2,1094.1L917.7,1093.6L920.2,1093.1L922.7,1092.6L925.2,1092.1L927.7,1091.6L930.2,1091.1L932.7,1090.7L935.2,1090.2L937.7,1089.8L940.2,1089.3L942.7,1088.9L945.2,1088.5L947.7,1088.1L950.3,1087.7L952.8,1087.3L955.3,1086.9L957.8,1086.5L960.3,1086.1L962.9,1085.8L965.4,1085.4L967.9,1085.1L970.4,1084.7L973,1084.4L975.5,1084.1L978,1083.7L980.6,1083.4L983.1,1083.1L985.6,1082.8L988.2,1082.6L990.7,1082.3L993.3,1082L995.8,1081.8L998.3,1081.5L1000.9,1081.3L1003.4,1081L1006,1080.8L1008.5,1080.6L1011.1,1080.4L1013.6,1080.2L1016.2,1080L1018.7,1079.8L1021.3,1079.6L1023.8,1079.4L1026.4,1079.3L1028.9,1079.1L1031.5,1079L1034,1078.8L1036.6,1078.7L1039.1,1078.5L1041.7,1078.4L1044.2,1078.3L1046.8,1078.2L1049.3,1078.1L1051.9,1078L1054.4,1077.9L1057,1077.9L1059.5,1077.8L1062.1,1077.8L1064.7,1077.7L1067.2,1077.7L1069.8,1077.6L1072.3,1077.6L1074.9,1077.6L1077.4,1077.6L1080,1077.6M1080,902.4L1083,902.4L1085.9,902.4L1088.9,902.5L1091.8,902.5L1094.8,902.5L1097.7,902.5L1100.7,902.5L1103.6,902.6L1106.6,902.6L1109.5,902.7L1112.5,902.7L1115.4,902.8L1118.4,902.8L1121.3,902.9L1124.3,902.9L1127.2,903L1130.2,903.1L1133.1,903.2L1136.1,903.2L1139,903.3L1142,903.4L1144.9,903.5L1147.9,903.6L1150.8,903.7L1153.8,903.8L1156.8,904L1159.7,904.1L1162.7,904.2L1165.6,904.3L1168.6,904.5L1171.5,904.6L1174.5,904.7L1177.4,904.9L1180.4,905L1183.3,905.2L1186.3,905.4L1189.2,905.5L1192.2,905.7L1195.1,905.9L1198.1,906.1L1201,906.2L1204,906.4L1206.9,906.6L1209.8,906.8L1212.8,907L1215.7,907.2L1218.7,907.4L1221.6,907.7L1224.6,907.9L1227.5,908.1L1230.5,908.3L1233.4,908.6L1236.4,908.8L1239.3,909.1L1242.3,909.3L1245.2,909.6L1248.2,909.8L1251.1,910.1L1254,910.4L1257,910.7L1259.9,910.9L1262.9,911.2L1265.8,911.5L1268.8,911.8L1271.7,912.1L1274.7,912.4L1277.6,912.7L1280.5,913.1L1283.5,913.4L1286.4,913.7L1289.4,914L1292.3,914.4L1295.2,914.7L1298.2,915.1L1301.1,915.4L1304.1,915.8L1307,916.1L1309.9,916.5L1312.9,916.9L1315.8,917.3L1318.8,917.6L1321.7,918L1324.6,918.4L1327.6,918.8L1330.5,919.2L1333.4,919.7L1336.4,920.1L1339.3,920.5L1342.2,920.9L1345.2,921.4L1348.1,921.8L1351,922.3L1354,922.7L1356.9,923.2L1359.8,923.6L1362.8,924.1L1365.7,924.6L1368.6,925.1L1371.5,925.6L1374.5,926L1377.4,926.5L1380.3,927.1L1383.3,927.6L1386.2,928.1L1389.1,928.6L1392,929.1L1394.9,929.7L1397.9,930.2L1400.8,930.8L1403.7,931.3L1406.6,931.9L1409.6,932.5L1412.5,933L1415.4,933.6L1418.3,934.2L1421.2,934.8L1424.1,935.4L1427.1,936L1430,936.6L1432.9,937.3L1435.8,937.9L1438.7,938.5L1441.6,939.2L1444.5,939.8L1447.4,940.5L1450.4,941.2L1453.3,941.8L1456.2,942.5L1459.1,943.2L1462,943.9L1464.9,944.6L1467.8,945.3L1470.7,946L1473.6,946.8L1476.5,947.5L1479.4,948.2L1482.3,949L1485.2,949.7L1488.1,950.5L1491,951.3L1493.9,952.1L1496.7,952.9L1499.6,953.7L1502.5,954.5L1505.4,955.3L1508.3,956.1L1511.2,956.9L1514.1,957.8L1516.9,958.6L1519.8,959.5L1522.7,960.4L1525.6,961.2L1528.5,962.1L1531.3,963L1534.2,963.9L1537.1,964.9L1539.9,965.8L1542.8,966.7L1545.7,967.7L1548.5,968.6L1551.4,969.6L1554.3,970.6L1557.1,971.5L1560,972.5L1562.8,973.5L1565.7,974.6L1568.5,975.6L1571.4,976.6L1574.2,977.7L1577.1,978.7L1579.9,979.8L1582.8,980.9L1585.6,982L1588.4,983.1L1591.3,984.2L1594.1,985.4L1596.9,986.5L1599.7,987.7L1602.6,988.8L1605.4,990L1608.2,991.2L1611,992.4L1613.8,993.6L1616.6,994.9L1619.5,996.1L1622.3,997.4L1625.1,998.6L1627.9,999.9L1630.7,1001.2L1633.4,1002.5L1636.2,1003.9L1639,1005.2L1641.8,1006.6L1644.6,1007.9L1647.3,1009.3L1650.1,1010.7L1652.9,1012.2L1655.6,1013.6L1658.4,1015.1L1661.2,1016.5L1663.9,1018L1666.7,1019.5L1669.4,1021L1672.1,1022.6L1674.9,1024.1L1677.6,1025.7L1680.3,1027.3L1683,1028.9L1685.7,1030.5L1688.4,1032.2L1691.1,1033.9L1693.8,1035.6L1696.5,1037.3L1699.2,1039L1701.9,1040.8L1704.6,1042.5L1707.2,1044.3L1709.9,1046.1L1712.5,1048L1715.2,1049.8L1717.8,1051.7L1720.5,1053.6L1723.1,1055.6L1725.7,1057.5L1728.3,1059.5L1730.9,1061.5L1733.5,1063.5L1736.1,1065.6L1738.7,1067.7L1741.2,1069.8L1743.8,1071.9L1746.3,1074.1L1748.9,1076.3L1751.4,1078.5M1756.7,1621.5L1747.2,1634.5L1737.1,1647.6L1726.4,1661M433.6,1661L422.9,1647.6L412.8,1634.5L403.3,1621.5M408.6,1078.5L411.1,1076.3L413.7,1074.1L416.2,1071.9L418.8,1069.8L421.3,1067.7L423.9,1065.6L426.5,1063.5L429.1,1061.5L431.7,1059.5L434.3,1057.5L436.9,1055.6L439.5,1053.6L442.2,1051.7L444.8,1049.8L447.5,1048L450.1,1046.1L452.8,1044.3L455.4,1042.5L458.1,1040.8L460.8,1039L463.5,1037.3L466.2,1035.6L468.9,1033.9L471.6,1032.2L474.3,1030.5L477,1028.9L479.7,1027.3L482.4,1025.7L485.1,1024.1L487.9,1022.6L490.6,1021L493.3,1019.5L496.1,1018L498.8,1016.5L501.6,1015.1L504.4,1013.6L507.1,1012.2L509.9,1010.7L512.7,1009.3L515.4,1007.9L518.2,1006.6L521,1005.2L523.8,1003.9L526.6,1002.5L529.3,1001.2L532.1,999.9L534.9,998.6L537.7,997.4L540.5,996.1L543.4,994.9L546.2,993.6L549,992.4L551.8,991.2L554.6,990L557.4,988.8L560.3,987.7L563.1,986.5L565.9,985.4L568.7,984.2L571.6,983.1L574.4,982L577.2,980.9L580.1,979.8L582.9,978.7L585.8,977.7L588.6,976.6L591.5,975.6L594.3,974.6L597.2,973.5L600,972.5L602.9,971.5L605.7,970.6L608.6,969.6L611.5,968.6L614.3,967.7L617.2,966.7L620.1,965.8L622.9,964.9L625.8,963.9L628.7,963L631.5,962.1L634.4,961.2L637.3,960.4L640.2,959.5L643.1,958.6L645.9,957.8L648.8,956.9L651.7,956.1L654.6,955.3L657.5,954.5L660.4,953.7L663.3,952.9L666.1,952.1L669,951.3L671.9,950.5L674.8,949.7L677.7,949L680.6,948.2L683.5,947.5L686.4,946.8L689.3,946L692.2,945.3L695.1,944.6L698,943.9L700.9,943.2L703.8,942.5L706.7,941.8L709.6,941.2L712.6,940.5L715.5,939.8L718.4,939.2L721.3,938.5L724.2,937.9L727.1,937.3L730,936.6L732.9,936L735.9,935.4L738.8,934.8L741.7,934.2L744.6,933.6L747.5,933L750.4,932.5L753.4,931.9L756.3,931.3L759.2,930.8L762.1,930.2L765.1,929.7L768,929.1L770.9,928.6L773.8,928.1L776.7,927.6L779.7,927.1L782.6,926.5L785.5,926L788.5,925.6L791.4,925.1L794.3,924.6L797.2,924.1L800.2,923.6L803.1,923.2L806,922.7L809,922.3L811.9,921.8L814.8,921.4L817.8,920.9L820.7,920.5L823.6,920.1L826.6,919.7L829.5,919.2L832.4,918.8L835.4,918.4L838.3,918L841.2,917.6L844.2,917.3L847.1,916.9L850.1,916.5L853,916.1L855.9,915.8L858.9,915.4L861.8,915.1L864.8,914.7L867.7,914.4L870.6,914L873.6,913.7L876.5,913.4L879.5,913.1L882.4,912.7L885.3,912.4L888.3,912.1L891.2,911.8L894.2,911.5L897.1,911.2L900.1,910.9L903,910.7L906,910.4L908.9,910.1L911.8,909.8L914.8,909.6L917.7,909.3L920.7,909.1L923.6,908.8L926.6,908.6L929.5,908.3L932.5,908.1L935.4,907.9L938.4,907.7L941.3,907.4L944.3,907.2L947.2,907L950.2,906.8L953.1,906.6L956,906.4L959,906.2L961.9,906.1L964.9,905.9L967.8,905.7L970.8,905.5L973.7,905.4L976.7,905.2L979.6,905L982.6,904.9L985.5,904.7L988.5,904.6L991.4,904.5L994.4,904.3L997.3,904.2L1000.3,904.1L1003.2,904L1006.2,903.8L1009.2,903.7L1012.1,903.6L1015.1,903.5L1018,903.4L1021,903.3L1023.9,903.2L1026.9,903.2L1029.8,903.1L1032.8,903L1035.7,902.9L1038.7,902.9L1041.6,902.8L1044.6,902.8L1047.5,902.7L1050.5,902.7L1053.4,902.6L1056.4,902.6L1059.3,902.5L1062.3,902.5L1065.2,902.5L1068.2,902.5L1071.1,902.5L1074.1,902.4L1077,902.4L1080,902.4M1080,727.3L1082.8,727.3L1085.6,727.3L1088.4,727.3L1091.2,727.3L1094,727.3L1096.8,727.3L1099.7,727.3L1102.5,727.3L1105.3,727.3L1108.1,727.3L1110.9,727.3L1113.7,727.3L1116.5,727.3L1119.3,727.3L1122.1,727.3L1124.9,727.3L1127.7,727.3L1130.5,727.3L1133.3,727.3L1136.1,727.3L1139,727.3L1141.8,727.3L1144.6,727.3L1147.4,727.3L1150.2,727.3L1153,727.3L1155.8,727.3L1158.6,727.2L1161.4,727.2L1164.2,727.2L1167,727.2L1169.8,727.2L1172.6,727.2L1175.4,727.2L1178.2,727.2L1181,727.2L1183.8,727.2L1186.6,727.2L1189.4,727.2L1192.2,727.2L1195,727.2L1197.8,727.2L1200.6,727.2L1203.4,727.1L1206.2,727.1L1209,727.1L1211.8,727.1L1214.6,727.1L1217.4,727.1L1220.2,727.1L1223,727.1L1225.8,727.1L1228.6,727.1L1231.4,727L1234.2,727L1237,727L1239.8,727L1242.6,727L1245.4,727L1248.2,727L1251,726.9L1253.8,726.9L1256.6,726.9L1259.4,726.9L1262.2,726.9L1265,726.9L1267.8,726.8L1270.6,726.8L1273.4,726.8L1276.2,726.8L1278.9,726.8L1281.7,726.7L1284.5,726.7L1287.3,726.7L1290.1,726.7L1292.9,726.6L1295.7,726.6L1298.5,726.6L1301.2,726.6L1304,726.5L1306.8,726.5L1309.6,726.5L1312.4,726.4L1315.2,726.4L1317.9,726.4L1320.7,726.3L1323.5,726.3L1326.3,726.3L1329.1,726.2L1331.8,726.2L1334.6,726.1L1337.4,726.1L1340.2,726.1L1343,726L1345.7,726L1348.5,725.9L1351.3,725.9L1354.1,725.8L1356.8,725.8L1359.6,725.7L1362.4,725.7L1365.1,725.6L1367.9,725.6L1370.7,725.5L1373.4,725.5L1376.2,725.4L1379,725.3L1381.7,725.3L1384.5,725.2L1387.3,725.1L1390,725.1L1392.8,725L1395.5,724.9L1398.3,724.9L1401,724.8L1403.8,724.7L1406.6,724.6L1409.3,724.5L1412.1,724.5L1414.8,724.4L1417.6,724.3L1420.3,724.2L1423.1,724.1L1425.8,724L1428.5,723.9L1431.3,723.8L1434,723.7L1436.8,723.6L1439.5,723.5L1442.2,723.4L1445,723.3L1447.7,723.2L1450.5,723L1453.2,722.9L1455.9,722.8L1458.6,722.7L1461.4,722.5L1464.1,722.4L1466.8,722.3L1469.5,722.1L1472.3,722L1475,721.8L1477.7,721.7L1480.4,721.5L1483.1,721.4L1485.9,721.2L1488.6,721L1491.3,720.9L1494,720.7L1496.7,720.5L1499.4,720.4L1502.1,720.2L1504.8,720L1507.5,719.8L1510.2,719.6L1512.9,719.4L1515.6,719.2L1518.3,719L1520.9,718.8L1523.6,718.5L1526.3,718.3L1529,718.1L1531.7,717.8L1534.3,717.6L1537,717.4L1539.7,717.1L1542.4,716.9L1545,716.6L1547.7,716.3L1550.3,716.1L1553,715.8L1555.6,715.5L1558.3,715.2L1560.9,714.9L1563.6,714.6L1566.2,714.3L1568.9,714L1571.5,713.6L1574.1,713.3L1576.8,713L1579.4,712.6L1582,712.3L1584.6,711.9L1587.3,711.5L1589.9,711.1L1592.5,710.8L1595.1,710.4L1597.7,710L1600.3,709.6L1602.9,709.1L1605.5,708.7L1608,708.3L1610.6,707.8L1613.2,707.4L1615.8,706.9L1618.3,706.4L1620.9,705.9L1623.5,705.4L1626,704.9L1628.6,704.4L1631.1,703.9L1633.6,703.3L1636.2,702.8L1638.7,702.2L1641.2,701.6L1643.7,701L1646.3,700.4L1648.8,699.8L1651.3,699.2L1653.7,698.5L1656.2,697.9L1658.7,697.2L1661.2,696.5L1663.7,695.8L1666.1,695.1L1668.6,694.4L1671,693.6L1673.4,692.9L1675.9,692.1L1678.3,691.3L1680.7,690.5L1683.1,689.6L1685.5,688.8L1687.9,687.9L1690.3,687L1692.6,686.1L1695,685.2L1697.4,684.3L1699.7,683.3L1702,682.3L1704.4,681.3L1706.7,680.3L1709,679.2L1711.3,678.1L1713.5,677L1715.8,675.9L1718,674.8L1720.3,673.6L1722.5,672.4L1724.7,671.2L1726.9,669.9L1729.1,668.6L1731.3,667.3L1733.4,666L1735.6,664.6L1737.7,663.2L1739.8,661.8L1741.9,660.3L1744,658.8L1746,657.3L1748,655.7L1750.1,654.1M1751.6,372.5L1746.3,363.8L1740.7,354.9L1734.6,345.8L1728.2,336.5L1721.3,327.1L1714,317.4M446,317.4L438.7,327.1L431.8,336.5L425.4,345.8L419.3,354.9L413.7,363.8L408.4,372.5M409.9,654.1L412,655.7L414,657.3L416,658.8L418.1,660.3L420.2,661.8L422.3,663.2L424.4,664.6L426.6,666L428.7,667.3L430.9,668.6L433.1,669.9L435.3,671.2L437.5,672.4L439.7,673.6L442,674.8L444.2,675.9L446.5,677L448.7,678.1L451,679.2L453.3,680.3L455.6,681.3L458,682.3L460.3,683.3L462.6,684.3L465,685.2L467.4,686.1L469.7,687L472.1,687.9L474.5,688.8L476.9,689.6L479.3,690.5L481.7,691.3L484.1,692.1L486.6,692.9L489,693.6L491.4,694.4L493.9,695.1L496.3,695.8L498.8,696.5L501.3,697.2L503.8,697.9L506.3,698.5L508.7,699.2L511.2,699.8L513.7,700.4L516.3,701L518.8,701.6L521.3,702.2L523.8,702.8L526.4,703.3L528.9,703.9L531.4,704.4L534,704.9L536.5,705.4L539.1,705.9L541.7,706.4L544.2,706.9L546.8,707.4L549.4,707.8L552,708.3L554.5,708.7L557.1,709.1L559.7,709.6L562.3,710L564.9,710.4L567.5,710.8L570.1,711.1L572.7,711.5L575.4,711.9L578,712.3L580.6,712.6L583.2,713L585.9,713.3L588.5,713.6L591.1,714L593.8,714.3L596.4,714.6L599.1,714.9L601.7,715.2L604.4,715.5L607,715.8L609.7,716.1L612.3,716.3L615,716.6L617.6,716.9L620.3,717.1L623,717.4L625.7,717.6L628.3,717.8L631,718.1L633.7,718.3L636.4,718.5L639.1,718.8L641.7,719L644.4,719.2L647.1,719.4L649.8,719.6L652.5,719.8L655.2,720L657.9,720.2L660.6,720.4L663.3,720.5L666,720.7L668.7,720.9L671.4,721L674.1,721.2L676.9,721.4L679.6,721.5L682.3,721.7L685,721.8L687.7,722L690.5,722.1L693.2,722.3L695.9,722.4L698.6,722.5L701.4,722.7L704.1,722.8L706.8,722.9L709.5,723L712.3,723.2L715,723.3L717.8,723.4L720.5,723.5L723.2,723.6L726,723.7L728.7,723.8L731.5,723.9L734.2,724L736.9,724.1L739.7,724.2L742.4,724.3L745.2,724.4L747.9,724.5L750.7,724.5L753.4,724.6L756.2,724.7L759,724.8L761.7,724.9L764.5,724.9L767.2,725L770,725.1L772.7,725.1L775.5,725.2L778.3,725.3L781,725.3L783.8,725.4L786.6,725.5L789.3,725.5L792.1,725.6L794.9,725.6L797.6,725.7L800.4,725.7L803.2,725.8L805.9,725.8L808.7,725.9L811.5,725.9L814.3,726L817,726L819.8,726.1L822.6,726.1L825.4,726.1L828.2,726.2L830.9,726.2L833.7,726.3L836.5,726.3L839.3,726.3L842.1,726.4L844.8,726.4L847.6,726.4L850.4,726.5L853.2,726.5L856,726.5L858.8,726.6L861.5,726.6L864.3,726.6L867.1,726.6L869.9,726.7L872.7,726.7L875.5,726.7L878.3,726.7L881.1,726.8L883.8,726.8L886.6,726.8L889.4,726.8L892.2,726.8L895,726.9L897.8,726.9L900.6,726.9L903.4,726.9L906.2,726.9L909,726.9L911.8,727L914.6,727L917.4,727L920.2,727L923,727L925.8,727L928.6,727L931.4,727.1L934.2,727.1L937,727.1L939.8,727.1L942.6,727.1L945.4,727.1L948.2,727.1L951,727.1L953.8,727.1L956.6,727.1L959.4,727.2L962.2,727.2L965,727.2L967.8,727.2L970.6,727.2L973.4,727.2L976.2,727.2L979,727.2L981.8,727.2L984.6,727.2L987.4,727.2L990.2,727.2L993,727.2L995.8,727.2L998.6,727.2L1001.4,727.2L1004.2,727.3L1007,727.3L1009.8,727.3L1012.6,727.3L1015.4,727.3L1018.2,727.3L1021,727.3L1023.9,727.3L1026.7,727.3L1029.5,727.3L1032.3,727.3L1035.1,727.3L1037.9,727.3L1040.7,727.3L1043.5,727.3L1046.3,727.3L1049.1,727.3L1051.9,727.3L1054.7,727.3L1057.5,727.3L1060.3,727.3L1063.2,727.3L1066,727.3L1068.8,727.3L1071.6,727.3L1074.4,727.3L1077.2,727.3L1080,727.3M1080,552.2L1082,552.2L1084,552.2L1085.9,552.2L1087.9,552.1L1089.9,552.1L1091.9,552.1L1093.8,552.1L1095.8,552.1L1097.8,552L1099.8,552L1101.7,551.9L1103.7,551.9L1105.7,551.9L1107.7,551.8L1109.6,551.7L1111.6,551.7L1113.6,551.6L1115.6,551.6L1117.5,551.5L1119.5,551.4L1121.5,551.3L1123.4,551.2L1125.4,551.2L1127.4,551.1L1129.3,551L1131.3,550.9L1133.3,550.8L1135.2,550.7L1137.2,550.6L1139.2,550.4L1141.1,550.3L1143.1,550.2L1145,550.1L1147,550L1148.9,549.8L1150.9,549.7L1152.8,549.5L1154.8,549.4L1156.7,549.2L1158.7,549.1L1160.6,548.9L1162.6,548.8L1164.5,548.6L1166.5,548.4L1168.4,548.3L1170.3,548.1L1172.3,547.9L1174.2,547.7L1176.1,547.5L1178.1,547.3L1180,547.1L1181.9,546.9L1183.8,546.7L1185.8,546.5L1187.7,546.3L1189.6,546.1L1191.5,545.8L1193.4,545.6L1195.3,545.4L1197.2,545.1L1199.1,544.9L1201,544.6L1202.9,544.4L1204.8,544.1L1206.7,543.9L1208.6,543.6L1210.5,543.3L1212.4,543.1L1214.3,542.8L1216.2,542.5L1218,542.2L1219.9,541.9L1221.8,541.6L1223.6,541.3L1225.5,541L1227.4,540.7L1229.2,540.4L1231.1,540.1L1232.9,539.7L1234.8,539.4L1236.6,539.1L1238.5,538.7L1240.3,538.4L1242.1,538L1244,537.7L1245.8,537.3L1247.6,536.9L1249.4,536.6L1251.2,536.2L1253,535.8L1254.8,535.4L1256.6,535L1258.4,534.6L1260.2,534.2L1262,533.8L1263.8,533.4L1265.6,533L1267.3,532.5L1269.1,532.1L1270.9,531.7L1272.6,531.2L1274.4,530.8L1276.1,530.3L1277.9,529.9L1279.6,529.4L1281.4,528.9L1283.1,528.4L1284.8,528L1286.5,527.5L1288.2,527L1289.9,526.5L1291.6,526L1293.3,525.4L1295,524.9L1296.7,524.4L1298.4,523.9L1300.1,523.3L1301.7,522.8L1303.4,522.2L1305,521.7L1306.7,521.1L1308.3,520.5L1309.9,519.9L1311.6,519.4L1313.2,518.8L1314.8,518.2L1316.4,517.6L1318,516.9L1319.6,516.3L1321.2,515.7L1322.7,515.1L1324.3,514.4L1325.9,513.8L1327.4,513.1L1329,512.5L1330.5,511.8L1332,511.1L1333.6,510.4L1335.1,509.7L1336.6,509L1338.1,508.3L1339.6,507.6L1341,506.9L1342.5,506.2L1344,505.4L1345.4,504.7L1346.9,503.9L1348.3,503.1L1349.7,502.4L1351.1,501.6L1352.5,500.8L1353.9,500L1355.3,499.2L1356.7,498.4L1358,497.6L1359.4,496.7L1360.7,495.9L1362.1,495.1L1363.4,494.2L1364.7,493.3L1366,492.5L1367.3,491.6L1368.6,490.7L1369.8,489.8L1371.1,488.9L1372.3,488L1373.6,487L1374.8,486.1L1376,485.2L1377.2,484.2L1378.3,483.2L1379.5,482.3L1380.7,481.3L1381.8,480.3L1382.9,479.3L1384,478.3L1385.1,477.3L1386.2,476.2L1387.3,475.2L1388.3,474.1L1389.4,473.1L1390.4,472L1391.4,470.9L1392.4,469.8L1393.4,468.7L1394.4,467.6L1395.3,466.5L1396.3,465.3L1397.2,464.2L1398.1,463L1399,461.9L1399.8,460.7L1400.7,459.5L1401.5,458.3L1402.3,457.1L1403.1,455.8L1403.9,454.6L1404.7,453.4L1405.4,452.1L1406.1,450.8L1406.8,449.6L1407.5,448.3L1408.2,447L1408.8,445.7L1409.5,444.3L1410.1,443L1410.6,441.6L1411.2,440.3L1411.7,438.9L1412.3,437.5L1412.8,436.1L1413.2,434.7L1413.7,433.3L1414.1,431.9L1414.5,430.4L1414.9,429L1415.3,427.5L1415.6,426L1415.9,424.6L1416.2,423.1L1416.5,421.5L1416.7,420L1416.9,418.5L1417.1,416.9L1417.3,415.4L1417.4,413.8L1417.5,412.2L1417.6,410.6L1417.7,409L1417.7,407.4L1417.7,405.7L1417.7,404.1L1417.6,402.4L1417.5,400.8L1417.4,399.1L1417.2,397.4L1417.1,395.7L1416.9,394L1416.6,392.2L1416.3,390.5L1416,388.8L1415.7,387L1415.3,385.2L1414.9,383.4L1414.5,381.6L1414,379.8L1413.5,378L1413,376.2L1412.4,374.4L1411.8,372.5L1411.1,370.7L1410.4,368.8L1409.7,366.9L1409,365L1408.2,363.1L1407.3,361.2L1406.5,359.3L1405.6,357.4L1404.6,355.4L1403.6,353.5L1402.6,351.6L1401.5,349.6L1400.4,347.6L1399.3,345.7L1398.1,343.7L1396.8,341.7L1395.6,339.7L1394.2,337.7L1392.9,335.7L1391.5,333.7L1390,331.7L1388.5,329.6L1387,327.6L1385.4,325.6L1383.8,323.5L1382.1,321.5L1380.4,319.5M779.6,319.5L777.9,321.5L776.2,323.5L774.6,325.6L773,327.6L771.5,329.6L770,331.7L768.5,333.7L767.1,335.7L765.8,337.7L764.4,339.7L763.2,341.7L761.9,343.7L760.7,345.7L759.6,347.6L758.5,349.6L757.4,351.6L756.4,353.5L755.4,355.4L754.4,357.4L753.5,359.3L752.7,361.2L751.8,363.1L751,365L750.3,366.9L749.6,368.8L748.9,370.7L748.2,372.5L747.6,374.4L747,376.2L746.5,378L746,379.8L745.5,381.6L745.1,383.4L744.7,385.2L744.3,387L744,388.8L743.7,390.5L743.4,392.2L743.1,394L742.9,395.7L742.8,397.4L742.6,399.1L742.5,400.8L742.4,402.4L742.3,404.1L742.3,405.7L742.3,407.4L742.3,409L742.4,410.6L742.5,412.2L742.6,413.8L742.7,415.4L742.9,416.9L743.1,418.5L743.3,420L743.5,421.5L743.8,423.1L744.1,424.6L744.4,426L744.7,427.5L745.1,429L745.5,430.4L745.9,431.9L746.3,433.3L746.8,434.7L747.2,436.1L747.7,437.5L748.3,438.9L748.8,440.3L749.4,441.6L749.9,443L750.5,444.3L751.2,445.7L751.8,447L752.5,448.3L753.2,449.6L753.9,450.8L754.6,452.1L755.3,453.4L756.1,454.6L756.9,455.8L757.7,457.1L758.5,458.3L759.3,459.5L760.2,460.7L761,461.9L761.9,463L762.8,464.2L763.7,465.3L764.7,466.5L765.6,467.6L766.6,468.7L767.6,469.8L768.6,470.9L769.6,472L770.6,473.1L771.7,474.1L772.7,475.2L773.8,476.2L774.9,477.3L776,478.3L777.1,479.3L778.2,480.3L779.3,481.3L780.5,482.3L781.7,483.2L782.8,484.2L784,485.2L785.2,486.1L786.4,487L787.7,488L788.9,488.9L790.2,489.8L791.4,490.7L792.7,491.6L794,492.5L795.3,493.3L796.6,494.2L797.9,495.1L799.3,495.9L800.6,496.7L802,497.6L803.3,498.4L804.7,499.2L806.1,500L807.5,500.8L808.9,501.6L810.3,502.4L811.7,503.1L813.1,503.9L814.6,504.7L816,505.4L817.5,506.2L819,506.9L820.4,507.6L821.9,508.3L823.4,509L824.9,509.7L826.4,510.4L828,511.1L829.5,511.8L831,512.5L832.6,513.1L834.1,513.8L835.7,514.4L837.3,515.1L838.8,515.7L840.4,516.3L842,516.9L843.6,517.6L845.2,518.2L846.8,518.8L848.4,519.4L850.1,519.9L851.7,520.5L853.3,521.1L855,521.7L856.6,522.2L858.3,522.8L859.9,523.3L861.6,523.9L863.3,524.4L865,524.9L866.7,525.4L868.4,526L870.1,526.5L871.8,527L873.5,527.5L875.2,528L876.9,528.4L878.6,528.9L880.4,529.4L882.1,529.9L883.9,530.3L885.6,530.8L887.4,531.2L889.1,531.7L890.9,532.1L892.7,532.5L894.4,533L896.2,533.4L898,533.8L899.8,534.2L901.6,534.6L903.4,535L905.2,535.4L907,535.8L908.8,536.2L910.6,536.6L912.4,536.9L914.2,537.3L916,537.7L917.9,538L919.7,538.4L921.5,538.7L923.4,539.1L925.2,539.4L927.1,539.7L928.9,540.1L930.8,540.4L932.6,540.7L934.5,541L936.4,541.3L938.2,541.6L940.1,541.9L942,542.2L943.8,542.5L945.7,542.8L947.6,543.1L949.5,543.3L951.4,543.6L953.3,543.9L955.2,544.1L957.1,544.4L959,544.6L960.9,544.9L962.8,545.1L964.7,545.4L966.6,545.6L968.5,545.8L970.4,546.1L972.3,546.3L974.2,546.5L976.2,546.7L978.1,546.9L980,547.1L981.9,547.3L983.9,547.5L985.8,547.7L987.7,547.9L989.7,548.1L991.6,548.3L993.5,548.4L995.5,548.6L997.4,548.8L999.4,548.9L1001.3,549.1L1003.3,549.2L1005.2,549.4L1007.2,549.5L1009.1,549.7L1011.1,549.8L1013,550L1015,550.1L1016.9,550.2L1018.9,550.3L1020.8,550.4L1022.8,550.6L1024.8,550.7L1026.7,550.8L1028.7,550.9L1030.7,551L1032.6,551.1L1034.6,551.2L1036.6,551.2L1038.5,551.3L1040.5,551.4L1042.5,551.5L1044.4,551.6L1046.4,551.6L1048.4,551.7L1050.4,551.7L1052.3,551.8L1054.3,551.9L1056.3,551.9L1058.3,551.9L1060.2,552L1062.2,552L1064.2,552.1L1066.2,552.1L1068.1,552.1L1070.1,552.1L1072.1,552.1L1074.1,552.2L1076,552.2L1078,552.2L1080,552.2M1080,435.4L1080.8,435.4L1081.7,435.4L1082.5,435.4L1083.4,435.4L1084.2,435.4L1085.1,435.4L1085.9,435.3L1086.7,435.3L1087.6,435.3L1088.4,435.3L1089.3,435.2L1090.1,435.2L1091,435.2L1091.8,435.1L1092.6,435.1L1093.5,435L1094.3,435L1095.1,434.9L1096,434.9L1096.8,434.8L1097.7,434.8L1098.5,434.7L1099.3,434.6L1100.2,434.6L1101,434.5L1101.8,434.4L1102.6,434.3L1103.5,434.2L1104.3,434.2L1105.1,434.1L1105.9,434L1106.8,433.9L1107.6,433.8L1108.4,433.7L1109.2,433.6L1110,433.5L1110.9,433.4L1111.7,433.2L1112.5,433.1L1113.3,433L1114.1,432.9L1114.9,432.8L1115.7,432.6L1116.5,432.5L1117.3,432.4L1118.1,432.2L1118.9,432.1L1119.7,432L1120.5,431.8L1121.3,431.7L1122.1,431.5L1122.9,431.4L1123.7,431.2L1124.5,431L1125.2,430.9L1126,430.7L1126.8,430.5L1127.6,430.4L1128.3,430.2L1129.1,430L1129.9,429.8L1130.6,429.6L1131.4,429.5L1132.2,429.3L1132.9,429.1L1133.7,428.9L1134.4,428.7L1135.2,428.5L1135.9,428.3L1136.6,428.1L1137.4,427.9L1138.1,427.6L1138.9,427.4L1139.6,427.2L1140.3,427L1141,426.8L1141.7,426.5L1142.5,426.3L1143.2,426.1L1143.9,425.8L1144.6,425.6L1145.3,425.3L1146,425.1L1146.7,424.8L1147.4,424.6L1148.1,424.3L1148.8,424.1L1149.4,423.8L1150.1,423.6L1150.8,423.3L1151.5,423L1152.1,422.7L1152.8,422.5L1153.4,422.2L1154.1,421.9L1154.7,421.6L1155.4,421.3L1156,421L1156.7,420.8L1157.3,420.5L1157.9,420.2L1158.5,419.9L1159.2,419.6L1159.8,419.2L1160.4,418.9L1161,418.6L1161.6,418.3L1162.2,418L1162.8,417.7L1163.4,417.3L1164,417L1164.5,416.7L1165.1,416.4L1165.7,416L1166.2,415.7L1166.8,415.3L1167.3,415L1167.9,414.7L1168.4,414.3L1169,414L1169.5,413.6L1170,413.2L1170.5,412.9L1171.1,412.5L1171.6,412.2L1172.1,411.8L1172.6,411.4L1173.1,411L1173.6,410.7L1174,410.3L1174.5,409.9L1175,409.5L1175.4,409.1L1175.9,408.7L1176.4,408.4L1176.8,408L1177.2,407.6L1177.7,407.2L1178.1,406.8L1178.5,406.4L1178.9,406L1179.3,405.5L1179.8,405.1L1180.1,404.7L1180.5,404.3L1180.9,403.9L1181.3,403.5L1181.7,403L1182,402.6L1182.4,402.2L1182.7,401.8L1183.1,401.3L1183.4,400.9L1183.8,400.5L1184.1,400L1184.4,399.6L1184.7,399.1L1185,398.7L1185.3,398.2L1185.6,397.8L1185.9,397.3L1186.2,396.9L1186.4,396.4L1186.7,396L1186.9,395.5L1187.2,395L1187.4,394.6L1187.7,394.1L1187.9,393.6L1188.1,393.2L1188.3,392.7L1188.5,392.2L1188.7,391.7L1188.9,391.3L1189.1,390.8L1189.2,390.3L1189.4,389.8L1189.5,389.3L1189.7,388.8L1189.8,388.3L1190,387.9L1190.1,387.4L1190.2,386.9L1190.3,386.4L1190.4,385.9L1190.5,385.4L1190.6,384.9L1190.7,384.4L1190.7,383.9L1190.8,383.4L1190.8,382.9L1190.9,382.4L1190.9,381.8L1190.9,381.3L1190.9,380.8L1190.9,380.3L1190.9,379.8L1190.9,379.3L1190.9,378.8L1190.9,378.3L1190.8,377.7L1190.8,377.2L1190.8,376.7L1190.7,376.2L1190.6,375.7L1190.5,375.1L1190.5,374.6L1190.4,374.1L1190.2,373.6L1190.1,373L1190,372.5L1189.9,372L1189.7,371.5L1189.6,370.9L1189.4,370.4L1189.3,369.9L1189.1,369.4L1188.9,368.8L1188.7,368.3L1188.5,367.8L1188.3,367.2L1188.1,366.7L1187.8,366.2L1187.6,365.7L1187.3,365.1L1187.1,364.6L1186.8,364.1L1186.5,363.6L1186.2,363L1185.9,362.5L1185.6,362L1185.3,361.4L1185,360.9L1184.7,360.4L1184.3,359.9L1184,359.3L1183.6,358.8L1183.2,358.3L1182.8,357.8L1182.5,357.3L1182.1,356.7L1181.6,356.2L1181.2,355.7L1180.8,355.2L1180.4,354.7L1179.9,354.2L1179.5,353.6L1179,353.1L1178.5,352.6L1178,352.1L1177.6,351.6L1177.1,351.1L1176.5,350.6L1176,350.1L1175.5,349.6L1175,349.1L1174.4,348.6L1173.9,348.1L1173.3,347.6L1172.7,347.1L1172.1,346.6L1171.5,346.1L1170.9,345.7L1170.3,345.2L1169.7,344.7L1169.1,344.2L1168.5,343.7L1167.8,343.3L1167.2,342.8L1166.5,342.3L1165.8,341.9L1165.1,341.4L1164.5,340.9L1163.8,340.5L1163.1,340L1162.3,339.6L1161.6,339.1L1160.9,338.7L1160.1,338.3L1159.4,337.8L1158.6,337.4L1157.9,337L1157.1,336.5L1156.3,336.1L1155.5,335.7L1154.7,335.3L1153.9,334.9L1153.1,334.5L1152.3,334.1L1151.5,333.7L1150.7,333.3L1149.8,332.9L1149,332.5L1148.1,332.1L1147.2,331.7L1146.4,331.3L1145.5,331L1144.6,330.6L1143.7,330.3L1142.8,329.9L1141.9,329.5L1141,329.2L1140.1,328.9L1139.2,328.5L1138.2,328.2L1137.3,327.9L1136.3,327.5L1135.4,327.2L1134.4,326.9L1133.5,326.6L1132.5,326.3L1131.5,326L1130.5,325.7L1129.6,325.4L1128.6,325.1L1127.6,324.9L1126.6,324.6L1125.6,324.3L1124.5,324.1L1123.5,323.8L1122.5,323.6L1121.5,323.3L1120.4,323.1L1119.4,322.9L1118.4,322.6L1117.3,322.4L1116.3,322.2L1115.2,322L1114.2,321.8L1113.1,321.6L1112,321.4L1111,321.2L1109.9,321L1108.8,320.9L1107.7,320.7L1106.6,320.5L1105.6,320.4L1104.5,320.2L1103.4,320.1L1102.3,320M1057.7,320L1056.6,320.1L1055.5,320.2L1054.4,320.4L1053.4,320.5L1052.3,320.7L1051.2,320.9L1050.1,321L1049,321.2L1048,321.4L1046.9,321.6L1045.8,321.8L1044.8,322L1043.7,322.2L1042.7,322.4L1041.6,322.6L1040.6,322.9L1039.6,323.1L1038.5,323.3L1037.5,323.6L1036.5,323.8L1035.5,324.1L1034.4,324.3L1033.4,324.6L1032.4,324.9L1031.4,325.1L1030.4,325.4L1029.5,325.7L1028.5,326L1027.5,326.3L1026.5,326.6L1025.6,326.9L1024.6,327.2L1023.7,327.5L1022.7,327.9L1021.8,328.2L1020.8,328.5L1019.9,328.9L1019,329.2L1018.1,329.5L1017.2,329.9L1016.3,330.3L1015.4,330.6L1014.5,331L1013.6,331.3L1012.8,331.7L1011.9,332.1L1011,332.5L1010.2,332.9L1009.3,333.3L1008.5,333.7L1007.7,334.1L1006.9,334.5L1006.1,334.9L1005.3,335.3L1004.5,335.7L1003.7,336.1L1002.9,336.5L1002.1,337L1001.4,337.4L1000.6,337.8L999.9,338.3L999.1,338.7L998.4,339.1L997.7,339.6L996.9,340L996.2,340.5L995.5,340.9L994.9,341.4L994.2,341.9L993.5,342.3L992.8,342.8L992.2,343.3L991.5,343.7L990.9,344.2L990.3,344.7L989.7,345.2L989.1,345.7L988.5,346.1L987.9,346.6L987.3,347.1L986.7,347.6L986.1,348.1L985.6,348.6L985,349.1L984.5,349.6L984,350.1L983.5,350.6L982.9,351.1L982.4,351.6L982,352.1L981.5,352.6L981,353.1L980.5,353.6L980.1,354.2L979.6,354.7L979.2,355.2L978.8,355.7L978.4,356.2L977.9,356.7L977.5,357.3L977.2,357.8L976.8,358.3L976.4,358.8L976,359.3L975.7,359.9L975.3,360.4L975,360.9L974.7,361.4L974.4,362L974.1,362.5L973.8,363L973.5,363.6L973.2,364.1L972.9,364.6L972.7,365.1L972.4,365.7L972.2,366.2L971.9,366.7L971.7,367.2L971.5,367.8L971.3,368.3L971.1,368.8L970.9,369.4L970.7,369.9L970.6,370.4L970.4,370.9L970.3,371.5L970.1,372L970,372.5L969.9,373L969.8,373.6L969.6,374.1L969.5,374.6L969.5,375.1L969.4,375.7L969.3,376.2L969.2,376.7L969.2,377.2L969.2,377.7L969.1,378.3L969.1,378.8L969.1,379.3L969.1,379.8L969.1,380.3L969.1,380.8L969.1,381.3L969.1,381.8L969.1,382.4L969.2,382.9L969.2,383.4L969.3,383.9L969.3,384.4L969.4,384.9L969.5,385.4L969.6,385.9L969.7,386.4L969.8,386.9L969.9,387.4L970,387.9L970.2,388.3L970.3,388.8L970.5,389.3L970.6,389.8L970.8,390.3L970.9,390.8L971.1,391.3L971.3,391.7L971.5,392.2L971.7,392.7L971.9,393.2L972.1,393.6L972.3,394.1L972.6,394.6L972.8,395L973.1,395.5L973.3,396L973.6,396.4L973.8,396.9L974.1,397.3L974.4,397.8L974.7,398.2L975,398.7L975.3,399.1L975.6,399.6L975.9,400L976.2,400.5L976.6,400.9L976.9,401.3L977.3,401.8L977.6,402.2L978,402.6L978.3,403L978.7,403.5L979.1,403.9L979.5,404.3L979.9,404.7L980.2,405.1L980.7,405.5L981.1,406L981.5,406.4L981.9,406.8L982.3,407.2L982.8,407.6L983.2,408L983.6,408.4L984.1,408.7L984.6,409.1L985,409.5L985.5,409.9L986,410.3L986.4,410.7L986.9,411L987.4,411.4L987.9,411.8L988.4,412.2L988.9,412.5L989.5,412.9L990,413.2L990.5,413.6L991,414L991.6,414.3L992.1,414.7L992.7,415L993.2,415.3L993.8,415.7L994.3,416L994.9,416.4L995.5,416.7L996,417L996.6,417.3L997.2,417.7L997.8,418L998.4,418.3L999,418.6L999.6,418.9L1000.2,419.2L1000.8,419.6L1001.5,419.9L1002.1,420.2L1002.7,420.5L1003.3,420.8L1004,421L1004.6,421.3L1005.3,421.6L1005.9,421.9L1006.6,422.2L1007.2,422.5L1007.9,422.7L1008.5,423L1009.2,423.3L1009.9,423.6L1010.6,423.8L1011.2,424.1L1011.9,424.3L1012.6,424.6L1013.3,424.8L1014,425.1L1014.7,425.3L1015.4,425.6L1016.1,425.8L1016.8,426.1L1017.5,426.3L1018.3,426.5L1019,426.8L1019.7,427L1020.4,427.2L1021.1,427.4L1021.9,427.6L1022.6,427.9L1023.4,428.1L1024.1,428.3L1024.8,428.5L1025.6,428.7L1026.3,428.9L1027.1,429.1L1027.8,429.3L1028.6,429.5L1029.4,429.6L1030.1,429.8L1030.9,430L1031.7,430.2L1032.4,430.4L1033.2,430.5L1034,430.7L1034.8,430.9L1035.5,431L1036.3,431.2L1037.1,431.4L1037.9,431.5L1038.7,431.7L1039.5,431.8L1040.3,432L1041.1,432.1L1041.9,432.2L1042.7,432.4L1043.5,432.5L1044.3,432.6L1045.1,432.8L1045.9,432.9L1046.7,433L1047.5,433.1L1048.3,433.2L1049.1,433.4L1050,433.5L1050.8,433.6L1051.6,433.7L1052.4,433.8L1053.2,433.9L1054.1,434L1054.9,434.1L1055.7,434.2L1056.5,434.2L1057.4,434.3L1058.2,434.4L1059,434.5L1059.8,434.6L1060.7,434.6L1061.5,434.7L1062.3,434.8L1063.2,434.8L1064,434.9L1064.9,434.9L1065.7,435L1066.5,435L1067.4,435.1L1068.2,435.1L1069,435.2L1069.9,435.2L1070.7,435.2L1071.6,435.3L1072.4,435.3L1073.3,435.3L1074.1,435.3L1074.9,435.4L1075.8,435.4L1076.6,435.4L1077.5,435.4L1078.3,435.4L1079.2,435.4L1080,435.4M1063.1,1484.8L1062.2,1487.7L1061.2,1490.5L1060.3,1493.3L1059.3,1496.2L1058.4,1499L1057.4,1501.8L1056.4,1504.6L1055.4,1507.5L1054.4,1510.3L1053.4,1513.1L1052.4,1515.9L1051.4,1518.7L1050.4,1521.5L1049.3,1524.4L1048.3,1527.2L1047.2,1530L1046.1,1532.8L1045.1,1535.6L1044,1538.4L1042.9,1541.2L1041.7,1544L1040.6,1546.8L1039.5,1549.6L1038.3,1552.4L1037.2,1555.1L1036,1557.9L1034.8,1560.7L1033.6,1563.5L1032.4,1566.3L1031.2,1569L1030,1571.8L1028.7,1574.6L1027.5,1577.3L1026.2,1580.1L1024.9,1582.9L1023.6,1585.6L1022.3,1588.4L1021,1591.1L1019.7,1593.9L1018.3,1596.6L1016.9,1599.3L1015.6,1602.1L1014.2,1604.8L1012.8,1607.5L1011.3,1610.2L1009.9,1613L1008.4,1615.7L1007,1618.4L1005.5,1621.1L1004,1623.8L1002.4,1626.5L1000.9,1629.2L999.3,1631.9L997.8,1634.5L996.2,1637.2L994.5,1639.9L992.9,1642.6L991.3,1645.2L989.6,1647.9L987.9,1650.5L986.2,1653.2L984.4,1655.8L982.7,1658.4L980.9,1661M1053.4,317.5L1054.9,320.3M1003.2,1441.2L999.2,1441.5L995.3,1441.9L991.3,1442.2L987.4,1442.5L983.4,1442.7L979.4,1443L975.5,1443.2L971.5,1443.3L967.5,1443.5L963.5,1443.6L959.5,1443.7L955.5,1443.7L951.5,1443.7L947.5,1443.7L943.4,1443.7L939.4,1443.6L935.4,1443.5L931.3,1443.3L927.3,1443.2L923.2,1443L919.2,1442.7L915.1,1442.5L911.1,1442.2L907,1441.8L902.9,1441.5L898.8,1441.1L894.8,1440.6L890.7,1440.2L886.6,1439.7L882.5,1439.2L878.4,1438.6L874.3,1438L870.3,1437.4L866.2,1436.7L862.1,1436L858,1435.3L853.9,1434.5L849.8,1433.7L845.7,1432.9L841.6,1432L837.5,1431.1L833.4,1430.1L829.3,1429.2L825.2,1428.2L821.1,1427.1L817,1426L812.9,1424.9L808.8,1423.7L804.7,1422.6L800.6,1421.3L796.6,1420.1L792.5,1418.8L788.4,1417.4L784.3,1416L780.2,1414.6L776.2,1413.2L772.1,1411.7L768.1,1410.2L764,1408.6L759.9,1407L755.9,1405.4L751.9,1403.7L747.8,1402L743.8,1400.2L739.8,1398.4L735.8,1396.6L731.8,1394.7L727.8,1392.8L723.8,1390.9L719.8,1388.9L715.8,1386.8L711.9,1384.8L707.9,1382.7L704,1380.5L700,1378.3L696.1,1376.1L692.2,1373.8L688.3,1371.5L684.4,1369.2L680.6,1366.8L676.7,1364.4L672.8,1361.9L669,1359.4L665.2,1356.8L661.4,1354.2L657.6,1351.6L653.8,1348.9L650,1346.2L646.3,1343.5L642.6,1340.7L638.8,1337.8L635.1,1335L631.5,1332L627.8,1329.1L624.2,1326.1L620.5,1323L616.9,1319.9L613.3,1316.8L609.8,1313.7L606.2,1310.4L602.7,1307.2L599.2,1303.9L595.7,1300.6L592.3,1297.2L588.8,1293.8L585.4,1290.3L582,1286.8L578.7,1283.3L575.3,1279.7L572,1276L568.8,1272.4L565.5,1268.7L562.3,1264.9L559.1,1261.1L555.9,1257.3L552.7,1253.4L549.6,1249.5L546.6,1245.6L543.5,1241.6L540.5,1237.5L537.5,1233.4L534.5,1229.3L531.6,1225.2L528.7,1221L525.8,1216.7L523,1212.4L520.2,1208.1L517.5,1203.8L514.8,1199.4L512.1,1194.9L509.4,1190.5L506.8,1185.9L504.3,1181.4L501.7,1176.8L499.3,1172.2L496.8,1167.5L494.4,1162.8L492,1158.1L489.7,1153.3L487.4,1148.5L485.2,1143.6L483,1138.7L480.9,1133.8L478.8,1128.8L476.7,1123.8L474.7,1118.8L472.7,1113.8L470.8,1108.7L468.9,1103.5L467.1,1098.4L465.3,1093.2L463.6,1088L462,1082.7L460.3,1077.4L458.8,1072.1L457.2,1066.7L455.8,1061.4L454.4,1055.9L453,1050.5L451.7,1045L450.4,1039.5L449.3,1034L448.1,1028.5L447,1022.9L446,1017.3L445,1011.7L444.1,1006L443.3,1000.4L442.5,994.7L441.7,989L441.1,983.2L440.5,977.5L439.9,971.7L439.4,965.9L439,960.1L438.6,954.3L438.3,948.4L438.1,942.6L437.9,936.7L437.8,930.8L437.7,924.9L437.7,919L437.8,913L437.9,907.1L438.1,901.1L438.4,895.2L438.8,889.2L439.2,883.2L439.6,877.2L440.2,871.2L440.8,865.2L441.4,859.2L442.2,853.2L443,847.2L443.9,841.2L444.8,835.2L445.8,829.2L446.9,823.2L448,817.2L449.3,811.2L450.6,805.2L451.9,799.2L453.3,793.2L454.8,787.2L456.4,781.2L458,775.3L459.7,769.3L461.5,763.4L463.3,757.4L465.2,751.5L467.2,745.6L469.2,739.7L471.3,733.9L473.5,728L475.8,722.2L478.1,716.4L480.5,710.6L482.9,704.8L485.4,699.1L488,693.3L490.7,687.6L493.4,682L496.2,676.3L499,670.7L501.9,665.1L504.9,659.5L507.9,654L511,648.5L514.2,643L517.4,637.6L520.7,632.2L524.1,626.8L527.5,621.5L531,616.2L534.5,611L538.1,605.8L541.8,600.6L545.5,595.5L549.3,590.4L553.1,585.3L557,580.3L561,575.4L565,570.5L569,565.6L573.1,560.8L577.3,556L581.5,551.3L585.8,546.6L590.1,542L594.5,537.4L598.9,532.9L603.4,528.4L607.9,524L612.4,519.6L617,515.3L621.7,511.1L626.4,506.9L631.1,502.8L635.9,498.7L640.7,494.6L645.6,490.7L650.5,486.8L655.5,482.9L660.4,479.1L665.5,475.4L670.5,471.7L675.6,468.1L680.7,464.6L685.9,461.1L691.1,457.7L696.3,454.3L701.6,451L706.8,447.8L712.2,444.6L717.5,441.5L722.9,438.5L728.3,435.5L733.7,432.6L739.1,429.7L744.6,426.9L750.1,424.2L755.6,421.6L761.1,419L766.6,416.5L772.2,414L777.8,411.6L783.4,409.3L789,407L794.6,404.8L800.2,402.7L805.9,400.6L811.5,398.6L817.2,396.7L822.9,394.9L828.6,393.1L834.3,391.3L840,389.7L845.7,388.1L851.4,386.5L857.1,385.1L862.8,383.7L868.6,382.3L874.3,381.1L880,379.9L885.7,378.7L891.5,377.6L897.2,376.6L902.9,375.7L908.6,374.8L914.3,374L920,373.2L925.7,372.5L931.4,371.9L937.1,371.3L942.8,370.8L948.4,370.3L954.1,369.9L959.7,369.6L965.4,369.4L971,369.1M1023.9,1386.3L1021.3,1384L1018.7,1381.8L1016.1,1379.5L1013.5,1377.3L1010.9,1375L1008.4,1372.7L1005.8,1370.4L1003.3,1368.1L1000.8,1365.8L998.3,1363.4L995.8,1361.1L993.4,1358.7L990.9,1356.3L988.5,1354L986.1,1351.6L983.7,1349.1L981.3,1346.7L979,1344.3L976.6,1341.9L974.3,1339.4L972,1336.9L969.7,1334.5L967.4,1332L965.1,1329.5L962.9,1327L960.6,1324.5L958.4,1321.9L956.2,1319.4L954,1316.9L951.8,1314.3L949.6,1311.7L947.5,1309.2L945.4,1306.6L943.2,1304L941.1,1301.4L939.1,1298.8L937,1296.1L934.9,1293.5L932.9,1290.9L930.9,1288.2L928.8,1285.6L926.8,1282.9L924.9,1280.2L922.9,1277.5L920.9,1274.9L919,1272.2L917.1,1269.4L915.2,1266.7L913.3,1264L911.4,1261.3L909.5,1258.5L907.7,1255.8L905.8,1253L904,1250.3L902.2,1247.5L900.4,1244.7L898.6,1241.9L896.9,1239.1L895.1,1236.3L893.4,1233.5L891.7,1230.7L890,1227.9L888.3,1225L886.6,1222.2L884.9,1219.3L883.3,1216.5L881.7,1213.6L880,1210.8L878.4,1207.9L876.9,1205L875.3,1202.1L873.7,1199.2L872.2,1196.3L870.6,1193.4L869.1,1190.5L867.6,1187.6L866.1,1184.6L864.7,1181.7L863.2,1178.8L861.8,1175.8L860.3,1172.9L858.9,1169.9L857.5,1167L856.1,1164L854.8,1161L853.4,1158L852,1155L850.7,1152L849.4,1149.1L848.1,1146L846.8,1143L845.5,1140L844.3,1137L843,1134L841.8,1130.9L840.6,1127.9L839.4,1124.9L838.2,1121.8L837,1118.8L835.9,1115.7L834.7,1112.6L833.6,1109.6L832.5,1106.5L831.4,1103.4L830.3,1100.4L829.2,1097.3L828.2,1094.2L827.1,1091.1L826.1,1088L825.1,1084.9L824.1,1081.8L823.1,1078.6L822.1,1075.5L821.2,1072.4L820.2,1069.3L819.3,1066.1L818.4,1063L817.5,1059.9L816.6,1056.7L815.7,1053.6L814.9,1050.4L814,1047.3L813.2,1044.1L812.4,1040.9L811.6,1037.8L810.8,1034.6L810.1,1031.4L809.3,1028.2L808.6,1025.1L807.8,1021.9L807.1,1018.7L806.4,1015.5L805.8,1012.3L805.1,1009.1L804.5,1005.9L803.8,1002.7L803.2,999.5L802.6,996.3L802,993L801.4,989.8L800.9,986.6L800.3,983.4L799.8,980.1L799.3,976.9L798.8,973.7L798.3,970.4L797.8,967.2L797.4,963.9L796.9,960.7L796.5,957.4L796.1,954.2L795.7,950.9L795.3,947.7L795,944.4L794.6,941.1L794.3,937.9L794,934.6L793.7,931.3L793.4,928.1L793.1,924.8L792.9,921.5L792.7,918.2L792.4,914.9L792.2,911.6L792,908.4L791.9,905.1L791.7,901.8L791.6,898.5L791.4,895.2L791.3,891.9L791.2,888.6L791.2,885.3L791.1,882L791.1,878.7L791,875.4L791,872.1L791,868.8L791,865.5L791.1,862.1L791.1,858.8L791.2,855.5L791.3,852.2L791.4,848.9L791.5,845.6L791.7,842.2L791.8,838.9L792,835.6L792.2,832.3L792.4,829L792.6,825.6L792.8,822.3L793.1,819L793.4,815.7L793.7,812.3L794,809L794.3,805.7L794.6,802.4L795,799L795.4,795.7L795.8,792.4L796.2,789L796.6,785.7L797.1,782.4L797.6,779.1L798,775.7L798.6,772.4L799.1,769.1L799.6,765.7L800.2,762.4L800.8,759.1L801.4,755.8L802,752.4L802.6,749.1L803.3,745.8L803.9,742.5L804.6,739.1L805.4,735.8L806.1,732.5L806.8,729.2L807.6,725.9L808.4,722.5L809.2,719.2L810,715.9L810.9,712.6L811.8,709.3L812.7,706L813.6,702.7L814.5,699.4L815.4,696.1L816.4,692.8L817.4,689.5L818.4,686.2L819.5,682.9L820.5,679.6L821.6,676.3L822.7,673L823.8,669.7L824.9,666.4L826.1,663.2L827.3,659.9L828.5,656.6L829.7,653.3L831,650.1L832.2,646.8L833.5,643.6L834.8,640.3L836.2,637.1L837.5,633.8L838.9,630.6L840.3,627.3L841.7,624.1L843.2,620.9L844.7,617.6L846.2,614.4L847.7,611.2L849.2,608L850.8,604.8L852.4,601.6L854,598.4L855.6,595.2L857.3,592L859,588.8L860.7,585.7L862.4,582.5L864.2,579.3L866,576.2L867.8,573L869.6,569.9L871.5,566.8L873.4,563.6L875.3,560.5L877.2,557.4L879.2,554.3L881.2,551.2L883.2,548.1L885.3,545L887.3,542L889.4,538.9L891.6,535.8L893.7,532.8L895.9,529.8L898.1,526.7L900.3,523.7L902.6,520.7L904.9,517.7L907.2,514.7L909.6,511.7L911.9,508.8L914.4,505.8L916.8,502.9L919.3,499.9L921.8,497L924.3,494.1L926.8,491.2L929.4,488.3L932,485.5L934.7,482.6L937.4,479.8L940.1,476.9L942.8,474.1L945.6,471.3L948.4,468.5L951.2,465.8L954.1,463L957,460.3L959.9,457.5L962.8,454.8L965.8,452.1L968.9,449.5L971.9,446.8L975,444.1L978.1,441.5L981.3,438.9L984.5,436.3L987.7,433.8L991,431.2L994.3,428.7L997.6,426.2L1001,423.7L1004.4,421.2M1094.3,1370.4L1094.9,1367.5L1095.6,1364.6L1096.2,1361.7L1096.8,1358.9L1097.5,1356L1098.1,1353.1L1098.7,1350.2L1099.3,1347.3L1099.9,1344.4L1100.6,1341.5L1101.2,1338.6L1101.8,1335.8L1102.3,1332.9L1102.9,1330L1103.5,1327.1L1104.1,1324.2L1104.7,1321.3L1105.2,1318.4L1105.8,1315.5L1106.3,1312.6L1106.9,1309.7L1107.4,1306.8L1108,1303.9L1108.5,1301L1109.1,1298.1L1109.6,1295.2L1110.1,1292.3L1110.6,1289.4L1111.1,1286.5L1111.7,1283.6L1112.2,1280.7L1112.7,1277.8L1113.2,1274.9L1113.7,1272L1114.1,1269.1L1114.6,1266.2L1115.1,1263.3L1115.6,1260.4L1116.1,1257.5L1116.5,1254.6L1117,1251.7L1117.5,1248.8L1117.9,1245.9L1118.4,1243L1118.8,1240L1119.3,1237.1L1119.7,1234.2L1120.1,1231.3L1120.6,1228.4L1121,1225.5L1121.4,1222.6L1121.8,1219.7L1122.3,1216.8L1122.7,1213.9L1123.1,1210.9L1123.5,1208L1123.9,1205.1L1124.3,1202.2L1124.7,1199.3L1125.1,1196.4L1125.5,1193.5L1125.8,1190.5L1126.2,1187.6L1126.6,1184.7L1127,1181.8L1127.3,1178.9L1127.7,1176L1128.1,1173L1128.4,1170.1L1128.8,1167.2L1129.1,1164.3L1129.5,1161.4L1129.8,1158.5L1130.1,1155.5L1130.5,1152.6L1130.8,1149.7L1131.1,1146.8L1131.5,1143.9L1131.8,1140.9L1132.1,1138L1132.4,1135.1L1132.7,1132.2L1133,1129.2L1133.3,1126.3L1133.6,1123.4L1133.9,1120.5L1134.2,1117.6L1134.5,1114.6L1134.8,1111.7L1135.1,1108.8L1135.4,1105.9L1135.6,1102.9L1135.9,1100L1136.2,1097.1L1136.4,1094.2L1136.7,1091.2L1137,1088.3L1137.2,1085.4L1137.5,1082.5L1137.7,1079.5L1138,1076.6L1138.2,1073.7L1138.5,1070.7L1138.7,1067.8L1138.9,1064.9L1139.2,1062L1139.4,1059L1139.6,1056.1L1139.8,1053.2L1140,1050.2L1140.3,1047.3L1140.5,1044.4L1140.7,1041.5L1140.9,1038.5L1141.1,1035.6L1141.3,1032.7L1141.5,1029.7L1141.7,1026.8L1141.8,1023.9L1142,1020.9L1142.2,1018L1142.4,1015.1L1142.6,1012.2L1142.7,1009.2L1142.9,1006.3L1143.1,1003.4L1143.2,1000.4L1143.4,997.5L1143.5,994.6L1143.7,991.6L1143.8,988.7L1144,985.8L1144.1,982.8L1144.3,979.9L1144.4,977L1144.5,974L1144.7,971.1L1144.8,968.2L1144.9,965.2L1145,962.3L1145.1,959.4L1145.3,956.4L1145.4,953.5L1145.5,950.6L1145.6,947.6L1145.7,944.7L1145.8,941.8L1145.9,938.8L1146,935.9L1146,932.9L1146.1,930L1146.2,927.1L1146.3,924.1L1146.3,921.2L1146.4,918.3L1146.5,915.3L1146.5,912.4L1146.6,909.5L1146.7,906.5L1146.7,903.6L1146.8,900.6L1146.8,897.7L1146.9,894.8L1146.9,891.8L1146.9,888.9L1147,886L1147,883L1147,880.1L1147,877.1L1147.1,874.2L1147.1,871.3L1147.1,868.3L1147.1,865.4L1147.1,862.5L1147.1,859.5L1147.1,856.6L1147.1,853.6L1147.1,850.7L1147.1,847.8L1147.1,844.8L1147.1,841.9L1147,839L1147,836L1147,833.1L1146.9,830.1L1146.9,827.2L1146.9,824.3L1146.8,821.3L1146.8,818.4L1146.7,815.4L1146.7,812.5L1146.6,809.6L1146.5,806.6L1146.5,803.7L1146.4,800.7L1146.3,797.8L1146.3,794.9L1146.2,791.9L1146.1,789L1146,786.1L1145.9,783.1L1145.8,780.2L1145.7,777.2L1145.6,774.3L1145.5,771.4L1145.4,768.4L1145.3,765.5L1145.2,762.5L1145.1,759.6L1144.9,756.7L1144.8,753.7L1144.7,750.8L1144.5,747.8L1144.4,744.9L1144.2,742L1144.1,739L1143.9,736.1L1143.8,733.1L1143.6,730.2L1143.4,727.3L1143.3,724.3L1143.1,721.4L1142.9,718.5L1142.7,715.5L1142.5,712.6L1142.4,709.6L1142.2,706.7L1142,703.8L1141.7,700.8L1141.5,697.9L1141.3,694.9L1141.1,692L1140.9,689.1L1140.7,686.1L1140.4,683.2L1140.2,680.3L1139.9,677.3L1139.7,674.4L1139.4,671.4L1139.2,668.5L1138.9,665.6L1138.7,662.6L1138.4,659.7L1138.1,656.8L1137.8,653.8L1137.6,650.9L1137.3,648L1137,645L1136.7,642.1L1136.4,639.1L1136.1,636.2L1135.7,633.3L1135.4,630.3L1135.1,627.4L1134.8,624.5L1134.4,621.5L1134.1,618.6L1133.7,615.7L1133.4,612.7L1133,609.8L1132.7,606.9L1132.3,603.9L1131.9,601L1131.5,598.1L1131.2,595.1L1130.8,592.2L1130.4,589.3L1130,586.3L1129.5,583.4L1129.1,580.5L1128.7,577.6L1128.3,574.6L1127.8,571.7L1127.4,568.8L1127,565.8L1126.5,562.9L1126,560L1125.6,557.1L1125.1,554.1L1124.6,551.2L1124.1,548.3L1123.6,545.3L1123.1,542.4L1122.6,539.5L1122.1,536.6L1121.6,533.6L1121.1,530.7L1120.5,527.8L1120,524.9L1119.4,522L1118.9,519L1118.3,516.1L1117.7,513.2L1117.2,510.3L1116.6,507.4L1116,504.4L1115.4,501.5L1114.8,498.6L1114.1,495.7L1113.5,492.8L1112.9,489.9L1112.2,486.9L1111.6,484L1110.9,481.1L1110.2,478.2L1109.5,475.3L1108.9,472.4L1108.2,469.5L1107.4,466.6L1106.7,463.7L1106,460.8L1105.3,457.9L1104.5,454.9L1103.8,452L1103,449.1L1102.2,446.2L1101.4,443.3L1100.6,440.4L1099.8,437.5L1099,434.7M1152.7,1404.1L1156.2,1402.7L1159.7,1401.2L1163.2,1399.7L1166.7,1398.2L1170.1,1396.7L1173.6,1395.1L1177,1393.5L1180.4,1391.9L1183.8,1390.3L1187.2,1388.7L1190.6,1387L1194,1385.3L1197.3,1383.6L1200.7,1381.9L1204,1380.1L1207.3,1378.4L1210.6,1376.6L1213.9,1374.8L1217.1,1372.9L1220.4,1371.1L1223.6,1369.2L1226.9,1367.3L1230.1,1365.4L1233.3,1363.4L1236.5,1361.5L1239.6,1359.5L1242.8,1357.5L1245.9,1355.5L1249,1353.4L1252.1,1351.4L1255.2,1349.3L1258.3,1347.2L1261.4,1345.1L1264.4,1342.9L1267.4,1340.8L1270.5,1338.6L1273.4,1336.4L1276.4,1334.2L1279.4,1331.9L1282.3,1329.7L1285.3,1327.4L1288.2,1325.1L1291.1,1322.8L1294,1320.5L1296.9,1318.1L1299.7,1315.8L1302.6,1313.4L1305.4,1311L1308.2,1308.6L1311,1306.1L1313.7,1303.7L1316.5,1301.2L1319.2,1298.7L1321.9,1296.2L1324.7,1293.7L1327.3,1291.2L1330,1288.6L1332.7,1286L1335.3,1283.4L1337.9,1280.8L1340.5,1278.2L1343.1,1275.6L1345.7,1272.9L1348.2,1270.3L1350.7,1267.6L1353.2,1264.9L1355.7,1262.1L1358.2,1259.4L1360.7,1256.7L1363.1,1253.9L1365.5,1251.1L1367.9,1248.3L1370.3,1245.5L1372.7,1242.7L1375,1239.8L1377.3,1237L1379.7,1234.1L1381.9,1231.2L1384.2,1228.3L1386.5,1225.4L1388.7,1222.5L1390.9,1219.5L1393.1,1216.6L1395.3,1213.6L1397.4,1210.6L1399.6,1207.6L1401.7,1204.6L1403.8,1201.5L1405.9,1198.5L1407.9,1195.4L1410,1192.4L1412,1189.3L1414,1186.2L1416,1183.1L1417.9,1179.9L1419.9,1176.8L1421.8,1173.6L1423.7,1170.5L1425.6,1167.3L1427.4,1164.1L1429.3,1160.9L1431.1,1157.7L1432.9,1154.5L1434.7,1151.2L1436.4,1148L1438.2,1144.7L1439.9,1141.4L1441.6,1138.2L1443.2,1134.9L1444.9,1131.5L1446.5,1128.2L1448.1,1124.9L1449.7,1121.5L1451.3,1118.2L1452.8,1114.8L1454.3,1111.4L1455.8,1108L1457.3,1104.6L1458.8,1101.2L1460.2,1097.8L1461.6,1094.4L1463,1090.9L1464.4,1087.5L1465.7,1084L1467,1080.5L1468.3,1077.1L1469.6,1073.6L1470.9,1070.1L1472.1,1066.5L1473.3,1063L1474.5,1059.5L1475.6,1055.9L1476.8,1052.4L1477.9,1048.8L1479,1045.2L1480.1,1041.7L1481.1,1038.1L1482.1,1034.5L1483.1,1030.9L1484.1,1027.3L1485.1,1023.6L1486,1020L1486.9,1016.4L1487.8,1012.7L1488.6,1009.1L1489.5,1005.4L1490.3,1001.7L1491,998L1491.8,994.4L1492.5,990.7L1493.2,987L1493.9,983.3L1494.6,979.5L1495.2,975.8L1495.8,972.1L1496.4,968.3L1497,964.6L1497.5,960.9L1498,957.1L1498.5,953.3L1498.9,949.6L1499.4,945.8L1499.8,942L1500.1,938.2L1500.5,934.4L1500.8,930.6L1501.1,926.8L1501.4,923L1501.6,919.2L1501.9,915.4L1502,911.6L1502.2,907.8L1502.3,903.9L1502.5,900.1L1502.5,896.3L1502.6,892.4L1502.6,888.6L1502.6,884.7L1502.6,880.9L1502.6,877L1502.5,873.1L1502.4,869.3L1502.2,865.4L1502.1,861.5L1501.9,857.7L1501.7,853.8L1501.4,849.9L1501.1,846L1500.8,842.2L1500.5,838.3L1500.1,834.4L1499.7,830.5L1499.3,826.6L1498.9,822.7L1498.4,818.8L1497.9,814.9L1497.3,811L1496.8,807.1L1496.2,803.3L1495.6,799.4L1494.9,795.5L1494.2,791.6L1493.5,787.7L1492.7,783.8L1492,779.9L1491.2,776L1490.3,772.1L1489.5,768.2L1488.6,764.3L1487.6,760.5L1486.7,756.6L1485.7,752.7L1484.7,748.8L1483.6,744.9L1482.5,741.1L1481.4,737.2L1480.3,733.3L1479.1,729.5L1477.9,725.6L1476.6,721.7L1475.3,717.9L1474,714L1472.7,710.2L1471.3,706.4L1469.9,702.5L1468.5,698.7L1467,694.9L1465.5,691.1L1464,687.2L1462.4,683.4L1460.8,679.6L1459.2,675.8L1457.5,672.1L1455.8,668.3L1454.1,664.5L1452.3,660.7L1450.5,657L1448.7,653.2L1446.8,649.5L1444.9,645.8L1443,642L1441,638.3L1439,634.6L1437,630.9L1434.9,627.3L1432.8,623.6L1430.7,619.9L1428.5,616.3L1426.3,612.6L1424.1,609L1421.8,605.4L1419.5,601.8L1417.1,598.2L1414.7,594.6L1412.3,591L1409.9,587.5L1407.4,584L1404.9,580.4L1402.3,576.9L1399.7,573.4L1397.1,569.9L1394.4,566.5L1391.7,563L1389,559.6L1386.2,556.2L1383.4,552.8L1380.6,549.4L1377.7,546L1374.8,542.7L1371.9,539.4L1368.9,536.1L1365.9,532.8L1362.8,529.5L1359.7,526.2L1356.6,523L1353.4,519.8L1350.2,516.6L1347,513.4L1343.7,510.3L1340.4,507.2L1337.1,504.1L1333.7,501L1330.3,497.9L1326.9,494.9L1323.4,491.9L1319.9,488.9L1316.3,486L1312.7,483L1309.1,480.1L1305.4,477.2L1301.7,474.4L1298,471.6L1294.2,468.8L1290.4,466L1286.6,463.2L1282.7,460.5L1278.8,457.8L1274.9,455.2L1270.9,452.6L1266.9,450L1262.9,447.4L1258.8,444.9L1254.7,442.4L1250.5,439.9L1246.3,437.5L1242.1,435.1L1237.9,432.7L1233.6,430.4L1229.3,428.1L1224.9,425.8L1220.5,423.6L1216.1,421.4L1211.6,419.3L1207.2,417.2L1202.7,415.1L1198.1,413L1193.5,411.1L1188.9,409.1L1184.3,407.2L1179.6,405.3M1142.9,1462.8L1146.2,1464.4L1149.6,1465.9L1152.9,1467.4L1156.3,1468.9L1159.7,1470.4L1163.1,1471.8L1166.6,1473.2L1170,1474.6L1173.5,1476L1177,1477.4L1180.5,1478.7L1184,1480L1187.6,1481.3L1191.1,1482.6L1194.7,1483.8L1198.3,1485L1201.9,1486.2L1205.6,1487.4L1209.2,1488.5L1212.9,1489.6L1216.6,1490.7L1220.3,1491.7L1224,1492.8L1227.8,1493.8L1231.5,1494.8L1235.3,1495.7L1239.1,1496.6L1242.9,1497.5L1246.8,1498.4L1250.6,1499.2L1254.5,1500L1258.4,1500.8L1262.3,1501.6L1266.2,1502.3L1270.2,1503L1274.1,1503.6L1278.1,1504.2L1282.1,1504.8L1286.2,1505.4L1290.2,1505.9L1294.3,1506.4L1298.3,1506.9L1302.4,1507.3L1306.6,1507.7L1310.7,1508L1314.8,1508.3L1319,1508.6L1323.2,1508.9L1327.4,1509.1L1331.6,1509.2L1335.9,1509.4L1340.1,1509.5L1344.4,1509.5L1348.7,1509.5L1353,1509.5L1357.3,1509.4L1361.7,1509.3L1366,1509.2L1370.4,1509L1374.8,1508.8L1379.2,1508.5L1383.7,1508.2L1388.1,1507.8L1392.6,1507.4L1397,1506.9L1401.5,1506.4L1406,1505.9L1410.6,1505.3L1415.1,1504.7L1419.7,1504L1424.2,1503.2L1428.8,1502.4L1433.4,1501.6L1438,1500.7L1442.7,1499.8L1447.3,1498.8L1452,1497.7L1456.7,1496.6L1461.3,1495.5L1466,1494.2L1470.7,1493L1475.5,1491.7L1480.2,1490.3L1484.9,1488.8L1489.7,1487.3L1494.5,1485.8L1499.2,1484.2L1504,1482.5L1508.8,1480.8L1513.6,1479L1518.4,1477.1L1523.2,1475.2L1528.1,1473.2L1532.9,1471.1L1537.7,1469L1542.6,1466.8L1547.4,1464.5L1552.3,1462.2L1557.1,1459.8L1562,1457.4L1566.8,1454.8L1571.7,1452.2L1576.6,1449.5L1581.4,1446.8L1586.3,1444L1591.1,1441.1L1596,1438.1L1600.8,1435.1L1605.7,1431.9L1610.5,1428.7L1615.4,1425.4L1620.2,1422.1L1625,1418.6L1629.9,1415.1L1634.7,1411.5L1639.5,1407.8L1644.2,1404.1L1649,1400.2L1653.8,1396.3L1658.5,1392.3L1663.2,1388.2L1667.9,1384L1672.6,1379.7L1677.3,1375.3L1681.9,1370.9L1686.5,1366.3L1691.1,1361.7L1695.7,1357L1700.2,1352.2L1704.8,1347.3L1709.2,1342.3L1713.7,1337.2L1718.1,1332.1L1722.5,1326.8L1726.8,1321.4L1731.1,1316L1735.4,1310.5L1739.6,1304.8L1743.8,1299.1L1747.9,1293.3L1752,1287.4M1751.1,603.4L1746.1,595.8L1741.1,588.3L1735.9,581L1730.6,573.7L1725.3,566.5L1719.9,559.4L1714.4,552.4L1708.8,545.6L1703.2,538.8L1697.5,532.2L1691.7,525.6L1685.8,519.2L1679.9,512.9L1673.9,506.7L1667.9,500.6L1661.8,494.6L1655.7,488.7L1649.5,483L1643.2,477.4L1637,471.8L1630.7,466.5L1624.3,461.2L1617.9,456L1611.5,451L1605,446L1598.5,441.2L1592,436.5L1585.5,431.9L1578.9,427.5L1572.3,423.1L1565.7,418.9L1559.1,414.8L1552.5,410.8L1545.9,406.9L1539.2,403.1L1532.6,399.5L1525.9,395.9L1519.2,392.5L1512.6,389.1L1505.9,385.9L1499.3,382.8L1492.6,379.8L1486,376.9L1479.3,374.1L1472.7,371.4L1466.1,368.8L1459.5,366.3L1452.9,364L1446.3,361.7L1439.8,359.5L1433.2,357.4L1426.7,355.4L1420.2,353.5L1413.7,351.7L1407.3,350L1400.9,348.4L1394.5,346.9L1388.1,345.5L1381.7,344.1L1375.4,342.9L1369.1,341.7L1362.8,340.6L1356.6,339.6L1350.4,338.7L1344.2,337.8L1338.1,337.1L1332,336.4L1325.9,335.8L1319.9,335.3L1313.9,334.8L1307.9,334.5L1302,334.2L1296.1,333.9L1290.2,333.8L1284.4,333.7L1278.6,333.6L1272.8,333.7L1267.1,333.8L1261.5,334L1255.8,334.2L1250.2,334.5L1244.7,334.9L1239.2,335.3L1233.7,335.8L1228.3,336.3L1222.9,336.9L1217.5,337.6L1212.2,338.3L1206.9,339L1201.7,339.9L1196.5,340.7L1191.4,341.7L1186.3,342.6L1181.2,343.7L1176.2,344.7L1171.2,345.8"/>
</g>
<rect x="450" y="360" width="1260" height="1260" fill="none" stroke="#000" stroke-width="4.17"/>
<rect x="1944" y="417.27" width="48" height="1145.45" fill="url(#jet)"/>
<path d="M1944,417.77L1968,360L1992,417.77Z" fill="#f0f"/>
<path d="M1944,1562.23L1968,1620L1992,1562.23Z" fill="#808080"/>
<path d="M1975.3,417.27H1992M1975.3,493.64H1992M1975.3,570.00H1992M1975.3,646.36H1992M1975.3,722.73H1992M1975.3,799.09H1992M1975.3,875.45H1992M1975.3,951.82H1992M1975.3,1028.18H1992M1975.3,1104.55H1992M1975.3,1180.91H1992M1975.3,1257.27H1992M1975.3,1333.64H1992M1975.3,1410.00H1992M1975.3,1486.36H1992M1975.3,1562.73H1992" stroke="#000" stroke-width="2.08" fill="none"/>
<path d="M1944,417.27L1968,360L1992,417.27V1562.73L1968,1620L1944,1562.73Z" fill="none" stroke="#000" stroke-width="4.17" stroke-linejoin="round"/>
<text x="2005.8" y="433.2" class="t12">4.0</text>
<text x="2004.4" y="509.5" class="t12">3.5</text>
<text x="2004.4" y="585.9" class="t12">3.0</text>
<text x="2004.5" y="662.3" class="t12">2.5</text>
<text x="2004.5" y="738.6" class="t12">2.0</text>
<text x="2002.7" y="815.0" class="t12">1.5</text>
<text x="2002.7" y="891.4" class="t12">1.0</text>
<text x="2004.9" y="967.7" class="t12">0.5</text>
<text x="2004.9" y="1044.1" class="t12">0.0</text>
<text x="2002.9" y="1120.4" class="t12">−0.5</text>
<text x="2002.9" y="1196.8" class="t12">−1.0</text>
<text x="2002.9" y="1273.2" class="t12">−1.5</text>
<text x="2002.9" y="1349.5" class="t12">−2.0</text>
<text x="2002.9" y="1425.9" class="t12">−2.5</text>
<text x="2002.9" y="1502.3" class="t12">−3.0</text>
<text x="2002.9" y="1578.6" class="t12">−3.5</text>
</svg></body></html>
